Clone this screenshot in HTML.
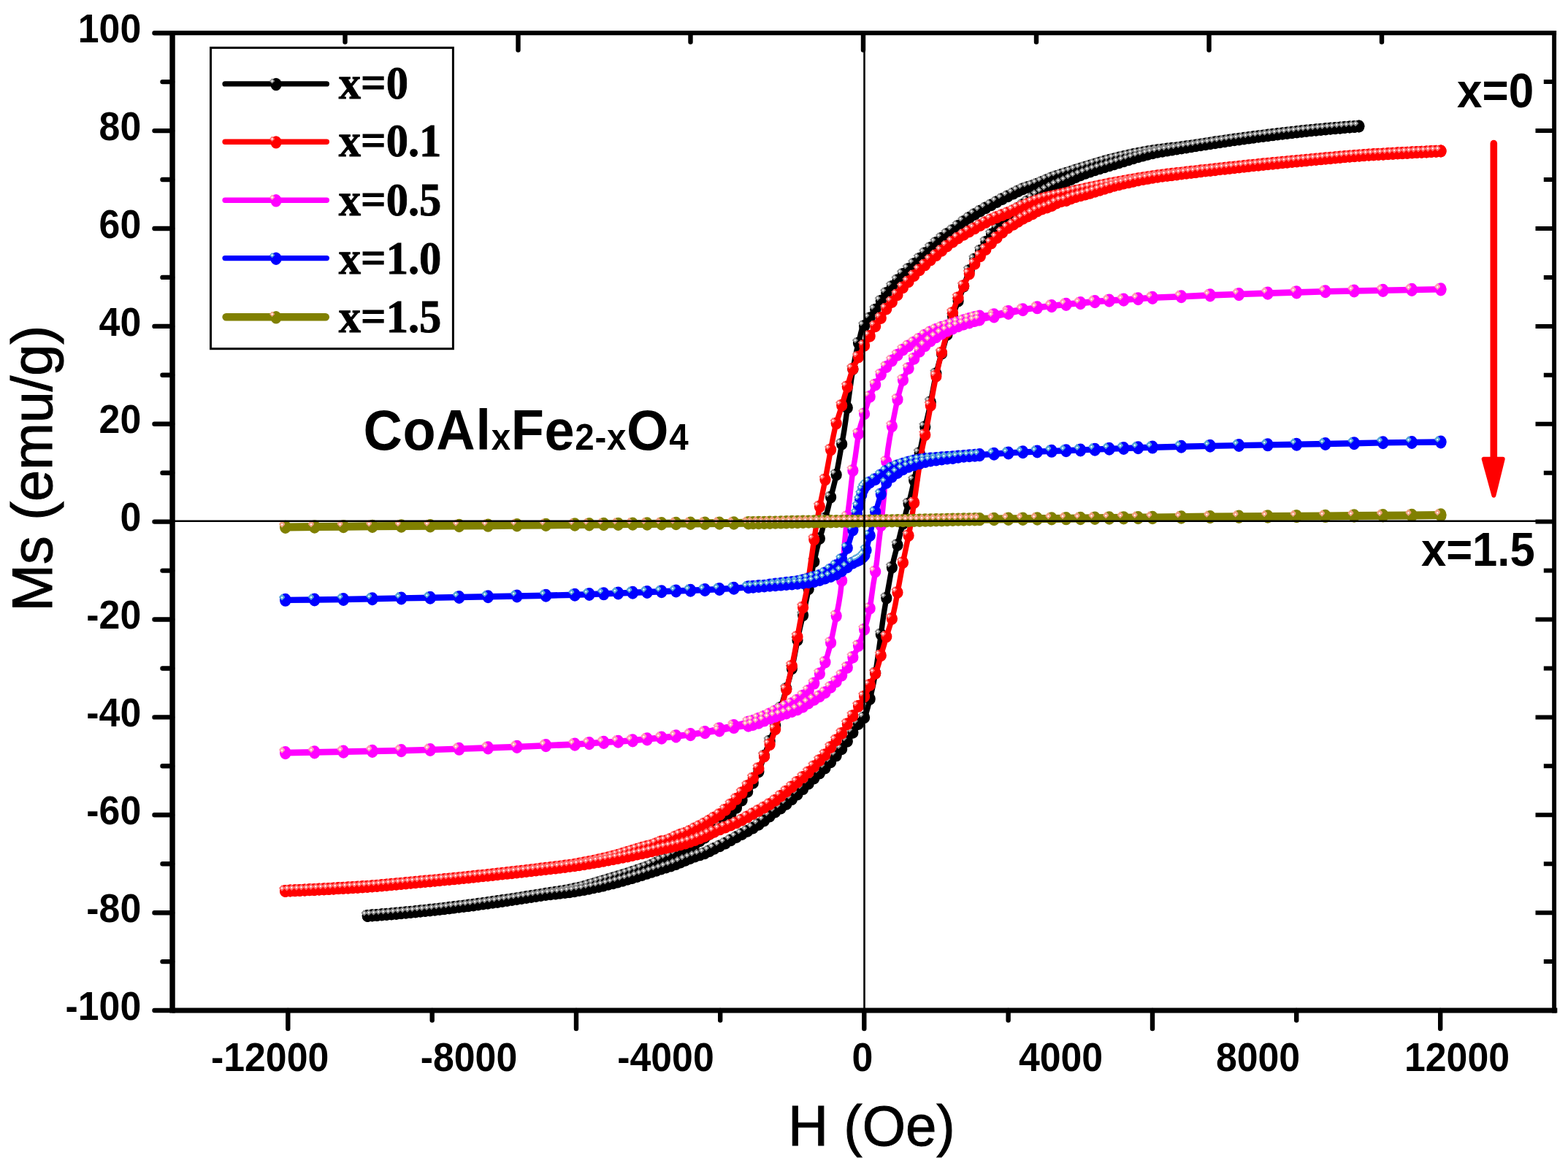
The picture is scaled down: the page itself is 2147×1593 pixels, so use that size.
<!DOCTYPE html>
<html lang="en"><head><meta charset="utf-8"><title>Hysteresis loops of CoAlxFe2-xO4</title>
<style>html,body{margin:0;padding:0;background:#fff}svg{display:block}.ab{font-family:"Liberation Sans",sans-serif;font-weight:700;fill:#000}.ar{font-family:"Liberation Sans",sans-serif;font-weight:400;fill:#000}.tb{font-family:"Liberation Serif",serif;font-weight:700;fill:#000}</style></head><body>
<svg width="2147" height="1593" viewBox="0 0 2147 1593" role="img" aria-label="Hysteresis loops (Ms versus H) of CoAlxFe2-xO4 for x = 0, 0.1, 0.5, 1.0 and 1.5">
<rect width="2147" height="1593" fill="#fff"/>
<g fill="none" stroke="#000" stroke-linecap="round" stroke-linejoin="round">
<path stroke-width="7.4" d="M503.3 1254.4 505.8 1254.2 508.3 1254 510.8 1253.8 513.3 1253.6 515.8 1253.4 518.3 1253.2 520.8 1253 523.3 1252.8 525.8 1252.6 528.3 1252.4 530.8 1252.1 533.3 1251.9 535.8 1251.7 538.3 1251.5 540.8 1251.2 543.3 1251 545.8 1250.8 548.3 1250.6 550.8 1250.3 553.3 1250.1 555.8 1249.8 558.3 1249.6 560.8 1249.3 563.3 1249.1 565.8 1248.9 568.3 1248.6 570.8 1248.3 573.3 1248.1 575.8 1247.8 578.3 1247.6 580.8 1247.3 583.3 1247 585.8 1246.7 588.3 1246.5 590.8 1246.2 593.3 1245.9 595.8 1245.6 598.3 1245.3 600.8 1245 603.3 1244.8 605.8 1244.5 608.3 1244.2 610.8 1243.9 613.3 1243.6 615.8 1243.3 618.3 1243 620.8 1242.7 623.3 1242.4 625.8 1242 628.3 1241.7 630.8 1241.4 633.3 1241.1 635.8 1240.8 638.3 1240.5 640.8 1240.1 643.3 1239.8 645.8 1239.5 648.3 1239.2 650.8 1238.8 653.3 1238.5 655.8 1238.2 658.3 1237.8 660.8 1237.5 663.3 1237.1 665.8 1236.8 668.3 1236.4 670.8 1236.1 673.3 1235.7 675.8 1235.4 678.3 1235 680.8 1234.7 683.3 1234.3 685.8 1234 688.3 1233.6 690.8 1233.2 693.3 1232.8 695.8 1232.5 698.3 1232.1 700.8 1231.7 703.3 1231.3 705.8 1231 708.3 1230.6 710.8 1230.2 713.3 1229.8 715.8 1229.4 718.3 1229 720.8 1228.6 723.3 1228.2 725.8 1227.8 728.3 1227.4 730.8 1227 733.3 1226.6 735.8 1226.2 738.3 1225.8 740.8 1225.4 743.3 1225 745.8 1224.6 748.3 1224.2 750.8 1223.8 753.3 1223.4 755.8 1223 758.3 1222.6 760.8 1222.2 763.3 1221.9 765.8 1221.5 768.3 1221.1 770.8 1220.7 773.3 1220.2 775.8 1219.8 778.3 1219.3 780.8 1218.9 783.3 1218.4 785.8 1217.9 788.3 1217.3 790.8 1216.8 793.3 1216.1 795.8 1215.5 798.3 1214.9 800.8 1214.2 803.3 1213.5 805.8 1212.8 808.3 1212.1 810.8 1211.3 813.3 1210.6 815.8 1209.8 818.3 1209.1 820.8 1208.3 823.3 1207.6 825.8 1206.8 828.3 1206 830.8 1205.3 833.3 1204.6 835.8 1203.8 838.3 1203.1 840.8 1202.3 843.3 1201.6 845.8 1200.8 848.3 1200.1 850.8 1199.3 853.3 1198.6 855.8 1197.8 858.3 1197 860.8 1196.2 863.3 1195.4 865.8 1194.6 868.3 1193.8 870.8 1193 873.3 1192.1 875.8 1191.3 878.3 1190.4 880.8 1189.5 883.3 1188.6 885.8 1187.6 888.3 1186.6 890.8 1185.6 893.3 1184.5 895.8 1183.5 898.3 1182.4 900.8 1181.2 903.3 1180.1 905.8 1179 908.3 1177.9 910.8 1176.9 913.3 1175.9 915.8 1174.9 918.3 1173.8 920.8 1172.6 923.3 1171.5 925.8 1170.2 928.3 1168.9 930.8 1167.6 933.3 1166.3 935.8 1165 938.3 1163.6 940.8 1162.2 943.3 1160.8 945.8 1159.4 948.3 1158 950.8 1156.5 953.3 1155 955.8 1153.4 958.3 1151.8 960.8 1150.1 963.3 1148.4 965.8 1146.6 968.3 1144.8 970.8 1142.9 973.3 1141 975.8 1139 978.3 1137 980.8 1134.9 983.3 1132.7 985.8 1130.5 988.3 1128.2 990.8 1125.8 993.3 1123.3 995.8 1120.7 998.3 1118 1000.8 1115.2 1003.3 1112.4 1005.8 1109.5 1008.3 1106.5 1010.8 1103.5 1013.3 1100.1 1015.8 1096.4 1018.3 1092.3 1020.8 1088.4 1023.3 1084.7 1025.8 1081 1028.3 1077.1 1030.8 1073.1 1033.3 1068.8 1035.8 1064.1 1038.3 1058.4 1040.8 1051.7 1043.3 1044.6 1045.8 1037.2 1048.3 1030.1 1050.8 1023.4 1053.3 1016.9 1055.8 1010.4 1058.3 1003.7 1060.8 996.5 1063.3 988.9 1065.8 980.8 1068.3 972.4 1070.8 963.8 1073.3 955.2 1075.8 946.6 1078.3 938.4 1080.8 929.8 1083.3 920.4 1085.8 909.1 1088.3 896.3 1090.8 883 1093.3 870.1 1095.8 858.5 1098.3 848 1100.8 837.5 1103.3 826 1105.8 813.8 1108.3 801.1 1110.8 788.4 1113.3 776.1 1115.8 764.6 1118.3 753.3 1120.8 743 1123.3 734.6 1125.8 726.5 1128.3 715.9 1130.8 707.4 1133.3 698.3 1135.8 688 1138.3 678 1140.8 668.7 1143.3 658.7 1145.8 646.7 1148.3 633.1 1150.8 618.9 1153.3 605 1155.8 590.3 1158.3 573.4 1160.8 554.8 1163.3 536.8 1165.8 519.1 1168.3 503.2 1170.8 490.2 1173.3 478.9 1175.8 468.8 1178.3 457.8 1180.8 448.2 1183.3 446.3 1185.8 444.8 1188.3 440.7 1190.8 436.4 1193.3 432.6 1195.8 428.8 1198.3 424.8 1200.8 420.9 1203.3 416.9 1205.8 413 1208.3 409 1210.8 405.4 1213.3 402.2 1215.8 399.1 1218.3 396.1 1220.8 393.2 1223.3 390.3 1225.8 387.4 1228.3 384.4 1230.8 381.6 1233.3 378.8 1235.8 376.2 1238.3 373.7 1240.8 371.4 1243.3 369.2 1245.8 366.9 1248.3 364.6 1250.8 362.3 1253.3 359.9 1255.8 357.5 1258.3 355 1260.8 352.6 1263.3 350.2 1265.8 347.7 1268.3 345.3 1270.8 342.9 1273.3 340.5 1275.8 338.2 1278.3 335.8 1280.8 333.6 1283.3 331.3 1285.8 329.2 1288.3 327.1 1290.8 325.1 1293.3 323.1 1295.8 321.3 1298.3 319.6 1300.8 317.9 1303.3 316.2 1305.8 314.5 1308.3 312.5 1310.8 310.5 1313.3 308.5 1315.8 306.5 1318.3 304.5 1320.8 302.7 1323.3 300.9 1325.8 299.2 1328.3 297.6 1330.8 295.9 1333.3 294.4 1335.8 292.9 1338.3 291.4 1340.8 290 1343.3 288.6 1345.8 287.2 1348.3 285.8 1350.8 284.4 1353.3 283 1355.8 281.7 1358.3 280.3 1360.8 278.9 1363.3 277.5 1365.8 276.1 1368.3 274.8 1370.8 273.4 1373.3 272.1 1375.8 270.8 1378.3 269.6 1380.8 268.4 1383.3 267.2 1385.8 266 1388.3 264.8 1390.8 263.5 1393.3 262.3 1395.8 261 1398.3 259.9 1400.8 258.8 1403.3 257.9 1405.8 257.1 1408.3 256.3 1410.8 255.5 1413.3 254.7 1415.8 253.8 1418.3 252.8 1420.8 251.9 1423.3 250.9 1425.8 249.8 1428.3 248.8 1430.8 247.8 1433.3 246.7 1435.8 245.6 1438.3 244.6 1440.8 243.6 1443.3 242.7 1445.8 241.8 1448.3 241 1450.8 240.2 1453.3 239.3 1455.8 238.6 1458.3 237.8 1460.8 237 1463.3 236.2 1465.8 235.4 1468.3 234.7 1470.8 233.9 1473.3 233.1 1475.8 232.3 1478.3 231.5 1480.8 230.7 1483.3 229.9 1485.8 229.2 1488.3 228.4 1490.8 227.6 1493.3 226.8 1495.8 226.1 1498.3 225.3 1500.8 224.6 1503.3 223.8 1505.8 223.1 1508.3 222.4 1510.8 221.7 1513.3 221 1515.8 220.3 1518.3 219.6 1520.8 218.9 1523.3 218.3 1525.8 217.6 1528.3 217 1530.8 216.4 1533.3 215.8 1535.8 215.2 1538.3 214.6 1540.8 214.1 1543.3 213.5 1545.8 213 1548.3 212.4 1550.8 211.9 1553.3 211.4 1555.8 210.8 1558.3 210.3 1560.8 209.9 1563.3 209.4 1565.8 208.9 1568.3 208.4 1570.8 208 1573.3 207.6 1575.8 207.2 1578.3 206.8 1580.8 206.4 1583.3 206 1585.8 205.7 1588.3 205.3 1590.8 205 1593.3 204.7 1595.8 204.4 1598.3 204.1 1600.8 203.8 1603.3 203.5 1605.8 203.2 1608.3 203 1610.8 202.7 1613.3 202.4 1615.8 202 1618.3 201.7 1620.8 201.4 1623.3 201 1625.8 200.7 1628.3 200.3 1630.8 200 1633.3 199.6 1635.8 199.2 1638.3 198.8 1640.8 198.5 1643.3 198.1 1645.8 197.7 1648.3 197.3 1650.8 196.9 1653.3 196.5 1655.8 196.1 1658.3 195.7 1660.8 195.3 1663.3 195 1665.8 194.6 1668.3 194.2 1670.8 193.8 1673.3 193.5 1675.8 193.1 1678.3 192.7 1680.8 192.4 1683.3 192 1685.8 191.7 1688.3 191.3 1690.8 191 1693.3 190.6 1695.8 190.3 1698.3 190 1700.8 189.6 1703.3 189.3 1705.8 189 1708.3 188.6 1710.8 188.3 1713.3 188 1715.8 187.6 1718.3 187.3 1720.8 187 1723.3 186.7 1725.8 186.3 1728.3 186 1730.8 185.7 1733.3 185.4 1735.8 185.1 1738.3 184.8 1740.8 184.5 1743.3 184.2 1745.8 183.9 1748.3 183.6 1750.8 183.3 1753.3 183 1755.8 182.7 1758.3 182.4 1760.8 182.1 1763.3 181.9 1765.8 181.6 1768.3 181.3 1770.8 181 1773.3 180.7 1775.8 180.5 1778.3 180.2 1780.8 179.9 1783.3 179.7 1785.8 179.4 1788.3 179.1 1790.8 178.9 1793.3 178.6 1795.8 178.4 1798.3 178.2 1800.8 177.9 1803.3 177.7 1805.8 177.5 1808.3 177.2 1810.8 177 1813.3 176.8 1815.8 176.6 1818.3 176.3 1820.8 176.1 1823.3 175.9 1825.8 175.7 1828.3 175.5 1830.8 175.3 1833.3 175.1 1835.8 174.9 1838.3 174.7 1840.8 174.5 1843.3 174.3 1845.8 174.1 1848.3 173.9 1850.8 173.7 1853.3 173.5 1855.8 173.3 1858.3 173.2 1860.8 173"/>
<path stroke-width="7.4" d="M503.3 1254.4 505.8 1254.2 508.3 1254.1 510.8 1253.9 513.3 1253.7 515.8 1253.5 518.3 1253.3 520.8 1253.1 523.3 1252.9 525.8 1252.7 528.3 1252.5 530.8 1252.3 533.3 1252.1 535.8 1251.9 538.3 1251.7 540.8 1251.5 543.3 1251.3 545.8 1251.1 548.3 1250.9 550.8 1250.6 553.3 1250.4 555.8 1250.2 558.3 1250 560.8 1249.7 563.3 1249.5 565.8 1249.3 568.3 1249 570.8 1248.8 573.3 1248.5 575.8 1248.3 578.3 1248 580.8 1247.8 583.3 1247.5 585.8 1247.2 588.3 1247 590.8 1246.7 593.3 1246.4 595.8 1246.1 598.3 1245.9 600.8 1245.6 603.3 1245.3 605.8 1245 608.3 1244.7 610.8 1244.4 613.3 1244.1 615.8 1243.8 618.3 1243.5 620.8 1243.2 623.3 1243 625.8 1242.7 628.3 1242.3 630.8 1242 633.3 1241.7 635.8 1241.4 638.3 1241.1 640.8 1240.8 643.3 1240.5 645.8 1240.2 648.3 1239.8 650.8 1239.5 653.3 1239.2 655.8 1238.9 658.3 1238.5 660.8 1238.2 663.3 1237.9 665.8 1237.5 668.3 1237.2 670.8 1236.8 673.3 1236.5 675.8 1236.1 678.3 1235.8 680.8 1235.5 683.3 1235.1 685.8 1234.8 688.3 1234.4 690.8 1234 693.3 1233.7 695.8 1233.3 698.3 1232.9 700.8 1232.5 703.3 1232.2 705.8 1231.8 708.3 1231.4 710.8 1231 713.3 1230.6 715.8 1230.2 718.3 1229.8 720.8 1229.5 723.3 1229.1 725.8 1228.7 728.3 1228.3 730.8 1227.9 733.3 1227.6 735.8 1227.2 738.3 1226.8 740.8 1226.5 743.3 1226.1 745.8 1225.8 748.3 1225.5 750.8 1225.2 753.3 1224.9 755.8 1224.6 758.3 1224.3 760.8 1224 763.3 1223.7 765.8 1223.4 768.3 1223.1 770.8 1222.8 773.3 1222.5 775.8 1222.2 778.3 1221.9 780.8 1221.5 783.3 1221.2 785.8 1220.8 788.3 1220.4 790.8 1220 793.3 1219.6 795.8 1219.1 798.3 1218.7 800.8 1218.2 803.3 1217.8 805.8 1217.3 808.3 1216.8 810.8 1216.3 813.3 1215.8 815.8 1215.2 818.3 1214.7 820.8 1214.1 823.3 1213.6 825.8 1213 828.3 1212.5 830.8 1211.9 833.3 1211.3 835.8 1210.7 838.3 1210.1 840.8 1209.4 843.3 1208.8 845.8 1208.1 848.3 1207.5 850.8 1206.8 853.3 1206.1 855.8 1205.4 858.3 1204.7 860.8 1203.9 863.3 1203.2 865.8 1202.5 868.3 1201.7 870.8 1201 873.3 1200.2 875.8 1199.4 878.3 1198.7 880.8 1197.9 883.3 1197.1 885.8 1196.3 888.3 1195.6 890.8 1194.8 893.3 1194 895.8 1193.2 898.3 1192.4 900.8 1191.6 903.3 1190.9 905.8 1190.1 908.3 1189.3 910.8 1188.5 913.3 1187.7 915.8 1186.9 918.3 1186.1 920.8 1185.3 923.3 1184.4 925.8 1183.4 928.3 1182.4 930.8 1181.4 933.3 1180.3 935.8 1179.2 938.3 1178.2 940.8 1177.2 943.3 1176.2 945.8 1175.2 948.3 1174.2 950.8 1173.3 953.3 1172.4 955.8 1171.6 958.3 1170.9 960.8 1170.1 963.3 1169.2 965.8 1168.3 968.3 1167.2 970.8 1166 973.3 1164.8 975.8 1163.5 978.3 1162.2 980.8 1161 983.3 1159.9 985.8 1158.7 988.3 1157.5 990.8 1156.2 993.3 1155 995.8 1153.6 998.3 1152.3 1000.8 1150.9 1003.3 1149.5 1005.8 1148.1 1008.3 1146.8 1010.8 1145.4 1013.3 1144 1015.8 1142.7 1018.3 1141.3 1020.8 1139.9 1023.3 1138.5 1025.8 1137.1 1028.3 1135.7 1030.8 1134.2 1033.3 1132.7 1035.8 1131.1 1038.3 1129.5 1040.8 1127.8 1043.3 1126.1 1045.8 1124.3 1048.3 1122.5 1050.8 1120.5 1053.3 1118.5 1055.8 1116.5 1058.3 1114.5 1060.8 1112.6 1063.3 1110.9 1065.8 1109.2 1068.3 1107.5 1070.8 1105.8 1073.3 1104 1075.8 1102.1 1078.3 1100 1080.8 1097.9 1083.3 1095.8 1085.8 1093.5 1088.3 1091.3 1090.8 1089 1093.3 1086.6 1095.8 1084.2 1098.3 1081.8 1100.8 1079.4 1103.3 1077 1105.8 1074.6 1108.3 1072.1 1110.8 1069.7 1113.3 1067.3 1115.8 1064.9 1118.3 1062.6 1120.8 1060.3 1123.3 1058.1 1125.8 1055.9 1128.3 1053.6 1130.8 1051.1 1133.3 1048.4 1135.8 1045.7 1138.3 1042.8 1140.8 1039.9 1143.3 1037 1145.8 1034.1 1148.3 1031.2 1150.8 1028.2 1153.3 1025.1 1155.8 1021.9 1158.3 1018.3 1160.8 1014.4 1163.3 1010.4 1165.8 1006.5 1168.3 1002.5 1170.8 998.6 1173.3 994.6 1175.8 991.1 1178.3 988.5 1180.8 986.2 1183.3 983.1 1185.8 977.6 1188.3 968.7 1190.8 958.7 1193.3 948.5 1195.8 937.2 1198.3 924.2 1200.8 908.2 1203.3 890.4 1205.8 872.4 1208.3 853.6 1210.8 836.8 1213.3 822.1 1215.8 808 1218.3 793.8 1220.8 780.2 1223.3 768.2 1225.8 758.3 1228.3 748.9 1230.8 738.8 1233.3 728.6 1235.8 719.5 1238.3 710.8 1240.8 700.3 1243.3 692.3 1245.8 683.7 1248.3 673.2 1250.8 661.9 1253.3 650.2 1255.8 637.9 1258.3 625.1 1260.8 612.4 1263.3 600.1 1265.8 588.8 1268.3 578.3 1270.8 567.7 1273.3 555.9 1275.8 542.8 1278.3 529.4 1280.8 516.7 1283.3 505.7 1285.8 496.4 1288.3 487.9 1290.8 479.6 1293.3 471 1295.8 462.3 1298.3 453.7 1300.8 445.3 1303.3 437.2 1305.8 429.6 1308.3 422.6 1310.8 415.8 1313.3 409.3 1315.8 402.8 1318.3 396 1320.8 388.8 1323.3 381.4 1325.8 374.3 1328.3 367.8 1330.8 362.3 1333.3 357.6 1335.8 353.4 1338.3 349.4 1340.8 345.5 1343.3 341.9 1345.8 338.1 1348.3 334.1 1350.8 330.1 1353.3 326.5 1355.8 323.2 1358.3 320.1 1360.8 317.2 1363.3 314.3 1365.8 311.5 1368.3 308.7 1370.8 306 1373.3 303.4 1375.8 300.9 1378.3 298.5 1380.8 296.3 1383.3 294 1385.8 291.9 1388.3 289.8 1390.8 287.8 1393.3 285.8 1395.8 283.9 1398.3 282.1 1400.8 280.2 1403.3 278.5 1405.8 276.8 1408.3 275.1 1410.8 273.5 1413.3 271.9 1415.8 270.4 1418.3 268.9 1420.8 267.5 1423.3 266.1 1425.8 264.7 1428.3 263.3 1430.8 262 1433.3 260.6 1435.8 259.3 1438.3 258 1440.8 256.7 1443.3 255.5 1445.8 254.3 1448.3 253.2 1450.8 252.1 1453.3 251.1 1455.8 250.1 1458.3 249 1460.8 247.9 1463.3 246.8 1465.8 245.7 1468.3 244.6 1470.8 243.5 1473.3 242.4 1475.8 241.3 1478.3 240.3 1480.8 239.4 1483.3 238.4 1485.8 237.5 1488.3 236.6 1490.8 235.8 1493.3 234.9 1495.8 234 1498.3 233.2 1500.8 232.4 1503.3 231.6 1505.8 230.8 1508.3 230 1510.8 229.2 1513.3 228.5 1515.8 227.7 1518.3 226.9 1520.8 226.2 1523.3 225.4 1525.8 224.7 1528.3 223.9 1530.8 223.2 1533.3 222.5 1535.8 221.7 1538.3 221 1540.8 220.2 1543.3 219.4 1545.8 218.7 1548.3 217.9 1550.8 217.2 1553.3 216.4 1555.8 215.7 1558.3 214.9 1560.8 214.2 1563.3 213.5 1565.8 212.8 1568.3 212.2 1570.8 211.5 1573.3 210.9 1575.8 210.3 1578.3 209.8 1580.8 209.2 1583.3 208.7 1585.8 208.2 1588.3 207.8 1590.8 207.3 1593.3 206.9 1595.8 206.5 1598.3 206.1 1600.8 205.7 1603.3 205.3 1605.8 204.9 1608.3 204.5 1610.8 204.1 1613.3 203.8 1615.8 203.4 1618.3 203 1620.8 202.6 1623.3 202.2 1625.8 201.8 1628.3 201.3 1630.8 200.9 1633.3 200.5 1635.8 200.1 1638.3 199.7 1640.8 199.3 1643.3 198.9 1645.8 198.5 1648.3 198.1 1650.8 197.7 1653.3 197.3 1655.8 197 1658.3 196.6 1660.8 196.2 1663.3 195.8 1665.8 195.4 1668.3 195 1670.8 194.7 1673.3 194.3 1675.8 193.9 1678.3 193.5 1680.8 193.2 1683.3 192.8 1685.8 192.5 1688.3 192.1 1690.8 191.7 1693.3 191.4 1695.8 191 1698.3 190.7 1700.8 190.3 1703.3 190 1705.8 189.7 1708.3 189.3 1710.8 189 1713.3 188.6 1715.8 188.3 1718.3 188 1720.8 187.6 1723.3 187.3 1725.8 187 1728.3 186.7 1730.8 186.3 1733.3 186 1735.8 185.7 1738.3 185.4 1740.8 185.1 1743.3 184.8 1745.8 184.5 1748.3 184.2 1750.8 183.9 1753.3 183.6 1755.8 183.3 1758.3 183 1760.8 182.7 1763.3 182.4 1765.8 182.1 1768.3 181.8 1770.8 181.5 1773.3 181.2 1775.8 181 1778.3 180.7 1780.8 180.4 1783.3 180.1 1785.8 179.9 1788.3 179.6 1790.8 179.3 1793.3 179.1 1795.8 178.8 1798.3 178.6 1800.8 178.3 1803.3 178.1 1805.8 177.8 1808.3 177.6 1810.8 177.3 1813.3 177.1 1815.8 176.9 1818.3 176.6 1820.8 176.4 1823.3 176.2 1825.8 175.9 1828.3 175.7 1830.8 175.5 1833.3 175.3 1835.8 175 1838.3 174.8 1840.8 174.6 1843.3 174.4 1845.8 174.2 1848.3 174 1850.8 173.8 1853.3 173.6 1855.8 173.4 1858.3 173.2 1860.8 173"/>
<g transform="scale(1 1.11842)">
<path stroke-width="15.2" d="M503.3 1121.6h0M509.6 1121.1h0M516.2 1120.7h0M522.8 1120.2h0M529.4 1119.7h0M536 1119.2h0M542.6 1118.6h0M549.2 1118.1h0M555.8 1117.5h0M562.4 1116.9h0M569 1116.3h0M575.6 1115.7h0M582.2 1115.1h0M588.8 1114.4h0M595.4 1113.8h0M602 1113.1h0M608.6 1112.4h0M615.2 1111.7h0M621.8 1111h0M628.4 1110.3h0M635 1109.5h0M641.6 1108.8h0M648.2 1108h0M654.8 1107.2h0M661.4 1106.4h0M668 1105.6h0M674.6 1104.7h0M681.2 1103.9h0M687.8 1103h0M694.4 1102.2h0M701 1101.3h0M707.6 1100.4h0M714.2 1099.5h0M720.8 1098.5h0M727.4 1097.6h0M734 1096.6h0M740.6 1095.7h0M747.2 1094.7h0M753.8 1093.8h0M760.4 1092.9h0M767 1092h0M773.6 1091h0M780.2 1089.9h0M786.8 1088.7h0M793.4 1087.4h0M800 1085.8h0M806.6 1084.2h0M813.2 1082.5h0M819.8 1080.7h0M826.4 1078.9h0M833 1077.1h0M839.6 1075.4h0M846.2 1073.6h0M852.8 1071.8h0M859.4 1070h0M866 1068.1h0M872.6 1066.1h0M879.2 1064.1h0M885.8 1061.9h0M892.4 1059.5h0M899 1056.9h0M905.6 1054.3h0M912.2 1051.8h0M918.8 1049.3h0M925.4 1046.5h0M932 1043.5h0M938.6 1040.3h0M945.2 1037h0M951.8 1033.5h0M958.4 1029.8h0M965 1025.7h0M971.6 1021.4h0M978.2 1016.7h0M985.8 1010.9h0M993.4 1004.3h0M1000.9 997h0M1008.5 989.2h0M1016.1 979.9h0M1023.7 969.4h0M1031.3 958.8h0M1038.9 945h0M1046.5 925.7h0M1054.1 907.5h0M1061.7 888.8h0M1069.3 866.6h0M1076.8 843.4h0M1084.4 818.7h0M1092 783.9h0M1099.6 753.4h0M1107.2 721.4h0M1114.8 687.9h0M1122.4 659.4h0M1130 634.9h0M1137.6 608.9h0M1145.2 581.3h0M1152.7 543.8h0M1160.3 499.3h0M1167.9 452h0M1175.5 420.3h0M1183.6 399.2h0M1191.2 389.7h0M1198.7 379.3h0M1206.3 368.6h0M1213.8 359h0M1221.4 351h0M1229 343.1h0M1236.5 335.7h0M1244.1 329.5h0M1251.7 323.2h0M1259.2 316.7h0M1266.8 310.1h0M1274.3 303.6h0M1281.9 297.4h0M1289.5 291.6h0M1297 286.6h0M1304.6 282h0M1312.1 276.7h0M1319.7 271.4h0M1327.3 266.7h0M1334.8 262.4h0M1342.4 258.5h0M1349.9 254.7h0M1357.5 251h0M1365.1 247.3h0M1372.6 243.6h0M1380.2 240.3h0M1387.8 237h0M1394.3 234h0M1400.9 231.4h0M1407.5 229.4h0M1414.1 227.5h0M1420.6 225.3h0M1427.2 222.9h0M1433.8 220.4h0M1440.4 218h0M1446.9 215.9h0M1453.5 214h0M1460.1 212.1h0M1466.7 210.3h0M1473.2 208.4h0M1479.8 206.6h0M1486.4 204.7h0M1493 202.9h0M1499.5 201.2h0M1506.1 199.4h0M1512.7 197.7h0M1519.3 196.1h0M1525.8 194.6h0M1532.4 193.1h0M1539 191.8h0M1545.6 190.5h0M1552.1 189.2h0M1558.7 188h0M1565.3 186.9h0M1571.9 185.8h0M1578.4 184.9h0M1585 184h0M1591.6 183.2h0M1598.2 182.5h0M1604.7 181.8h0M1611.3 181.2h0M1617.9 180.4h0M1624.5 179.6h0M1631 178.8h0M1637.6 177.9h0M1644.2 177h0M1650.8 176.1h0M1657.3 175.2h0M1663.9 174.2h0M1670.5 173.4h0M1677.1 172.5h0M1683.6 171.7h0M1690.2 170.8h0M1696.8 170h0M1703.4 169.2h0M1709.9 168.5h0M1716.5 167.7h0M1723.1 166.9h0M1729.7 166.2h0M1736.2 165.5h0M1742.8 164.8h0M1749.4 164.1h0M1756 163.4h0M1762.5 162.7h0M1769.1 162h0M1775.7 161.4h0M1782.3 160.7h0M1788.8 160.1h0M1795.4 159.5h0M1802 159h0M1808.6 158.4h0M1815.1 157.9h0M1821.7 157.4h0M1828.3 156.9h0M1834.9 156.4h0M1841.4 155.9h0M1848 155.5h0M1854.6 155.1h0M1860.8 154.7h0"/>
<path stroke-width="15.2" d="M503.3 1121.6h0M509.6 1121.2h0M516.2 1120.8h0M522.8 1120.3h0M529.4 1119.8h0M536 1119.4h0M542.6 1118.9h0M549.2 1118.3h0M555.8 1117.8h0M562.4 1117.3h0M569 1116.7h0M575.6 1116.1h0M582.2 1115.5h0M588.8 1114.9h0M595.4 1114.2h0M602 1113.6h0M608.6 1112.9h0M615.2 1112.2h0M621.8 1111.5h0M628.4 1110.8h0M635 1110.1h0M641.6 1109.3h0M648.2 1108.6h0M654.8 1107.8h0M661.4 1107h0M668 1106.2h0M674.6 1105.4h0M681.2 1104.6h0M687.8 1103.8h0M694.4 1102.9h0M701 1102h0M707.6 1101.1h0M714.2 1100.2h0M720.8 1099.3h0M727.4 1098.4h0M734 1097.5h0M740.6 1096.6h0M747.2 1095.8h0M753.8 1095.1h0M760.4 1094.4h0M767 1093.7h0M773.6 1093h0M780.2 1092.3h0M786.8 1091.4h0M793.4 1090.4h0M800 1089.4h0M806.6 1088.3h0M813.2 1087.1h0M819.8 1085.8h0M826.4 1084.5h0M833 1083.1h0M839.6 1081.7h0M846.2 1080.1h0M852.8 1078.5h0M859.4 1076.8h0M866 1075.1h0M872.6 1073.3h0M879.2 1071.5h0M885.8 1069.7h0M892.4 1067.8h0M899 1066h0M905.6 1064.1h0M912.2 1062.3h0M918.8 1060.4h0M925.4 1058.3h0M932 1055.9h0M938.6 1053.4h0M945.2 1051h0M951.8 1048.8h0M958.4 1046.9h0M965 1044.9h0M971.6 1042.2h0M978.2 1039.2h0M985.8 1036h0M993.4 1032.7h0M1000.9 1029h0M1008.5 1025.2h0M1016.1 1021.5h0M1023.7 1017.8h0M1031.3 1013.9h0M1038.9 1009.6h0M1046.5 1004.9h0M1054.1 999.6h0M1061.7 994.3h0M1069.3 989.7h0M1076.8 984.6h0M1084.4 978.9h0M1092 972.7h0M1099.6 966.2h0M1107.2 959.6h0M1114.8 953.1h0M1122.4 946.8h0M1130 940.6h0M1137.6 933.2h0M1145.2 925.3h0M1152.7 917.2h0M1160.3 907.7h0M1167.9 897h0M1175.5 886.5h0M1183.6 878.6h0M1191.2 856h0M1198.7 824.3h0M1206.3 776.9h0M1213.8 732.4h0M1221.4 694.9h0M1229 667.4h0M1236.5 641.4h0M1244.1 616.9h0M1251.7 588.4h0M1259.2 554.9h0M1266.8 522.8h0M1274.3 492.4h0M1281.9 457.6h0M1289.5 432.9h0M1297 409.7h0M1304.6 387.5h0M1312.1 368.7h0M1319.7 350.6h0M1327.3 331.2h0M1334.8 317.5h0M1342.4 306.9h0M1349.9 296.4h0M1357.5 287.1h0M1365.1 279.2h0M1372.6 271.9h0M1380.2 265.4h0M1387.8 259.6h0M1394.3 254.9h0M1400.9 250.5h0M1407.5 246.5h0M1414.1 242.7h0M1420.6 239.3h0M1427.2 236h0M1433.8 232.8h0M1440.4 229.7h0M1446.9 226.9h0M1453.5 224.5h0M1460.1 222h0M1466.7 219.4h0M1473.2 216.8h0M1479.8 214.4h0M1486.4 212.2h0M1493 210.1h0M1499.5 208.2h0M1506.1 206.3h0M1512.7 204.5h0M1519.3 202.7h0M1525.8 200.9h0M1532.4 199.2h0M1539 197.4h0M1545.6 195.6h0M1552.1 193.8h0M1558.7 192.1h0M1565.3 190.4h0M1571.9 188.9h0M1578.4 187.5h0M1585 186.3h0M1591.6 185.3h0M1598.2 184.3h0M1604.7 183.4h0M1611.3 182.5h0M1617.9 181.5h0M1624.5 180.6h0M1631 179.6h0M1637.6 178.7h0M1644.2 177.7h0M1650.8 176.8h0M1657.3 175.9h0M1663.9 175h0M1670.5 174.1h0M1677.1 173.2h0M1683.6 172.4h0M1690.2 171.5h0M1696.8 170.7h0M1703.4 169.9h0M1709.9 169.1h0M1716.5 168.3h0M1723.1 167.5h0M1729.7 166.8h0M1736.2 166h0M1742.8 165.3h0M1749.4 164.6h0M1756 163.9h0M1762.5 163.2h0M1769.1 162.5h0M1775.7 161.8h0M1782.3 161.2h0M1788.8 160.5h0M1795.4 159.9h0M1802 159.3h0M1808.6 158.8h0M1815.1 158.2h0M1821.7 157.6h0M1828.3 157.1h0M1834.9 156.6h0M1841.4 156.1h0M1848 155.6h0M1854.6 155.1h0M1860.8 154.7h0"/>
</g>
<path stroke="#8c8c8c" stroke-linecap="square" stroke-width="5.7" d="M498.6 1250.4l.01 .01M504.9 1249.9l.01 .01M511.5 1249.4l.01 .01M518.1 1248.8l.01 .01M524.7 1248.3l.01 .01M531.3 1247.7l.01 .01M537.9 1247.1l.01 .01M544.5 1246.5l.01 .01M551.1 1245.8l.01 .01M557.7 1245.2l.01 .01M564.3 1244.5l.01 .01M570.9 1243.9l.01 .01M577.5 1243.1l.01 .01M584.1 1242.4l.01 .01M590.7 1241.7l.01 .01M597.3 1240.9l.01 .01M603.9 1240.1l.01 .01M610.5 1239.3l.01 .01M617.1 1238.5l.01 .01M623.7 1237.7l.01 .01M630.3 1236.9l.01 .01M636.9 1236.1l.01 .01M643.5 1235.2l.01 .01M650.1 1234.3l.01 .01M656.7 1233.4l.01 .01M663.3 1232.5l.01 .01M669.9 1231.6l.01 .01M676.5 1230.6l.01 .01M683.1 1229.7l.01 .01M689.7 1228.7l.01 .01M696.3 1227.7l.01 .01M702.9 1226.7l.01 .01M709.5 1225.6l.01 .01M716.1 1224.6l.01 .01M722.7 1223.5l.01 .01M729.3 1222.5l.01 .01M735.9 1221.4l.01 .01M742.5 1220.4l.01 .01M749.1 1219.3l.01 .01M755.7 1218.3l.01 .01M762.3 1217.3l.01 .01M768.9 1216.2l.01 .01M775.5 1215l.01 .01M782.1 1213.7l.01 .01M788.7 1212.1l.01 .01M795.3 1210.4l.01 .01M801.9 1208.6l.01 .01M808.5 1206.6l.01 .01M815.1 1204.6l.01 .01M821.7 1202.6l.01 .01M828.3 1200.7l.01 .01M834.9 1198.7l.01 .01M841.5 1196.7l.01 .01M848.1 1194.7l.01 .01M854.7 1192.7l.01 .01M861.3 1190.6l.01 .01M867.9 1188.4l.01 .01M874.5 1186.1l.01 .01M881.1 1183.7l.01 .01M887.7 1181l.01 .01M894.3 1178.1l.01 .01M900.9 1175.1l.01 .01M907.5 1172.3l.01 .01M914.1 1169.6l.01 .01M920.7 1166.4l.01 .01M927.3 1163l.01 .01M933.9 1159.5l.01 .01M940.5 1155.8l.01 .01M947.1 1151.9l.01 .01M953.7 1147.8l.01 .01M960.3 1143.2l.01 .01M966.9 1138.3l.01 .01M973.5 1133.1l.01 .01M981.1 1126.6l.01 .01M988.7 1119.3l.01 .01M996.2 1111.1l.01 .01M1003.8 1102.3l.01 .01M1011.4 1091.9l.01 .01M1019 1080.2l.01 .01M1026.6 1068.3l.01 .01M1034.2 1052.9l.01 .01M1041.8 1031.3l.01 .01M1049.4 1011l.01 .01M1057 990l.01 .01M1064.6 965.2l.01 .01M1072.1 939.3l.01 .01M1079.7 911.7l.01 .01M1087.3 872.7l.01 .01M1094.9 838.7l.01 .01M1102.5 802.8l.01 .01M1110.1 765.3l.01 .01M1117.7 733.5l.01 .01M1125.3 706.1l.01 .01M1132.9 677l.01 .01M1140.5 646.2l.01 .01M1148 604.2l.01 .01M1155.6 554.5l.01 .01M1163.2 501.5l.01 .01M1170.8 466l.01 .01M1178.9 442.5l.01 .01M1186.5 431.9l.01 .01M1194 420.2l.01 .01M1201.6 408.2l.01 .01M1209.1 397.5l.01 .01M1216.7 388.5l.01 .01M1224.3 379.7l.01 .01M1231.8 371.5l.01 .01M1239.4 364.5l.01 .01M1247 357.5l.01 .01M1254.5 350.2l.01 .01M1262.1 342.8l.01 .01M1269.6 335.6l.01 .01M1277.2 328.6l.01 .01M1284.8 322.2l.01 .01M1292.3 316.5l.01 .01M1299.9 311.4l.01 .01M1307.4 305.5l.01 .01M1315 299.5l.01 .01M1322.6 294.3l.01 .01M1330.1 289.5l.01 .01M1337.7 285.1l.01 .01M1345.2 280.9l.01 .01M1352.8 276.7l.01 .01M1360.4 272.6l.01 .01M1367.9 268.4l.01 .01M1375.5 264.7l.01 .01M1383.1 261.1l.01 .01M1389.6 257.8l.01 .01M1396.2 254.8l.01 .01M1402.8 252.5l.01 .01M1409.4 250.4l.01 .01M1415.9 247.9l.01 .01M1422.5 245.3l.01 .01M1429.1 242.5l.01 .01M1435.7 239.8l.01 .01M1442.2 237.4l.01 .01M1448.8 235.3l.01 .01M1455.4 233.2l.01 .01M1462 231.2l.01 .01M1468.5 229.1l.01 .01M1475.1 227l.01 .01M1481.7 225l.01 .01M1488.3 223l.01 .01M1494.8 221l.01 .01M1501.4 219l.01 .01M1508 217.2l.01 .01M1514.6 215.4l.01 .01M1521.1 213.6l.01 .01M1527.7 212l.01 .01M1534.3 210.5l.01 .01M1540.9 209l.01 .01M1547.4 207.6l.01 .01M1554 206.3l.01 .01M1560.6 205l.01 .01M1567.2 203.8l.01 .01M1573.7 202.7l.01 .01M1580.3 201.8l.01 .01M1586.9 200.9l.01 .01M1593.5 200.1l.01 .01M1600 199.4l.01 .01M1606.6 198.6l.01 .01M1613.2 197.8l.01 .01M1619.8 196.9l.01 .01M1626.3 195.9l.01 .01M1632.9 195l.01 .01M1639.5 193.9l.01 .01M1646.1 192.9l.01 .01M1652.6 191.9l.01 .01M1659.2 190.9l.01 .01M1665.8 189.9l.01 .01M1672.4 188.9l.01 .01M1678.9 188l.01 .01M1685.5 187.1l.01 .01M1692.1 186.2l.01 .01M1698.7 185.3l.01 .01M1705.2 184.4l.01 .01M1711.8 183.5l.01 .01M1718.4 182.7l.01 .01M1725 181.9l.01 .01M1731.5 181.1l.01 .01M1738.1 180.3l.01 .01M1744.7 179.5l.01 .01M1751.3 178.7l.01 .01M1757.8 178l.01 .01M1764.4 177.2l.01 .01M1771 176.5l.01 .01M1777.6 175.8l.01 .01M1784.1 175.1l.01 .01M1790.7 174.4l.01 .01M1797.3 173.8l.01 .01M1803.9 173.2l.01 .01M1810.4 172.6l.01 .01M1817 172l.01 .01M1823.6 171.5l.01 .01M1830.2 170.9l.01 .01M1836.7 170.4l.01 .01M1843.3 169.9l.01 .01M1849.9 169.4l.01 .01M1856.1 169l.01 .01"/>
<path stroke="#fff" stroke-linecap="square" stroke-width="2.1" d="M498.6 1250.4l.01 .01M504.9 1249.9l.01 .01M511.5 1249.4l.01 .01M518.1 1248.8l.01 .01M524.7 1248.3l.01 .01M531.3 1247.7l.01 .01M537.9 1247.1l.01 .01M544.5 1246.5l.01 .01M551.1 1245.8l.01 .01M557.7 1245.2l.01 .01M564.3 1244.5l.01 .01M570.9 1243.9l.01 .01M577.5 1243.1l.01 .01M584.1 1242.4l.01 .01M590.7 1241.7l.01 .01M597.3 1240.9l.01 .01M603.9 1240.1l.01 .01M610.5 1239.3l.01 .01M617.1 1238.5l.01 .01M623.7 1237.7l.01 .01M630.3 1236.9l.01 .01M636.9 1236.1l.01 .01M643.5 1235.2l.01 .01M650.1 1234.3l.01 .01M656.7 1233.4l.01 .01M663.3 1232.5l.01 .01M669.9 1231.6l.01 .01M676.5 1230.6l.01 .01M683.1 1229.7l.01 .01M689.7 1228.7l.01 .01M696.3 1227.7l.01 .01M702.9 1226.7l.01 .01M709.5 1225.6l.01 .01M716.1 1224.6l.01 .01M722.7 1223.5l.01 .01M729.3 1222.5l.01 .01M735.9 1221.4l.01 .01M742.5 1220.4l.01 .01M749.1 1219.3l.01 .01M755.7 1218.3l.01 .01M762.3 1217.3l.01 .01M768.9 1216.2l.01 .01M775.5 1215l.01 .01M782.1 1213.7l.01 .01M788.7 1212.1l.01 .01M795.3 1210.4l.01 .01M801.9 1208.6l.01 .01M808.5 1206.6l.01 .01M815.1 1204.6l.01 .01M821.7 1202.6l.01 .01M828.3 1200.7l.01 .01M834.9 1198.7l.01 .01M841.5 1196.7l.01 .01M848.1 1194.7l.01 .01M854.7 1192.7l.01 .01M861.3 1190.6l.01 .01M867.9 1188.4l.01 .01M874.5 1186.1l.01 .01M881.1 1183.7l.01 .01M887.7 1181l.01 .01M894.3 1178.1l.01 .01M900.9 1175.1l.01 .01M907.5 1172.3l.01 .01M914.1 1169.6l.01 .01M920.7 1166.4l.01 .01M927.3 1163l.01 .01M933.9 1159.5l.01 .01M940.5 1155.8l.01 .01M947.1 1151.9l.01 .01M953.7 1147.8l.01 .01M960.3 1143.2l.01 .01M966.9 1138.3l.01 .01M973.5 1133.1l.01 .01M981.1 1126.6l.01 .01M988.7 1119.3l.01 .01M996.2 1111.1l.01 .01M1003.8 1102.3l.01 .01M1011.4 1091.9l.01 .01M1019 1080.2l.01 .01M1026.6 1068.3l.01 .01M1034.2 1052.9l.01 .01M1041.8 1031.3l.01 .01M1049.4 1011l.01 .01M1057 990l.01 .01M1064.6 965.2l.01 .01M1072.1 939.3l.01 .01M1079.7 911.7l.01 .01M1087.3 872.7l.01 .01M1094.9 838.7l.01 .01M1102.5 802.8l.01 .01M1110.1 765.3l.01 .01M1117.7 733.5l.01 .01M1125.3 706.1l.01 .01M1132.9 677l.01 .01M1140.5 646.2l.01 .01M1148 604.2l.01 .01M1155.6 554.5l.01 .01M1163.2 501.5l.01 .01M1170.8 466l.01 .01M1178.9 442.5l.01 .01M1186.5 431.9l.01 .01M1194 420.2l.01 .01M1201.6 408.2l.01 .01M1209.1 397.5l.01 .01M1216.7 388.5l.01 .01M1224.3 379.7l.01 .01M1231.8 371.5l.01 .01M1239.4 364.5l.01 .01M1247 357.5l.01 .01M1254.5 350.2l.01 .01M1262.1 342.8l.01 .01M1269.6 335.6l.01 .01M1277.2 328.6l.01 .01M1284.8 322.2l.01 .01M1292.3 316.5l.01 .01M1299.9 311.4l.01 .01M1307.4 305.5l.01 .01M1315 299.5l.01 .01M1322.6 294.3l.01 .01M1330.1 289.5l.01 .01M1337.7 285.1l.01 .01M1345.2 280.9l.01 .01M1352.8 276.7l.01 .01M1360.4 272.6l.01 .01M1367.9 268.4l.01 .01M1375.5 264.7l.01 .01M1383.1 261.1l.01 .01M1389.6 257.8l.01 .01M1396.2 254.8l.01 .01M1402.8 252.5l.01 .01M1409.4 250.4l.01 .01M1415.9 247.9l.01 .01M1422.5 245.3l.01 .01M1429.1 242.5l.01 .01M1435.7 239.8l.01 .01M1442.2 237.4l.01 .01M1448.8 235.3l.01 .01M1455.4 233.2l.01 .01M1462 231.2l.01 .01M1468.5 229.1l.01 .01M1475.1 227l.01 .01M1481.7 225l.01 .01M1488.3 223l.01 .01M1494.8 221l.01 .01M1501.4 219l.01 .01M1508 217.2l.01 .01M1514.6 215.4l.01 .01M1521.1 213.6l.01 .01M1527.7 212l.01 .01M1534.3 210.5l.01 .01M1540.9 209l.01 .01M1547.4 207.6l.01 .01M1554 206.3l.01 .01M1560.6 205l.01 .01M1567.2 203.8l.01 .01M1573.7 202.7l.01 .01M1580.3 201.8l.01 .01M1586.9 200.9l.01 .01M1593.5 200.1l.01 .01M1600 199.4l.01 .01M1606.6 198.6l.01 .01M1613.2 197.8l.01 .01M1619.8 196.9l.01 .01M1626.3 195.9l.01 .01M1632.9 195l.01 .01M1639.5 193.9l.01 .01M1646.1 192.9l.01 .01M1652.6 191.9l.01 .01M1659.2 190.9l.01 .01M1665.8 189.9l.01 .01M1672.4 188.9l.01 .01M1678.9 188l.01 .01M1685.5 187.1l.01 .01M1692.1 186.2l.01 .01M1698.7 185.3l.01 .01M1705.2 184.4l.01 .01M1711.8 183.5l.01 .01M1718.4 182.7l.01 .01M1725 181.9l.01 .01M1731.5 181.1l.01 .01M1738.1 180.3l.01 .01M1744.7 179.5l.01 .01M1751.3 178.7l.01 .01M1757.8 178l.01 .01M1764.4 177.2l.01 .01M1771 176.5l.01 .01M1777.6 175.8l.01 .01M1784.1 175.1l.01 .01M1790.7 174.4l.01 .01M1797.3 173.8l.01 .01M1803.9 173.2l.01 .01M1810.4 172.6l.01 .01M1817 172l.01 .01M1823.6 171.5l.01 .01M1830.2 170.9l.01 .01M1836.7 170.4l.01 .01M1843.3 169.9l.01 .01M1849.9 169.4l.01 .01M1856.1 169l.01 .01"/>
<path stroke="#8c8c8c" stroke-linecap="square" stroke-width="5.7" d="M498.6 1250.4l.01 .01M504.9 1250l.01 .01M511.5 1249.5l.01 .01M518.1 1249l.01 .01M524.7 1248.5l.01 .01M531.3 1247.9l.01 .01M537.9 1247.4l.01 .01M544.5 1246.8l.01 .01M551.1 1246.2l.01 .01M557.7 1245.6l.01 .01M564.3 1245l.01 .01M570.9 1244.3l.01 .01M577.5 1243.6l.01 .01M584.1 1242.9l.01 .01M590.7 1242.2l.01 .01M597.3 1241.4l.01 .01M603.9 1240.7l.01 .01M610.5 1239.9l.01 .01M617.1 1239.1l.01 .01M623.7 1238.3l.01 .01M630.3 1237.5l.01 .01M636.9 1236.7l.01 .01M643.5 1235.9l.01 .01M650.1 1235l.01 .01M656.7 1234.1l.01 .01M663.3 1233.2l.01 .01M669.9 1232.3l.01 .01M676.5 1231.4l.01 .01M683.1 1230.5l.01 .01M689.7 1229.5l.01 .01M696.3 1228.5l.01 .01M702.9 1227.5l.01 .01M709.5 1226.5l.01 .01M716.1 1225.5l.01 .01M722.7 1224.4l.01 .01M729.3 1223.5l.01 .01M735.9 1222.5l.01 .01M742.5 1221.6l.01 .01M749.1 1220.8l.01 .01M755.7 1220l.01 .01M762.3 1219.3l.01 .01M768.9 1218.5l.01 .01M775.5 1217.6l.01 .01M782.1 1216.7l.01 .01M788.7 1215.6l.01 .01M795.3 1214.4l.01 .01M801.9 1213.1l.01 .01M808.5 1211.8l.01 .01M815.1 1210.4l.01 .01M821.7 1208.9l.01 .01M828.3 1207.4l.01 .01M834.9 1205.8l.01 .01M841.5 1204l.01 .01M848.1 1202.2l.01 .01M854.7 1200.4l.01 .01M861.3 1198.4l.01 .01M867.9 1196.4l.01 .01M874.5 1194.4l.01 .01M881.1 1192.4l.01 .01M887.7 1190.3l.01 .01M894.3 1188.2l.01 .01M900.9 1186.2l.01 .01M907.5 1184.1l.01 .01M914.1 1182l.01 .01M920.7 1179.6l.01 .01M927.3 1176.9l.01 .01M933.9 1174.1l.01 .01M940.5 1171.5l.01 .01M947.1 1169l.01 .01M953.7 1166.9l.01 .01M960.3 1164.6l.01 .01M966.9 1161.6l.01 .01M973.5 1158.3l.01 .01M981.1 1154.7l.01 .01M988.7 1151l.01 .01M996.2 1146.8l.01 .01M1003.8 1142.7l.01 .01M1011.4 1138.5l.01 .01M1019 1134.3l.01 .01M1026.6 1129.9l.01 .01M1034.2 1125.1l.01 .01M1041.8 1119.9l.01 .01M1049.4 1113.9l.01 .01M1057 1108l.01 .01M1064.6 1102.9l.01 .01M1072.1 1097.2l.01 .01M1079.7 1090.8l.01 .01M1087.3 1083.8l.01 .01M1094.9 1076.6l.01 .01M1102.5 1069.2l.01 .01M1110.1 1061.9l.01 .01M1117.7 1054.9l.01 .01M1125.3 1047.9l.01 .01M1132.9 1039.7l.01 .01M1140.5 1030.9l.01 .01M1148 1021.9l.01 .01M1155.6 1011.2l.01 .01M1163.2 999.2l.01 .01M1170.8 987.5l.01 .01M1178.9 978.7l.01 .01M1186.5 953.4l.01 .01M1194 917.9l.01 .01M1201.6 864.9l.01 .01M1209.1 815.2l.01 .01M1216.7 773.2l.01 .01M1224.3 742.4l.01 .01M1231.8 713.3l.01 .01M1239.4 685.9l.01 .01M1247 654.1l.01 .01M1254.5 616.6l.01 .01M1262.1 580.7l.01 .01M1269.6 546.7l.01 .01M1277.2 507.7l.01 .01M1284.8 480.1l.01 .01M1292.3 454.2l.01 .01M1299.9 429.4l.01 .01M1307.4 408.4l.01 .01M1315 388.1l.01 .01M1322.6 366.5l.01 .01M1330.1 351.1l.01 .01M1337.7 339.2l.01 .01M1345.2 327.5l.01 .01M1352.8 317.1l.01 .01M1360.4 308.3l.01 .01M1367.9 300.1l.01 .01M1375.5 292.8l.01 .01M1383.1 286.3l.01 .01M1389.6 281.1l.01 .01M1396.2 276.2l.01 .01M1402.8 271.6l.01 .01M1409.4 267.5l.01 .01M1415.9 263.6l.01 .01M1422.5 259.9l.01 .01M1429.1 256.4l.01 .01M1435.7 253l.01 .01M1442.2 249.8l.01 .01M1448.8 247.1l.01 .01M1455.4 244.3l.01 .01M1462 241.3l.01 .01M1468.5 238.4l.01 .01M1475.1 235.7l.01 .01M1481.7 233.3l.01 .01M1488.3 231l.01 .01M1494.8 228.8l.01 .01M1501.4 226.7l.01 .01M1508 224.7l.01 .01M1514.6 222.7l.01 .01M1521.1 220.7l.01 .01M1527.7 218.7l.01 .01M1534.3 216.8l.01 .01M1540.9 214.8l.01 .01M1547.4 212.8l.01 .01M1554 210.8l.01 .01M1560.6 209l.01 .01M1567.2 207.3l.01 .01M1573.7 205.7l.01 .01M1580.3 204.4l.01 .01M1586.9 203.2l.01 .01M1593.5 202.1l.01 .01M1600 201.1l.01 .01M1606.6 200.1l.01 .01M1613.2 199l.01 .01M1619.8 198l.01 .01M1626.3 196.9l.01 .01M1632.9 195.9l.01 .01M1639.5 194.8l.01 .01M1646.1 193.8l.01 .01M1652.6 192.7l.01 .01M1659.2 191.7l.01 .01M1665.8 190.7l.01 .01M1672.4 189.7l.01 .01M1678.9 188.8l.01 .01M1685.5 187.8l.01 .01M1692.1 186.9l.01 .01M1698.7 186l.01 .01M1705.2 185.1l.01 .01M1711.8 184.2l.01 .01M1718.4 183.3l.01 .01M1725 182.5l.01 .01M1731.5 181.7l.01 .01M1738.1 180.9l.01 .01M1744.7 180.1l.01 .01M1751.3 179.3l.01 .01M1757.8 178.5l.01 .01M1764.4 177.7l.01 .01M1771 177l.01 .01M1777.6 176.3l.01 .01M1784.1 175.5l.01 .01M1790.7 174.9l.01 .01M1797.3 174.2l.01 .01M1803.9 173.6l.01 .01M1810.4 172.9l.01 .01M1817 172.3l.01 .01M1823.6 171.7l.01 .01M1830.2 171.1l.01 .01M1836.7 170.6l.01 .01M1843.3 170l.01 .01M1849.9 169.5l.01 .01M1856.1 169l.01 .01"/>
<path stroke="#fff" stroke-linecap="square" stroke-width="2.1" d="M498.6 1250.4l.01 .01M504.9 1250l.01 .01M511.5 1249.5l.01 .01M518.1 1249l.01 .01M524.7 1248.5l.01 .01M531.3 1247.9l.01 .01M537.9 1247.4l.01 .01M544.5 1246.8l.01 .01M551.1 1246.2l.01 .01M557.7 1245.6l.01 .01M564.3 1245l.01 .01M570.9 1244.3l.01 .01M577.5 1243.6l.01 .01M584.1 1242.9l.01 .01M590.7 1242.2l.01 .01M597.3 1241.4l.01 .01M603.9 1240.7l.01 .01M610.5 1239.9l.01 .01M617.1 1239.1l.01 .01M623.7 1238.3l.01 .01M630.3 1237.5l.01 .01M636.9 1236.7l.01 .01M643.5 1235.9l.01 .01M650.1 1235l.01 .01M656.7 1234.1l.01 .01M663.3 1233.2l.01 .01M669.9 1232.3l.01 .01M676.5 1231.4l.01 .01M683.1 1230.5l.01 .01M689.7 1229.5l.01 .01M696.3 1228.5l.01 .01M702.9 1227.5l.01 .01M709.5 1226.5l.01 .01M716.1 1225.5l.01 .01M722.7 1224.4l.01 .01M729.3 1223.5l.01 .01M735.9 1222.5l.01 .01M742.5 1221.6l.01 .01M749.1 1220.8l.01 .01M755.7 1220l.01 .01M762.3 1219.3l.01 .01M768.9 1218.5l.01 .01M775.5 1217.6l.01 .01M782.1 1216.7l.01 .01M788.7 1215.6l.01 .01M795.3 1214.4l.01 .01M801.9 1213.1l.01 .01M808.5 1211.8l.01 .01M815.1 1210.4l.01 .01M821.7 1208.9l.01 .01M828.3 1207.4l.01 .01M834.9 1205.8l.01 .01M841.5 1204l.01 .01M848.1 1202.2l.01 .01M854.7 1200.4l.01 .01M861.3 1198.4l.01 .01M867.9 1196.4l.01 .01M874.5 1194.4l.01 .01M881.1 1192.4l.01 .01M887.7 1190.3l.01 .01M894.3 1188.2l.01 .01M900.9 1186.2l.01 .01M907.5 1184.1l.01 .01M914.1 1182l.01 .01M920.7 1179.6l.01 .01M927.3 1176.9l.01 .01M933.9 1174.1l.01 .01M940.5 1171.5l.01 .01M947.1 1169l.01 .01M953.7 1166.9l.01 .01M960.3 1164.6l.01 .01M966.9 1161.6l.01 .01M973.5 1158.3l.01 .01M981.1 1154.7l.01 .01M988.7 1151l.01 .01M996.2 1146.8l.01 .01M1003.8 1142.7l.01 .01M1011.4 1138.5l.01 .01M1019 1134.3l.01 .01M1026.6 1129.9l.01 .01M1034.2 1125.1l.01 .01M1041.8 1119.9l.01 .01M1049.4 1113.9l.01 .01M1057 1108l.01 .01M1064.6 1102.9l.01 .01M1072.1 1097.2l.01 .01M1079.7 1090.8l.01 .01M1087.3 1083.8l.01 .01M1094.9 1076.6l.01 .01M1102.5 1069.2l.01 .01M1110.1 1061.9l.01 .01M1117.7 1054.9l.01 .01M1125.3 1047.9l.01 .01M1132.9 1039.7l.01 .01M1140.5 1030.9l.01 .01M1148 1021.9l.01 .01M1155.6 1011.2l.01 .01M1163.2 999.2l.01 .01M1170.8 987.5l.01 .01M1178.9 978.7l.01 .01M1186.5 953.4l.01 .01M1194 917.9l.01 .01M1201.6 864.9l.01 .01M1209.1 815.2l.01 .01M1216.7 773.2l.01 .01M1224.3 742.4l.01 .01M1231.8 713.3l.01 .01M1239.4 685.9l.01 .01M1247 654.1l.01 .01M1254.5 616.6l.01 .01M1262.1 580.7l.01 .01M1269.6 546.7l.01 .01M1277.2 507.7l.01 .01M1284.8 480.1l.01 .01M1292.3 454.2l.01 .01M1299.9 429.4l.01 .01M1307.4 408.4l.01 .01M1315 388.1l.01 .01M1322.6 366.5l.01 .01M1330.1 351.1l.01 .01M1337.7 339.2l.01 .01M1345.2 327.5l.01 .01M1352.8 317.1l.01 .01M1360.4 308.3l.01 .01M1367.9 300.1l.01 .01M1375.5 292.8l.01 .01M1383.1 286.3l.01 .01M1389.6 281.1l.01 .01M1396.2 276.2l.01 .01M1402.8 271.6l.01 .01M1409.4 267.5l.01 .01M1415.9 263.6l.01 .01M1422.5 259.9l.01 .01M1429.1 256.4l.01 .01M1435.7 253l.01 .01M1442.2 249.8l.01 .01M1448.8 247.1l.01 .01M1455.4 244.3l.01 .01M1462 241.3l.01 .01M1468.5 238.4l.01 .01M1475.1 235.7l.01 .01M1481.7 233.3l.01 .01M1488.3 231l.01 .01M1494.8 228.8l.01 .01M1501.4 226.7l.01 .01M1508 224.7l.01 .01M1514.6 222.7l.01 .01M1521.1 220.7l.01 .01M1527.7 218.7l.01 .01M1534.3 216.8l.01 .01M1540.9 214.8l.01 .01M1547.4 212.8l.01 .01M1554 210.8l.01 .01M1560.6 209l.01 .01M1567.2 207.3l.01 .01M1573.7 205.7l.01 .01M1580.3 204.4l.01 .01M1586.9 203.2l.01 .01M1593.5 202.1l.01 .01M1600 201.1l.01 .01M1606.6 200.1l.01 .01M1613.2 199l.01 .01M1619.8 198l.01 .01M1626.3 196.9l.01 .01M1632.9 195.9l.01 .01M1639.5 194.8l.01 .01M1646.1 193.8l.01 .01M1652.6 192.7l.01 .01M1659.2 191.7l.01 .01M1665.8 190.7l.01 .01M1672.4 189.7l.01 .01M1678.9 188.8l.01 .01M1685.5 187.8l.01 .01M1692.1 186.9l.01 .01M1698.7 186l.01 .01M1705.2 185.1l.01 .01M1711.8 184.2l.01 .01M1718.4 183.3l.01 .01M1725 182.5l.01 .01M1731.5 181.7l.01 .01M1738.1 180.9l.01 .01M1744.7 180.1l.01 .01M1751.3 179.3l.01 .01M1757.8 178.5l.01 .01M1764.4 177.7l.01 .01M1771 177l.01 .01M1777.6 176.3l.01 .01M1784.1 175.5l.01 .01M1790.7 174.9l.01 .01M1797.3 174.2l.01 .01M1803.9 173.6l.01 .01M1810.4 172.9l.01 .01M1817 172.3l.01 .01M1823.6 171.7l.01 .01M1830.2 171.1l.01 .01M1836.7 170.6l.01 .01M1843.3 170l.01 .01M1849.9 169.5l.01 .01M1856.1 169l.01 .01"/>
</g>
<g fill="none" stroke="#f00" stroke-linecap="round" stroke-linejoin="round">
<path stroke-width="7.4" d="M390.7 1220.4 393.2 1220.3 395.7 1220.2 398.2 1220 400.7 1219.9 403.2 1219.8 405.7 1219.7 408.2 1219.6 410.7 1219.4 413.2 1219.3 415.7 1219.2 418.2 1219.1 420.7 1218.9 423.2 1218.8 425.7 1218.7 428.2 1218.5 430.7 1218.4 433.2 1218.3 435.7 1218.1 438.2 1218 440.7 1217.9 443.2 1217.7 445.7 1217.6 448.2 1217.5 450.7 1217.3 453.2 1217.2 455.7 1217.1 458.2 1216.9 460.7 1216.8 463.2 1216.6 465.7 1216.5 468.2 1216.4 470.7 1216.2 473.2 1216.1 475.7 1215.9 478.2 1215.8 480.7 1215.6 483.2 1215.5 485.7 1215.3 488.2 1215.2 490.7 1215 493.2 1214.8 495.7 1214.7 498.2 1214.5 500.7 1214.3 503.2 1214.2 505.7 1214 508.2 1213.8 510.7 1213.6 513.2 1213.4 515.7 1213.2 518.2 1213 520.7 1212.8 523.2 1212.6 525.7 1212.3 528.2 1212.1 530.7 1211.9 533.2 1211.7 535.7 1211.4 538.2 1211.2 540.7 1210.9 543.2 1210.7 545.7 1210.5 548.2 1210.2 550.7 1210 553.2 1209.7 555.7 1209.5 558.2 1209.3 560.7 1209 563.2 1208.8 565.7 1208.6 568.2 1208.3 570.7 1208.1 573.2 1207.9 575.7 1207.7 578.2 1207.4 580.7 1207.2 583.2 1207 585.7 1206.7 588.2 1206.5 590.7 1206.3 593.2 1206 595.7 1205.8 598.2 1205.6 600.7 1205.3 603.2 1205.1 605.7 1204.8 608.2 1204.6 610.7 1204.4 613.2 1204.1 615.7 1203.9 618.2 1203.6 620.7 1203.4 623.2 1203.1 625.7 1202.9 628.2 1202.6 630.7 1202.4 633.2 1202.1 635.7 1201.9 638.2 1201.6 640.7 1201.4 643.2 1201.1 645.7 1200.8 648.2 1200.6 650.7 1200.3 653.2 1200 655.7 1199.8 658.2 1199.5 660.7 1199.2 663.2 1199 665.7 1198.7 668.2 1198.4 670.7 1198.2 673.2 1197.9 675.7 1197.6 678.2 1197.3 680.7 1197.1 683.2 1196.8 685.7 1196.5 688.2 1196.2 690.7 1195.9 693.2 1195.7 695.7 1195.4 698.2 1195.1 700.7 1194.8 703.2 1194.5 705.7 1194.3 708.2 1194 710.7 1193.7 713.2 1193.4 715.7 1193.1 718.2 1192.8 720.7 1192.5 723.2 1192.2 725.7 1191.9 728.2 1191.6 730.7 1191.3 733.2 1191 735.7 1190.7 738.2 1190.4 740.7 1190.1 743.2 1189.8 745.7 1189.5 748.2 1189.2 750.7 1188.9 753.2 1188.6 755.7 1188.3 758.2 1188 760.7 1187.7 763.2 1187.4 765.7 1187.1 768.2 1186.8 770.7 1186.5 773.2 1186.1 775.7 1185.8 778.2 1185.4 780.7 1185.1 783.2 1184.7 785.7 1184.3 788.2 1183.9 790.7 1183.5 793.2 1183.1 795.7 1182.6 798.2 1182.2 800.7 1181.7 803.2 1181.2 805.7 1180.8 808.2 1180.3 810.7 1179.7 813.2 1179.2 815.7 1178.7 818.2 1178.1 820.7 1177.6 823.2 1177 825.7 1176.5 828.2 1175.9 830.7 1175.3 833.2 1174.7 835.7 1174.1 838.2 1173.4 840.7 1172.8 843.2 1172.1 845.7 1171.3 848.2 1170.6 850.7 1169.9 853.2 1169.1 855.7 1168.3 858.2 1167.6 860.7 1166.8 863.2 1166 865.7 1165.3 868.2 1164.5 870.7 1163.7 873.2 1163 875.7 1162.3 878.2 1161.6 880.7 1160.9 883.2 1160.2 885.7 1159.6 888.2 1159 890.7 1158.3 893.2 1157.6 895.7 1156.9 898.2 1156 900.7 1154.7 903.2 1153.6 905.7 1152.8 908.2 1152.4 910.7 1152 913.2 1151.5 915.7 1150.7 918.2 1149.6 920.7 1148.4 923.2 1147.1 925.7 1145.8 928.2 1144.6 930.7 1143.7 933.2 1143 935.7 1142.3 938.2 1141.4 940.7 1140.4 943.2 1139.3 945.7 1138.1 948.2 1136.7 950.7 1135.3 953.2 1134 955.7 1132.8 958.2 1131.6 960.7 1130.3 963.2 1129 965.7 1127.7 968.2 1126.2 970.7 1124.7 973.2 1123.1 975.7 1121.5 978.2 1120 980.7 1118.6 983.2 1117.1 985.7 1115.4 988.2 1113.5 990.7 1111.4 993.2 1109.2 995.7 1107 998.2 1104.6 1000.7 1102.2 1003.2 1099.8 1005.7 1097.3 1008.2 1094.8 1010.7 1092.1 1013.2 1089.3 1015.7 1086.4 1018.2 1083.4 1020.7 1080.4 1023.2 1077.3 1025.7 1074 1028.2 1070.6 1030.7 1067 1033.2 1063.1 1035.7 1058.6 1038.2 1053.8 1040.7 1048.7 1043.2 1043.3 1045.7 1037.7 1048.2 1032.1 1050.7 1026.8 1053.2 1021.6 1055.7 1015.9 1058.2 1009.3 1060.7 1001.9 1063.2 993.8 1065.7 985.4 1068.2 976.5 1070.7 967.2 1073.2 957.9 1075.7 948.7 1078.2 939.2 1080.7 929 1083.2 918 1085.7 906.2 1088.2 893.8 1090.7 879.9 1093.2 865.2 1095.7 851.3 1098.2 838.7 1100.7 826.7 1103.2 815.3 1105.7 802.8 1108.2 784.8 1110.7 767 1113.2 749.6 1115.7 733 1118.2 717.1 1120.7 702.4 1123.2 689.9 1125.7 678.1 1128.2 666.1 1130.7 653.1 1133.2 639.5 1135.7 625.9 1138.2 612.5 1140.7 598.9 1143.2 587.2 1145.7 578 1148.2 569.9 1150.7 562.1 1153.2 553.8 1155.7 545.4 1158.2 537 1160.7 528.3 1163.2 519.3 1165.7 511 1168.2 504.5 1170.7 498.9 1173.2 493.8 1175.7 488.7 1178.2 483.6 1180.7 478.8 1183.2 474.1 1185.7 469.6 1188.2 465.3 1190.7 461 1193.2 456.6 1195.7 452.1 1198.2 447.7 1200.7 443.7 1203.2 440 1205.7 436.4 1208.2 432.6 1210.7 428.3 1213.2 424 1215.7 420.3 1218.2 417.2 1220.7 414.3 1223.2 411.4 1225.7 408.1 1228.2 404.9 1230.7 401.6 1233.2 398.2 1235.7 394.8 1238.2 391.7 1240.7 389.1 1243.2 386.7 1245.7 384.3 1248.2 381.7 1250.7 378.7 1253.2 375.7 1255.7 373.1 1258.2 370.6 1260.7 368.3 1263.2 366.1 1265.7 363.8 1268.2 361.5 1270.7 359.3 1273.2 357.1 1275.7 355 1278.2 352.8 1280.7 350.7 1283.2 348.6 1285.7 346.5 1288.2 344.4 1290.7 342.3 1293.2 340.3 1295.7 338.2 1298.2 336.2 1300.7 334.2 1303.2 332.3 1305.7 330.4 1308.2 328.6 1310.7 326.9 1313.2 325.3 1315.7 323.8 1318.2 322.3 1320.7 320.8 1323.2 319.4 1325.7 318 1328.2 316.6 1330.7 315.2 1333.2 313.8 1335.7 312.4 1338.2 311 1340.7 309.5 1343.2 308.1 1345.7 306.7 1348.2 305.4 1350.7 304 1353.2 302.7 1355.7 301.5 1358.2 300.3 1360.7 299.2 1363.2 298.1 1365.7 297.1 1368.2 296.2 1370.7 295.2 1373.2 294.3 1375.7 293.3 1378.2 292.3 1380.7 291.3 1383.2 290.3 1385.7 289.2 1388.2 288 1390.7 286.9 1393.2 285.7 1395.7 284.5 1398.2 283.4 1400.7 282.3 1403.2 281.2 1405.7 280.2 1408.2 279.2 1410.7 278.2 1413.2 277.3 1415.7 276.4 1418.2 275.5 1420.7 274.6 1423.2 273.8 1425.7 273 1428.2 272.3 1430.7 271.6 1433.2 270.9 1435.7 270.3 1438.2 269.7 1440.7 269.1 1443.2 268.5 1445.7 268 1448.2 267.4 1450.7 266.9 1453.2 266.3 1455.7 265.8 1458.2 265.2 1460.7 264.6 1463.2 264 1465.7 263.4 1468.2 262.8 1470.7 262.2 1473.2 261.6 1475.7 261 1478.2 260.5 1480.7 259.9 1483.2 259.4 1485.7 258.8 1488.2 258.3 1490.7 257.8 1493.2 257.2 1495.7 256.7 1498.2 256.2 1500.7 255.7 1503.2 255.1 1505.7 254.6 1508.2 254.1 1510.7 253.6 1513.2 253.1 1515.7 252.6 1518.2 252.1 1520.7 251.6 1523.2 251.2 1525.7 250.7 1528.2 250.2 1530.7 249.7 1533.2 249.3 1535.7 248.8 1538.2 248.4 1540.7 247.9 1543.2 247.5 1545.7 247 1548.2 246.6 1550.7 246.2 1553.2 245.7 1555.7 245.3 1558.2 244.9 1560.7 244.5 1563.2 244.1 1565.7 243.7 1568.2 243.3 1570.7 242.9 1573.2 242.5 1575.7 242.1 1578.2 241.8 1580.7 241.4 1583.2 241.1 1585.7 240.7 1588.2 240.4 1590.7 240.1 1593.2 239.8 1595.7 239.4 1598.2 239.1 1600.7 238.8 1603.2 238.5 1605.7 238.3 1608.2 238 1610.7 237.7 1613.2 237.4 1615.7 237.1 1618.2 236.8 1620.7 236.5 1623.2 236.2 1625.7 235.9 1628.2 235.7 1630.7 235.4 1633.2 235.1 1635.7 234.8 1638.2 234.5 1640.7 234.3 1643.2 234 1645.7 233.7 1648.2 233.4 1650.7 233.2 1653.2 232.9 1655.7 232.6 1658.2 232.3 1660.7 232.1 1663.2 231.8 1665.7 231.5 1668.2 231.3 1670.7 231 1673.2 230.7 1675.7 230.5 1678.2 230.2 1680.7 229.9 1683.2 229.7 1685.7 229.4 1688.2 229.1 1690.7 228.9 1693.2 228.6 1695.7 228.3 1698.2 228.1 1700.7 227.8 1703.2 227.5 1705.7 227.3 1708.2 227 1710.7 226.8 1713.2 226.5 1715.7 226.2 1718.2 226 1720.7 225.7 1723.2 225.5 1725.7 225.2 1728.2 225 1730.7 224.7 1733.2 224.5 1735.7 224.2 1738.2 224 1740.7 223.7 1743.2 223.5 1745.7 223.3 1748.2 223 1750.7 222.8 1753.2 222.5 1755.7 222.3 1758.2 222.1 1760.7 221.8 1763.2 221.6 1765.7 221.4 1768.2 221.2 1770.7 220.9 1773.2 220.7 1775.7 220.5 1778.2 220.3 1780.7 220 1783.2 219.8 1785.7 219.6 1788.2 219.4 1790.7 219.1 1793.2 218.9 1795.7 218.7 1798.2 218.5 1800.7 218.2 1803.2 218 1805.7 217.8 1808.2 217.5 1810.7 217.3 1813.2 217.1 1815.7 216.8 1818.2 216.6 1820.7 216.4 1823.2 216.1 1825.7 215.9 1828.2 215.7 1830.7 215.4 1833.2 215.2 1835.7 215 1838.2 214.8 1840.7 214.5 1843.2 214.3 1845.7 214.1 1848.2 213.9 1850.7 213.7 1853.2 213.5 1855.7 213.3 1858.2 213.1 1860.7 213 1863.2 212.8 1865.7 212.6 1868.2 212.4 1870.7 212.3 1873.2 212.1 1875.7 212 1878.2 211.8 1880.7 211.7 1883.2 211.5 1885.7 211.4 1888.2 211.2 1890.7 211.1 1893.2 210.9 1895.7 210.8 1898.2 210.7 1900.7 210.5 1903.2 210.4 1905.7 210.3 1908.2 210.1 1910.7 210 1913.2 209.9 1915.7 209.7 1918.2 209.6 1920.7 209.5 1923.2 209.3 1925.7 209.2 1928.2 209.1 1930.7 209 1933.2 208.8 1935.7 208.7 1938.2 208.6 1940.7 208.5 1943.2 208.3 1945.7 208.2 1948.2 208.1 1950.7 208 1953.2 207.9 1955.7 207.8 1958.2 207.6 1960.7 207.5 1963.2 207.4 1965.7 207.3 1968.2 207.2 1970.7 207.1 1973 207"/>
<path stroke-width="7.4" d="M390.7 1220.4 393.2 1220.3 395.7 1220.2 398.2 1220.1 400.7 1220 403.2 1219.9 405.7 1219.8 408.2 1219.6 410.7 1219.5 413.2 1219.4 415.7 1219.3 418.2 1219.2 420.7 1219.1 423.2 1218.9 425.7 1218.8 428.2 1218.7 430.7 1218.6 433.2 1218.4 435.7 1218.3 438.2 1218.2 440.7 1218.1 443.2 1217.9 445.7 1217.8 448.2 1217.7 450.7 1217.5 453.2 1217.4 455.7 1217.3 458.2 1217.2 460.7 1217 463.2 1216.9 465.7 1216.7 468.2 1216.6 470.7 1216.5 473.2 1216.3 475.7 1216.2 478.2 1216 480.7 1215.9 483.2 1215.8 485.7 1215.6 488.2 1215.4 490.7 1215.3 493.2 1215.1 495.7 1215 498.2 1214.8 500.7 1214.6 503.2 1214.5 505.7 1214.3 508.2 1214.1 510.7 1213.9 513.2 1213.7 515.7 1213.5 518.2 1213.3 520.7 1213.1 523.2 1212.9 525.7 1212.7 528.2 1212.4 530.7 1212.2 533.2 1212 535.7 1211.8 538.2 1211.5 540.7 1211.3 543.2 1211.1 545.7 1210.8 548.2 1210.6 550.7 1210.4 553.2 1210.1 555.7 1209.9 558.2 1209.7 560.7 1209.4 563.2 1209.2 565.7 1209 568.2 1208.8 570.7 1208.5 573.2 1208.3 575.7 1208.1 578.2 1207.9 580.7 1207.6 583.2 1207.4 585.7 1207.2 588.2 1207 590.7 1206.7 593.2 1206.5 595.7 1206.3 598.2 1206.1 600.7 1205.8 603.2 1205.6 605.7 1205.4 608.2 1205.1 610.7 1204.9 613.2 1204.7 615.7 1204.4 618.2 1204.2 620.7 1204 623.2 1203.7 625.7 1203.5 628.2 1203.2 630.7 1203 633.2 1202.8 635.7 1202.5 638.2 1202.3 640.7 1202 643.2 1201.8 645.7 1201.5 648.2 1201.2 650.7 1201 653.2 1200.7 655.7 1200.5 658.2 1200.2 660.7 1199.9 663.2 1199.7 665.7 1199.4 668.2 1199.2 670.7 1198.9 673.2 1198.6 675.7 1198.4 678.2 1198.1 680.7 1197.8 683.2 1197.6 685.7 1197.3 688.2 1197 690.7 1196.8 693.2 1196.5 695.7 1196.2 698.2 1196 700.7 1195.7 703.2 1195.4 705.7 1195.2 708.2 1194.9 710.7 1194.6 713.2 1194.4 715.7 1194.1 718.2 1193.8 720.7 1193.5 723.2 1193.3 725.7 1193 728.2 1192.7 730.7 1192.4 733.2 1192.2 735.7 1191.9 738.2 1191.6 740.7 1191.3 743.2 1191 745.7 1190.7 748.2 1190.4 750.7 1190.1 753.2 1189.9 755.7 1189.6 758.2 1189.3 760.7 1189 763.2 1188.7 765.7 1188.4 768.2 1188.1 770.7 1187.8 773.2 1187.5 775.7 1187.2 778.2 1186.8 780.7 1186.5 783.2 1186.2 785.7 1185.8 788.2 1185.5 790.7 1185.1 793.2 1184.7 795.7 1184.4 798.2 1184 800.7 1183.6 803.2 1183.2 805.7 1182.8 808.2 1182.3 810.7 1181.9 813.2 1181.5 815.7 1181.1 818.2 1180.6 820.7 1180.2 823.2 1179.7 825.7 1179.3 828.2 1178.8 830.7 1178.4 833.2 1177.9 835.7 1177.5 838.2 1177 840.7 1176.5 843.2 1176.1 845.7 1175.6 848.2 1175.1 850.7 1174.6 853.2 1174.1 855.7 1173.6 858.2 1173.1 860.7 1172.6 863.2 1172.1 865.7 1171.6 868.2 1171 870.7 1170.5 873.2 1170 875.7 1169.5 878.2 1168.9 880.7 1168.4 883.2 1167.8 885.7 1167.3 888.2 1166.7 890.7 1166.2 893.2 1165.6 895.7 1165 898.2 1164.4 900.7 1163.8 903.2 1163.2 905.7 1162.6 908.2 1162 910.7 1161.5 913.2 1160.9 915.7 1160.4 918.2 1159.8 920.7 1159.3 923.2 1158.7 925.7 1158.2 928.2 1157.6 930.7 1157 933.2 1156.3 935.7 1155.7 938.2 1154.9 940.7 1154.2 943.2 1153.4 945.7 1152.6 948.2 1151.7 950.7 1150.8 953.2 1149.9 955.7 1149 958.2 1148 960.7 1147 963.2 1146 965.7 1144.9 968.2 1143.8 970.7 1142.6 973.2 1141.5 975.7 1140.3 978.2 1139.2 980.7 1138 983.2 1136.9 985.7 1135.9 988.2 1134.9 990.7 1133.9 993.2 1133 995.7 1132 998.2 1131.1 1000.7 1130.1 1003.2 1129.1 1005.7 1128.1 1008.2 1126.9 1010.7 1125.7 1013.2 1124.5 1015.7 1123.2 1018.2 1121.9 1020.7 1120.5 1023.2 1119.1 1025.7 1117.7 1028.2 1116.3 1030.7 1114.9 1033.2 1113.5 1035.7 1112.1 1038.2 1110.7 1040.7 1109.3 1043.2 1107.9 1045.7 1106.5 1048.2 1105 1050.7 1103.5 1053.2 1102 1055.7 1100.3 1058.2 1098.7 1060.7 1096.9 1063.2 1095 1065.7 1093.1 1068.2 1091.1 1070.7 1089.1 1073.2 1087 1075.7 1085 1078.2 1082.9 1080.7 1080.8 1083.2 1078.8 1085.7 1076.7 1088.2 1074.5 1090.7 1072.4 1093.2 1070.2 1095.7 1068 1098.2 1065.8 1100.7 1063.6 1103.2 1061.3 1105.7 1059.1 1108.2 1056.8 1110.7 1054.4 1113.2 1051.7 1115.7 1048.7 1118.2 1045.8 1120.7 1043.1 1123.2 1040.8 1125.7 1038.4 1128.2 1035.8 1130.7 1032.7 1133.2 1029.3 1135.7 1026 1138.2 1022.7 1140.7 1019.4 1143.2 1016.2 1145.7 1013.3 1148.2 1010.4 1150.7 1007.3 1153.2 1003.7 1155.7 999.5 1158.2 995.2 1160.7 991.3 1163.2 987.7 1165.7 984.1 1168.2 980.1 1170.7 975.7 1173.2 971.2 1175.7 966.9 1178.2 962.9 1180.7 959 1183.2 954.8 1185.7 950 1188.2 944.8 1190.7 939.4 1193.2 934.1 1195.7 928.9 1198.2 923.5 1200.7 917.1 1203.2 908.9 1205.7 899.8 1208.2 891.1 1210.7 882.6 1213.2 874.3 1215.7 865.9 1218.2 858 1220.7 850 1223.2 840.8 1225.7 829.3 1228.2 815.6 1230.7 802.1 1233.2 788.5 1235.7 774.9 1238.2 761.8 1240.7 749.7 1243.2 737.9 1245.7 725.3 1248.2 710.6 1250.7 694.7 1253.2 678 1255.7 660.5 1258.2 642.7 1260.7 624.7 1263.2 612 1265.7 600.7 1268.2 588.6 1270.7 575.9 1273.2 561.9 1275.7 547.2 1278.2 533.3 1280.7 520.8 1283.2 509.1 1285.7 498 1288.2 487.8 1290.7 478.4 1293.2 469.1 1295.7 459.7 1298.2 450.4 1300.7 441.5 1303.2 433.1 1305.7 425 1308.2 417.6 1310.7 411.1 1313.2 405.4 1315.7 400.1 1318.2 394.8 1320.7 389.2 1323.2 383.6 1325.7 378.2 1328.2 373.1 1330.7 368.3 1333.2 363.9 1335.7 360 1338.2 356.4 1340.7 353 1343.2 349.7 1345.7 346.6 1348.2 343.6 1350.7 340.6 1353.2 337.7 1355.7 334.9 1358.2 332.2 1360.7 329.7 1363.2 327.2 1365.7 324.8 1368.2 322.4 1370.7 320 1373.2 317.8 1375.7 315.6 1378.2 313.6 1380.7 311.7 1383.2 310 1385.7 308.6 1388.2 307.1 1390.7 305.6 1393.2 303.9 1395.7 302.4 1398.2 300.9 1400.7 299.5 1403.2 298.1 1405.7 296.8 1408.2 295.6 1410.7 294.4 1413.2 293.1 1415.7 291.7 1418.2 290.3 1420.7 289 1423.2 287.9 1425.7 286.7 1428.2 285.7 1430.7 284.9 1433.2 284.2 1435.7 283.5 1438.2 282.5 1440.7 281.3 1443.2 279.9 1445.7 278.7 1448.2 277.5 1450.7 276.4 1453.2 275.7 1455.7 275.3 1458.2 274.9 1460.7 274.4 1463.2 273.5 1465.7 272.3 1468.2 271.1 1470.7 270.3 1473.2 269.6 1475.7 268.9 1478.2 268.2 1480.7 267.6 1483.2 267 1485.7 266.3 1488.2 265.6 1490.7 264.9 1493.2 264.1 1495.7 263.4 1498.2 262.6 1500.7 261.9 1503.2 261.1 1505.7 260.3 1508.2 259.5 1510.7 258.8 1513.2 258 1515.7 257.3 1518.2 256.5 1520.7 255.8 1523.2 255.1 1525.7 254.4 1528.2 253.7 1530.7 253.1 1533.2 252.4 1535.7 251.8 1538.2 251.3 1540.7 250.7 1543.2 250.1 1545.7 249.6 1548.2 249 1550.7 248.5 1553.2 248 1555.7 247.4 1558.2 246.9 1560.7 246.4 1563.2 245.9 1565.7 245.5 1568.2 245 1570.7 244.6 1573.2 244.1 1575.7 243.7 1578.2 243.3 1580.7 242.9 1583.2 242.5 1585.7 242.1 1588.2 241.8 1590.7 241.4 1593.2 241.1 1595.7 240.8 1598.2 240.5 1600.7 240.1 1603.2 239.8 1605.7 239.5 1608.2 239.2 1610.7 238.9 1613.2 238.6 1615.7 238.3 1618.2 238 1620.7 237.7 1623.2 237.4 1625.7 237.1 1628.2 236.8 1630.7 236.5 1633.2 236.2 1635.7 235.9 1638.2 235.6 1640.7 235.3 1643.2 235 1645.7 234.7 1648.2 234.4 1650.7 234.1 1653.2 233.8 1655.7 233.6 1658.2 233.3 1660.7 233 1663.2 232.7 1665.7 232.4 1668.2 232.1 1670.7 231.8 1673.2 231.6 1675.7 231.3 1678.2 231 1680.7 230.7 1683.2 230.4 1685.7 230.2 1688.2 229.9 1690.7 229.6 1693.2 229.3 1695.7 229.1 1698.2 228.8 1700.7 228.5 1703.2 228.2 1705.7 228 1708.2 227.7 1710.7 227.4 1713.2 227.2 1715.7 226.9 1718.2 226.6 1720.7 226.4 1723.2 226.1 1725.7 225.9 1728.2 225.6 1730.7 225.3 1733.2 225.1 1735.7 224.8 1738.2 224.6 1740.7 224.3 1743.2 224.1 1745.7 223.8 1748.2 223.6 1750.7 223.3 1753.2 223.1 1755.7 222.9 1758.2 222.6 1760.7 222.4 1763.2 222.1 1765.7 221.9 1768.2 221.7 1770.7 221.4 1773.2 221.2 1775.7 221 1778.2 220.7 1780.7 220.5 1783.2 220.3 1785.7 220 1788.2 219.8 1790.7 219.6 1793.2 219.3 1795.7 219.1 1798.2 218.9 1800.7 218.6 1803.2 218.4 1805.7 218.2 1808.2 217.9 1810.7 217.7 1813.2 217.5 1815.7 217.2 1818.2 217 1820.7 216.7 1823.2 216.5 1825.7 216.3 1828.2 216 1830.7 215.8 1833.2 215.5 1835.7 215.3 1838.2 215.1 1840.7 214.9 1843.2 214.6 1845.7 214.4 1848.2 214.2 1850.7 214 1853.2 213.8 1855.7 213.6 1858.2 213.4 1860.7 213.2 1863.2 213.1 1865.7 212.9 1868.2 212.7 1870.7 212.6 1873.2 212.4 1875.7 212.2 1878.2 212.1 1880.7 211.9 1883.2 211.8 1885.7 211.6 1888.2 211.5 1890.7 211.3 1893.2 211.2 1895.7 211 1898.2 210.9 1900.7 210.8 1903.2 210.6 1905.7 210.5 1908.2 210.3 1910.7 210.2 1913.2 210.1 1915.7 209.9 1918.2 209.8 1920.7 209.7 1923.2 209.5 1925.7 209.4 1928.2 209.3 1930.7 209.1 1933.2 209 1935.7 208.9 1938.2 208.7 1940.7 208.6 1943.2 208.5 1945.7 208.3 1948.2 208.2 1950.7 208.1 1953.2 208 1955.7 207.8 1958.2 207.7 1960.7 207.6 1963.2 207.5 1965.7 207.3 1968.2 207.2 1970.7 207.1 1973 207"/>
<g transform="scale(1 1.11842)">
<path stroke-width="15.2" d="M390.7 1091.2h0M390.8 1091.2h0M397.4 1090.9h0M404 1090.6h0M410.6 1090.3h0M417.2 1090h0M423.8 1089.7h0M430.4 1089.4h0M437 1089.1h0M443.6 1088.8h0M450.2 1088.5h0M456.8 1088.1h0M463.4 1087.8h0M470 1087.5h0M476.6 1087.1h0M483.2 1086.8h0M489.8 1086.4h0M496.4 1086h0M503 1085.6h0M509.6 1085.2h0M516.2 1084.7h0M522.8 1084.2h0M529.4 1083.7h0M536 1083.1h0M542.6 1082.6h0M549.2 1082h0M555.8 1081.4h0M562.4 1080.9h0M569 1080.3h0M575.6 1079.8h0M582.2 1079.3h0M588.8 1078.7h0M595.4 1078.2h0M602 1077.6h0M608.6 1077h0M615.2 1076.5h0M621.8 1075.9h0M628.4 1075.3h0M635 1074.7h0M641.6 1074.1h0M648.2 1073.5h0M654.8 1072.8h0M661.4 1072.2h0M668 1071.6h0M674.6 1070.9h0M681.2 1070.3h0M687.8 1069.6h0M694.4 1068.9h0M701 1068.3h0M707.6 1067.6h0M714.2 1066.9h0M720.8 1066.2h0M727.4 1065.5h0M734 1064.8h0M740.6 1064.1h0M747.2 1063.4h0M753.8 1062.7h0M760.4 1062h0M767 1061.3h0M773.6 1060.5h0M780.2 1059.7h0M786.8 1058.8h0M793.4 1057.8h0M800 1056.7h0M806.6 1055.6h0M813.2 1054.4h0M819.8 1053.1h0M826.4 1051.8h0M833 1050.4h0M839.6 1048.9h0M846.2 1047.2h0M852.8 1045.4h0M859.4 1043.6h0M866 1041.8h0M872.6 1040h0M879.2 1038.3h0M885.8 1036.8h0M892.4 1035.3h0M899 1033.2h0M905.6 1030.8h0M912.2 1029.8h0M918.8 1027.6h0M925.4 1024.6h0M932 1022.3h0M938.6 1020.4h0M945.2 1017.8h0M951.8 1014.6h0M958.4 1011.7h0M965 1008.6h0M971.6 1005.1h0M978.2 1001.4h0M985.8 997.3h0M993.4 991.7h0M1000.9 985.3h0M1008.5 978.5h0M1016.1 970.9h0M1023.7 962.6h0M1031.3 953.2h0M1038.9 941h0M1046.5 926.2h0M1054.1 911.7h0M1061.7 893.1h0M1069.3 869.6h0M1076.8 844.4h0M1084.4 815.7h0M1092 779.8h0M1099.6 743.8h0M1107.2 708.5h0M1114.8 660.7h0M1122.4 620.4h0M1130 587.4h0M1137.6 550.8h0M1145.2 518.5h0M1152.7 496.5h0M1160.3 473.6h0M1167.9 451.7h0M1175.5 437.3h0M1183.6 423.2h0M1191.2 411.5h0M1198.7 399.5h0M1206.3 389.4h0M1213.8 378.2h0M1221.4 369.7h0M1229 361.1h0M1236.5 352.1h0M1244.1 345h0M1251.7 337.6h0M1259.2 330.6h0M1266.8 324.4h0M1274.3 318.4h0M1281.9 312.6h0M1289.5 307h0M1297 301.4h0M1304.6 296.2h0M1312.1 291.5h0M1319.7 287.3h0M1327.3 283.5h0M1334.8 279.7h0M1342.4 275.9h0M1349.9 272.2h0M1357.5 268.8h0M1365.1 265.9h0M1372.6 263.3h0M1380.2 260.7h0M1387.8 257.7h0M1394.3 255h0M1400.9 252.3h0M1407.5 249.9h0M1414.1 247.6h0M1420.6 245.6h0M1427.2 243.7h0M1433.8 242.1h0M1440.4 240.7h0M1446.9 239.3h0M1453.5 238.1h0M1460.1 236.7h0M1466.7 235.3h0M1473.2 233.9h0M1479.8 232.6h0M1486.4 231.3h0M1493 230h0M1499.5 228.8h0M1506.1 227.6h0M1512.7 226.4h0M1519.3 225.2h0M1525.8 224.1h0M1532.4 223h0M1539 221.9h0M1545.6 220.9h0M1552.1 219.9h0M1558.7 218.9h0M1565.3 217.9h0M1571.9 217h0M1578.4 216.1h0M1585 215.3h0M1591.6 214.6h0M1598.2 213.8h0M1604.7 213.1h0M1611.3 212.4h0M1617.9 211.8h0M1624.5 211.1h0M1631 210.4h0M1637.6 209.8h0M1644.2 209.1h0M1650.8 208.5h0M1657.3 207.8h0M1663.9 207.2h0M1670.5 206.6h0M1677.1 205.9h0M1683.6 205.3h0M1690.2 204.7h0M1696.8 204.1h0M1703.4 203.4h0M1709.9 202.8h0M1716.5 202.2h0M1723.1 201.6h0M1729.7 201h0M1736.2 200.4h0M1742.8 199.9h0M1749.4 199.3h0M1756 198.7h0M1762.5 198.2h0M1769.1 197.7h0M1775.7 197.1h0M1782.3 196.6h0M1788.8 196.1h0M1795.4 195.6h0M1802 195h0M1808.6 194.5h0M1815.1 193.9h0M1821.7 193.4h0M1828.3 192.8h0M1834.9 192.3h0M1841.4 191.8h0M1848 191.3h0M1854.6 190.8h0M1861.2 190.4h0M1867.7 190h0M1874.3 189.6h0M1880.9 189.2h0M1887.5 188.9h0M1894 188.6h0M1900.6 188.2h0M1907.2 187.9h0M1913.8 187.6h0M1920.3 187.3h0M1926.9 187h0M1933.5 186.7h0M1940.1 186.4h0M1946.6 186.1h0M1953.2 185.9h0M1959.8 185.6h0M1966.4 185.3h0M1972.9 185.1h0M1973 185.1h0"/>
<path stroke-width="15.2" d="M390.7 1091.2h0M390.8 1091.2h0M397.4 1090.9h0M404 1090.7h0M410.6 1090.4h0M417.2 1090.1h0M423.8 1089.8h0M430.4 1089.6h0M437 1089.3h0M443.6 1089h0M450.2 1088.7h0M456.8 1088.3h0M463.4 1088h0M470 1087.7h0M476.6 1087.4h0M483.2 1087h0M489.8 1086.7h0M496.4 1086.3h0M503 1085.9h0M509.6 1085.5h0M516.2 1085h0M522.8 1084.5h0M529.4 1084h0M536 1083.4h0M542.6 1082.9h0M549.2 1082.3h0M555.8 1081.8h0M562.4 1081.2h0M569 1080.7h0M575.6 1080.2h0M582.2 1079.7h0M588.8 1079.1h0M595.4 1078.6h0M602 1078.1h0M608.6 1077.5h0M615.2 1077h0M621.8 1076.4h0M628.4 1075.8h0M635 1075.2h0M641.6 1074.7h0M648.2 1074.1h0M654.8 1073.4h0M661.4 1072.8h0M668 1072.2h0M674.6 1071.6h0M681.2 1071h0M687.8 1070.3h0M694.4 1069.7h0M701 1069.1h0M707.6 1068.4h0M714.2 1067.8h0M720.8 1067.2h0M727.4 1066.5h0M734 1065.8h0M740.6 1065.2h0M747.2 1064.5h0M753.8 1063.8h0M760.4 1063.1h0M767 1062.4h0M773.6 1061.7h0M780.2 1060.9h0M786.8 1060.1h0M793.4 1059.3h0M800 1058.4h0M806.6 1057.4h0M813.2 1056.4h0M819.8 1055.4h0M826.4 1054.3h0M833 1053.2h0M839.6 1052.1h0M846.2 1051h0M852.8 1049.9h0M859.4 1048.7h0M866 1047.5h0M872.6 1046.2h0M879.2 1045h0M885.8 1043.7h0M892.4 1042.3h0M899 1040.9h0M905.6 1039.5h0M912.2 1038.2h0M918.8 1036.9h0M925.4 1035.6h0M932 1034.2h0M938.6 1032.6h0M945.2 1030.7h0M951.8 1028.6h0M958.4 1026.4h0M965 1024h0M971.6 1021.3h0M978.2 1018.6h0M985.8 1015.6h0M993.4 1013h0M1000.9 1010.4h0M1008.5 1007.5h0M1016.1 1004.1h0M1023.7 1000.4h0M1031.3 996.5h0M1038.9 992.8h0M1046.5 988.9h0M1054.1 984.8h0M1061.7 980.1h0M1069.3 974.8h0M1076.8 969.2h0M1084.4 963.6h0M1092 957.8h0M1099.6 951.9h0M1107.2 945.7h0M1114.8 938.7h0M1122.4 931.2h0M1130 924.2h0M1137.6 915.2h0M1145.2 906.5h0M1152.7 898.1h0M1160.3 886.8h0M1167.9 876.7h0M1175.5 864.8h0M1183.6 853h0M1191.2 839h0M1198.7 824.6h0M1206.3 802.7h0M1213.8 779.7h0M1221.4 757.8h0M1229 725.5h0M1236.5 688.9h0M1244.1 655.9h0M1251.7 615.6h0M1259.2 567.8h0M1266.8 532.4h0M1274.3 496.5h0M1281.9 460.6h0M1289.5 431.9h0M1297 406.6h0M1304.6 383.2h0M1312.1 364.6h0M1319.7 350h0M1327.3 335.3h0M1334.8 323.1h0M1342.4 313.7h0M1349.9 305.3h0M1357.5 297.7h0M1365.1 291h0M1372.6 284.6h0M1380.2 279h0M1387.8 274.8h0M1394.3 271.1h0M1400.9 267.6h0M1407.5 264.6h0M1414.1 261.7h0M1420.6 258.5h0M1427.2 255.8h0M1433.8 254h0M1440.4 251.6h0M1446.9 248.6h0M1453.5 246.4h0M1460.1 245.5h0M1466.7 243h0M1473.2 241h0M1479.8 239.4h0M1486.4 237.9h0M1493 236.2h0M1499.5 234.5h0M1506.1 232.6h0M1512.7 230.8h0M1519.3 229.1h0M1525.8 227.4h0M1532.4 225.9h0M1539 224.5h0M1545.6 223.2h0M1552.1 221.9h0M1558.7 220.7h0M1565.3 219.5h0M1571.9 218.5h0M1578.4 217.5h0M1585 216.6h0M1591.6 215.8h0M1598.2 215h0M1604.7 214.3h0M1611.3 213.6h0M1617.9 212.9h0M1624.5 212.1h0M1631 211.4h0M1637.6 210.7h0M1644.2 210h0M1650.8 209.3h0M1657.3 208.7h0M1663.9 208h0M1670.5 207.3h0M1677.1 206.7h0M1683.6 206h0M1690.2 205.4h0M1696.8 204.7h0M1703.4 204.1h0M1709.9 203.4h0M1716.5 202.8h0M1723.1 202.2h0M1729.7 201.6h0M1736.2 201h0M1742.8 200.4h0M1749.4 199.8h0M1756 199.2h0M1762.5 198.7h0M1769.1 198.1h0M1775.7 197.6h0M1782.3 197h0M1788.8 196.5h0M1795.4 195.9h0M1802 195.4h0M1808.6 194.8h0M1815.1 194.3h0M1821.7 193.7h0M1828.3 193.1h0M1834.9 192.6h0M1841.4 192.1h0M1848 191.6h0M1854.6 191.1h0M1861.2 190.6h0M1867.7 190.2h0M1874.3 189.8h0M1880.9 189.5h0M1887.5 189.1h0M1894 188.8h0M1900.6 188.5h0M1907.2 188.1h0M1913.8 187.8h0M1920.3 187.5h0M1926.9 187.2h0M1933.5 186.8h0M1940.1 186.5h0M1946.6 186.2h0M1953.2 185.9h0M1959.8 185.6h0M1966.4 185.4h0M1972.9 185.1h0M1973 185.1h0"/>
</g>
<path stroke="#ff7070" stroke-linecap="square" stroke-width="5.7" d="M386 1216.4l.01 .01M386.1 1216.4l.01 .01M392.7 1216.1l.01 .01M399.3 1215.8l.01 .01M405.9 1215.4l.01 .01M412.5 1215.1l.01 .01M419.1 1214.8l.01 .01M425.7 1214.4l.01 .01M432.3 1214.1l.01 .01M438.9 1213.7l.01 .01M445.5 1213.4l.01 .01M452.1 1213l.01 .01M458.7 1212.6l.01 .01M465.3 1212.3l.01 .01M471.9 1211.9l.01 .01M478.5 1211.5l.01 .01M485.1 1211.1l.01 .01M491.7 1210.6l.01 .01M498.3 1210.2l.01 .01M504.9 1209.7l.01 .01M511.5 1209.2l.01 .01M518.1 1208.6l.01 .01M524.7 1208l.01 .01M531.3 1207.4l.01 .01M537.9 1206.8l.01 .01M544.5 1206.1l.01 .01M551.1 1205.5l.01 .01M557.7 1204.9l.01 .01M564.3 1204.3l.01 .01M570.9 1203.7l.01 .01M577.5 1203.1l.01 .01M584.1 1202.4l.01 .01M590.7 1201.8l.01 .01M597.3 1201.2l.01 .01M603.9 1200.6l.01 .01M610.5 1199.9l.01 .01M617.1 1199.3l.01 .01M623.7 1198.6l.01 .01M630.3 1197.9l.01 .01M636.9 1197.3l.01 .01M643.5 1196.6l.01 .01M650.1 1195.9l.01 .01M656.7 1195.2l.01 .01M663.3 1194.5l.01 .01M669.9 1193.7l.01 .01M676.5 1193l.01 .01M683.1 1192.3l.01 .01M689.7 1191.5l.01 .01M696.3 1190.8l.01 .01M702.9 1190l.01 .01M709.5 1189.3l.01 .01M716.1 1188.5l.01 .01M722.7 1187.7l.01 .01M729.3 1186.9l.01 .01M735.9 1186.1l.01 .01M742.5 1185.3l.01 .01M749.1 1184.5l.01 .01M755.7 1183.8l.01 .01M762.3 1182.9l.01 .01M768.9 1182.1l.01 .01M775.5 1181.2l.01 .01M782.1 1180.2l.01 .01M788.7 1179l.01 .01M795.3 1177.9l.01 .01M801.9 1176.6l.01 .01M808.5 1175.2l.01 .01M815.1 1173.8l.01 .01M821.7 1172.3l.01 .01M828.3 1170.8l.01 .01M834.9 1169.1l.01 .01M841.5 1167.2l.01 .01M848.1 1165.2l.01 .01M854.7 1163.2l.01 .01M861.3 1161.2l.01 .01M867.9 1159.2l.01 .01M874.5 1157.3l.01 .01M881.1 1155.6l.01 .01M887.7 1153.9l.01 .01M894.3 1151.6l.01 .01M900.9 1148.8l.01 .01M907.5 1147.8l.01 .01M914.1 1145.3l.01 .01M920.7 1142l.01 .01M927.3 1139.4l.01 .01M933.9 1137.3l.01 .01M940.5 1134.3l.01 .01M947.1 1130.8l.01 .01M953.7 1127.5l.01 .01M960.3 1124.1l.01 .01M966.9 1120.2l.01 .01M973.5 1116l.01 .01M981.1 1111.4l.01 .01M988.7 1105.1l.01 .01M996.2 1098l.01 .01M1003.8 1090.4l.01 .01M1011.4 1081.9l.01 .01M1019 1072.6l.01 .01M1026.6 1062.1l.01 .01M1034.2 1048.4l.01 .01M1041.8 1031.9l.01 .01M1049.4 1015.7l.01 .01M1057 994.8l.01 .01M1064.6 968.6l.01 .01M1072.1 940.4l.01 .01M1079.7 908.3l.01 .01M1087.3 868.2l.01 .01M1094.9 827.9l.01 .01M1102.5 788.4l.01 .01M1110.1 734.9l.01 .01M1117.7 689.9l.01 .01M1125.3 652.9l.01 .01M1132.9 612l.01 .01M1140.5 575.9l.01 .01M1148 551.3l.01 .01M1155.6 525.7l.01 .01M1163.2 501.2l.01 .01M1170.8 485.1l.01 .01M1178.9 469.3l.01 .01M1186.5 456.2l.01 .01M1194 442.8l.01 .01M1201.6 431.6l.01 .01M1209.1 419l.01 .01M1216.7 409.5l.01 .01M1224.3 399.8l.01 .01M1231.8 389.8l.01 .01M1239.4 381.9l.01 .01M1247 373.6l.01 .01M1254.5 365.7l.01 .01M1262.1 358.8l.01 .01M1269.6 352.1l.01 .01M1277.2 345.7l.01 .01M1284.8 339.4l.01 .01M1292.3 333.1l.01 .01M1299.9 327.2l.01 .01M1307.4 322l.01 .01M1315 317.4l.01 .01M1322.6 313.1l.01 .01M1330.1 308.9l.01 .01M1337.7 304.6l.01 .01M1345.2 300.4l.01 .01M1352.8 296.6l.01 .01M1360.4 293.4l.01 .01M1367.9 290.5l.01 .01M1375.5 287.5l.01 .01M1383.1 284.2l.01 .01M1389.6 281.2l.01 .01M1396.2 278.2l.01 .01M1402.8 275.5l.01 .01M1409.4 273l.01 .01M1415.9 270.6l.01 .01M1422.5 268.6l.01 .01M1429.1 266.8l.01 .01M1435.7 265.2l.01 .01M1442.2 263.7l.01 .01M1448.8 262.3l.01 .01M1455.4 260.8l.01 .01M1462 259.2l.01 .01M1468.5 257.6l.01 .01M1475.1 256.1l.01 .01M1481.7 254.7l.01 .01M1488.3 253.3l.01 .01M1494.8 251.9l.01 .01M1501.4 250.5l.01 .01M1508 249.2l.01 .01M1514.6 247.9l.01 .01M1521.1 246.7l.01 .01M1527.7 245.4l.01 .01M1534.3 244.2l.01 .01M1540.9 243.1l.01 .01M1547.4 241.9l.01 .01M1554 240.8l.01 .01M1560.6 239.7l.01 .01M1567.2 238.7l.01 .01M1573.7 237.7l.01 .01M1580.3 236.8l.01 .01M1586.9 236l.01 .01M1593.5 235.2l.01 .01M1600 234.4l.01 .01M1606.6 233.6l.01 .01M1613.2 232.8l.01 .01M1619.8 232.1l.01 .01M1626.3 231.3l.01 .01M1632.9 230.6l.01 .01M1639.5 229.9l.01 .01M1646.1 229.1l.01 .01M1652.6 228.4l.01 .01M1659.2 227.7l.01 .01M1665.8 227l.01 .01M1672.4 226.3l.01 .01M1678.9 225.6l.01 .01M1685.5 224.9l.01 .01M1692.1 224.2l.01 .01M1698.7 223.5l.01 .01M1705.2 222.8l.01 .01M1711.8 222.2l.01 .01M1718.4 221.5l.01 .01M1725 220.8l.01 .01M1731.5 220.2l.01 .01M1738.1 219.5l.01 .01M1744.7 218.9l.01 .01M1751.3 218.3l.01 .01M1757.8 217.7l.01 .01M1764.4 217.1l.01 .01M1771 216.5l.01 .01M1777.6 215.9l.01 .01M1784.1 215.3l.01 .01M1790.7 214.7l.01 .01M1797.3 214.1l.01 .01M1803.9 213.5l.01 .01M1810.4 212.9l.01 .01M1817 212.3l.01 .01M1823.6 211.7l.01 .01M1830.2 211.1l.01 .01M1836.7 210.5l.01 .01M1843.3 209.9l.01 .01M1849.9 209.4l.01 .01M1856.5 208.9l.01 .01M1863 208.5l.01 .01M1869.6 208.1l.01 .01M1876.2 207.6l.01 .01M1882.8 207.3l.01 .01M1889.3 206.9l.01 .01M1895.9 206.5l.01 .01M1902.5 206.2l.01 .01M1909.1 205.8l.01 .01M1915.6 205.5l.01 .01M1922.2 205.1l.01 .01M1928.8 204.8l.01 .01M1935.4 204.5l.01 .01M1941.9 204.2l.01 .01M1948.5 203.9l.01 .01M1955.1 203.6l.01 .01M1961.7 203.3l.01 .01M1968.2 203l.01 .01M1968.3 203l.01 .01"/>
<path stroke="#fff" stroke-linecap="square" stroke-width="2.1" d="M386 1216.4l.01 .01M386.1 1216.4l.01 .01M392.7 1216.1l.01 .01M399.3 1215.8l.01 .01M405.9 1215.4l.01 .01M412.5 1215.1l.01 .01M419.1 1214.8l.01 .01M425.7 1214.4l.01 .01M432.3 1214.1l.01 .01M438.9 1213.7l.01 .01M445.5 1213.4l.01 .01M452.1 1213l.01 .01M458.7 1212.6l.01 .01M465.3 1212.3l.01 .01M471.9 1211.9l.01 .01M478.5 1211.5l.01 .01M485.1 1211.1l.01 .01M491.7 1210.6l.01 .01M498.3 1210.2l.01 .01M504.9 1209.7l.01 .01M511.5 1209.2l.01 .01M518.1 1208.6l.01 .01M524.7 1208l.01 .01M531.3 1207.4l.01 .01M537.9 1206.8l.01 .01M544.5 1206.1l.01 .01M551.1 1205.5l.01 .01M557.7 1204.9l.01 .01M564.3 1204.3l.01 .01M570.9 1203.7l.01 .01M577.5 1203.1l.01 .01M584.1 1202.4l.01 .01M590.7 1201.8l.01 .01M597.3 1201.2l.01 .01M603.9 1200.6l.01 .01M610.5 1199.9l.01 .01M617.1 1199.3l.01 .01M623.7 1198.6l.01 .01M630.3 1197.9l.01 .01M636.9 1197.3l.01 .01M643.5 1196.6l.01 .01M650.1 1195.9l.01 .01M656.7 1195.2l.01 .01M663.3 1194.5l.01 .01M669.9 1193.7l.01 .01M676.5 1193l.01 .01M683.1 1192.3l.01 .01M689.7 1191.5l.01 .01M696.3 1190.8l.01 .01M702.9 1190l.01 .01M709.5 1189.3l.01 .01M716.1 1188.5l.01 .01M722.7 1187.7l.01 .01M729.3 1186.9l.01 .01M735.9 1186.1l.01 .01M742.5 1185.3l.01 .01M749.1 1184.5l.01 .01M755.7 1183.8l.01 .01M762.3 1182.9l.01 .01M768.9 1182.1l.01 .01M775.5 1181.2l.01 .01M782.1 1180.2l.01 .01M788.7 1179l.01 .01M795.3 1177.9l.01 .01M801.9 1176.6l.01 .01M808.5 1175.2l.01 .01M815.1 1173.8l.01 .01M821.7 1172.3l.01 .01M828.3 1170.8l.01 .01M834.9 1169.1l.01 .01M841.5 1167.2l.01 .01M848.1 1165.2l.01 .01M854.7 1163.2l.01 .01M861.3 1161.2l.01 .01M867.9 1159.2l.01 .01M874.5 1157.3l.01 .01M881.1 1155.6l.01 .01M887.7 1153.9l.01 .01M894.3 1151.6l.01 .01M900.9 1148.8l.01 .01M907.5 1147.8l.01 .01M914.1 1145.3l.01 .01M920.7 1142l.01 .01M927.3 1139.4l.01 .01M933.9 1137.3l.01 .01M940.5 1134.3l.01 .01M947.1 1130.8l.01 .01M953.7 1127.5l.01 .01M960.3 1124.1l.01 .01M966.9 1120.2l.01 .01M973.5 1116l.01 .01M981.1 1111.4l.01 .01M988.7 1105.1l.01 .01M996.2 1098l.01 .01M1003.8 1090.4l.01 .01M1011.4 1081.9l.01 .01M1019 1072.6l.01 .01M1026.6 1062.1l.01 .01M1034.2 1048.4l.01 .01M1041.8 1031.9l.01 .01M1049.4 1015.7l.01 .01M1057 994.8l.01 .01M1064.6 968.6l.01 .01M1072.1 940.4l.01 .01M1079.7 908.3l.01 .01M1087.3 868.2l.01 .01M1094.9 827.9l.01 .01M1102.5 788.4l.01 .01M1110.1 734.9l.01 .01M1117.7 689.9l.01 .01M1125.3 652.9l.01 .01M1132.9 612l.01 .01M1140.5 575.9l.01 .01M1148 551.3l.01 .01M1155.6 525.7l.01 .01M1163.2 501.2l.01 .01M1170.8 485.1l.01 .01M1178.9 469.3l.01 .01M1186.5 456.2l.01 .01M1194 442.8l.01 .01M1201.6 431.6l.01 .01M1209.1 419l.01 .01M1216.7 409.5l.01 .01M1224.3 399.8l.01 .01M1231.8 389.8l.01 .01M1239.4 381.9l.01 .01M1247 373.6l.01 .01M1254.5 365.7l.01 .01M1262.1 358.8l.01 .01M1269.6 352.1l.01 .01M1277.2 345.7l.01 .01M1284.8 339.4l.01 .01M1292.3 333.1l.01 .01M1299.9 327.2l.01 .01M1307.4 322l.01 .01M1315 317.4l.01 .01M1322.6 313.1l.01 .01M1330.1 308.9l.01 .01M1337.7 304.6l.01 .01M1345.2 300.4l.01 .01M1352.8 296.6l.01 .01M1360.4 293.4l.01 .01M1367.9 290.5l.01 .01M1375.5 287.5l.01 .01M1383.1 284.2l.01 .01M1389.6 281.2l.01 .01M1396.2 278.2l.01 .01M1402.8 275.5l.01 .01M1409.4 273l.01 .01M1415.9 270.6l.01 .01M1422.5 268.6l.01 .01M1429.1 266.8l.01 .01M1435.7 265.2l.01 .01M1442.2 263.7l.01 .01M1448.8 262.3l.01 .01M1455.4 260.8l.01 .01M1462 259.2l.01 .01M1468.5 257.6l.01 .01M1475.1 256.1l.01 .01M1481.7 254.7l.01 .01M1488.3 253.3l.01 .01M1494.8 251.9l.01 .01M1501.4 250.5l.01 .01M1508 249.2l.01 .01M1514.6 247.9l.01 .01M1521.1 246.7l.01 .01M1527.7 245.4l.01 .01M1534.3 244.2l.01 .01M1540.9 243.1l.01 .01M1547.4 241.9l.01 .01M1554 240.8l.01 .01M1560.6 239.7l.01 .01M1567.2 238.7l.01 .01M1573.7 237.7l.01 .01M1580.3 236.8l.01 .01M1586.9 236l.01 .01M1593.5 235.2l.01 .01M1600 234.4l.01 .01M1606.6 233.6l.01 .01M1613.2 232.8l.01 .01M1619.8 232.1l.01 .01M1626.3 231.3l.01 .01M1632.9 230.6l.01 .01M1639.5 229.9l.01 .01M1646.1 229.1l.01 .01M1652.6 228.4l.01 .01M1659.2 227.7l.01 .01M1665.8 227l.01 .01M1672.4 226.3l.01 .01M1678.9 225.6l.01 .01M1685.5 224.9l.01 .01M1692.1 224.2l.01 .01M1698.7 223.5l.01 .01M1705.2 222.8l.01 .01M1711.8 222.2l.01 .01M1718.4 221.5l.01 .01M1725 220.8l.01 .01M1731.5 220.2l.01 .01M1738.1 219.5l.01 .01M1744.7 218.9l.01 .01M1751.3 218.3l.01 .01M1757.8 217.7l.01 .01M1764.4 217.1l.01 .01M1771 216.5l.01 .01M1777.6 215.9l.01 .01M1784.1 215.3l.01 .01M1790.7 214.7l.01 .01M1797.3 214.1l.01 .01M1803.9 213.5l.01 .01M1810.4 212.9l.01 .01M1817 212.3l.01 .01M1823.6 211.7l.01 .01M1830.2 211.1l.01 .01M1836.7 210.5l.01 .01M1843.3 209.9l.01 .01M1849.9 209.4l.01 .01M1856.5 208.9l.01 .01M1863 208.5l.01 .01M1869.6 208.1l.01 .01M1876.2 207.6l.01 .01M1882.8 207.3l.01 .01M1889.3 206.9l.01 .01M1895.9 206.5l.01 .01M1902.5 206.2l.01 .01M1909.1 205.8l.01 .01M1915.6 205.5l.01 .01M1922.2 205.1l.01 .01M1928.8 204.8l.01 .01M1935.4 204.5l.01 .01M1941.9 204.2l.01 .01M1948.5 203.9l.01 .01M1955.1 203.6l.01 .01M1961.7 203.3l.01 .01M1968.2 203l.01 .01M1968.3 203l.01 .01"/>
<path stroke="#ff7070" stroke-linecap="square" stroke-width="5.7" d="M386 1216.4l.01 .01M386.1 1216.4l.01 .01M392.7 1216.1l.01 .01M399.3 1215.8l.01 .01M405.9 1215.5l.01 .01M412.5 1215.2l.01 .01M419.1 1214.9l.01 .01M425.7 1214.6l.01 .01M432.3 1214.3l.01 .01M438.9 1213.9l.01 .01M445.5 1213.6l.01 .01M452.1 1213.2l.01 .01M458.7 1212.9l.01 .01M465.3 1212.5l.01 .01M471.9 1212.1l.01 .01M478.5 1211.8l.01 .01M485.1 1211.3l.01 .01M491.7 1210.9l.01 .01M498.3 1210.5l.01 .01M504.9 1210l.01 .01M511.5 1209.5l.01 .01M518.1 1208.9l.01 .01M524.7 1208.3l.01 .01M531.3 1207.7l.01 .01M537.9 1207.1l.01 .01M544.5 1206.5l.01 .01M551.1 1205.9l.01 .01M557.7 1205.3l.01 .01M564.3 1204.7l.01 .01M570.9 1204.1l.01 .01M577.5 1203.5l.01 .01M584.1 1202.9l.01 .01M590.7 1202.3l.01 .01M597.3 1201.7l.01 .01M603.9 1201.1l.01 .01M610.5 1200.5l.01 .01M617.1 1199.9l.01 .01M623.7 1199.2l.01 .01M630.3 1198.6l.01 .01M636.9 1197.9l.01 .01M643.5 1197.2l.01 .01M650.1 1196.6l.01 .01M656.7 1195.9l.01 .01M663.3 1195.2l.01 .01M669.9 1194.5l.01 .01M676.5 1193.8l.01 .01M683.1 1193.1l.01 .01M689.7 1192.4l.01 .01M696.3 1191.7l.01 .01M702.9 1191l.01 .01M709.5 1190.3l.01 .01M716.1 1189.5l.01 .01M722.7 1188.8l.01 .01M729.3 1188.1l.01 .01M735.9 1187.3l.01 .01M742.5 1186.6l.01 .01M749.1 1185.8l.01 .01M755.7 1185l.01 .01M762.3 1184.2l.01 .01M768.9 1183.4l.01 .01M775.5 1182.6l.01 .01M782.1 1181.7l.01 .01M788.7 1180.7l.01 .01M795.3 1179.7l.01 .01M801.9 1178.6l.01 .01M808.5 1177.5l.01 .01M815.1 1176.3l.01 .01M821.7 1175.2l.01 .01M828.3 1174l.01 .01M834.9 1172.7l.01 .01M841.5 1171.5l.01 .01M848.1 1170.2l.01 .01M854.7 1168.9l.01 .01M861.3 1167.5l.01 .01M867.9 1166.1l.01 .01M874.5 1164.7l.01 .01M881.1 1163.3l.01 .01M887.7 1161.8l.01 .01M894.3 1160.2l.01 .01M900.9 1158.6l.01 .01M907.5 1157.1l.01 .01M914.1 1155.7l.01 .01M920.7 1154.2l.01 .01M927.3 1152.6l.01 .01M933.9 1150.8l.01 .01M940.5 1148.8l.01 .01M947.1 1146.4l.01 .01M953.7 1143.9l.01 .01M960.3 1141.2l.01 .01M966.9 1138.2l.01 .01M973.5 1135.2l.01 .01M981.1 1131.9l.01 .01M988.7 1128.9l.01 .01M996.2 1126l.01 .01M1003.8 1122.8l.01 .01M1011.4 1119l.01 .01M1019 1114.8l.01 .01M1026.6 1110.5l.01 .01M1034.2 1106.3l.01 .01M1041.8 1102l.01 .01M1049.4 1097.4l.01 .01M1057 1092.2l.01 .01M1064.6 1086.3l.01 .01M1072.1 1080l.01 .01M1079.7 1073.7l.01 .01M1087.3 1067.3l.01 .01M1094.9 1060.6l.01 .01M1102.5 1053.7l.01 .01M1110.1 1045.8l.01 .01M1117.7 1037.5l.01 .01M1125.3 1029.6l.01 .01M1132.9 1019.6l.01 .01M1140.5 1009.9l.01 .01M1148 1000.4l.01 .01M1155.6 987.8l.01 .01M1163.2 976.6l.01 .01M1170.8 963.2l.01 .01M1178.9 950l.01 .01M1186.5 934.4l.01 .01M1194 918.2l.01 .01M1201.6 893.7l.01 .01M1209.1 868.1l.01 .01M1216.7 843.5l.01 .01M1224.3 807.4l.01 .01M1231.8 766.5l.01 .01M1239.4 729.5l.01 .01M1247 684.5l.01 .01M1254.5 631l.01 .01M1262.1 591.5l.01 .01M1269.6 551.2l.01 .01M1277.2 511.1l.01 .01M1284.8 479l.01 .01M1292.3 450.8l.01 .01M1299.9 424.6l.01 .01M1307.4 403.7l.01 .01M1315 387.5l.01 .01M1322.6 371l.01 .01M1330.1 357.3l.01 .01M1337.7 346.8l.01 .01M1345.2 337.5l.01 .01M1352.8 329l.01 .01M1360.4 321.4l.01 .01M1367.9 314.3l.01 .01M1375.5 308l.01 .01M1383.1 303.4l.01 .01M1389.6 299.2l.01 .01M1396.2 295.3l.01 .01M1402.8 291.9l.01 .01M1409.4 288.6l.01 .01M1415.9 285.1l.01 .01M1422.5 282.1l.01 .01M1429.1 280l.01 .01M1435.7 277.4l.01 .01M1442.2 274.1l.01 .01M1448.8 271.6l.01 .01M1455.4 270.6l.01 .01M1462 267.8l.01 .01M1468.5 265.5l.01 .01M1475.1 263.8l.01 .01M1481.7 262.1l.01 .01M1488.3 260.2l.01 .01M1494.8 258.2l.01 .01M1501.4 256.2l.01 .01M1508 254.2l.01 .01M1514.6 252.2l.01 .01M1521.1 250.3l.01 .01M1527.7 248.6l.01 .01M1534.3 247.1l.01 .01M1540.9 245.6l.01 .01M1547.4 244.2l.01 .01M1554 242.8l.01 .01M1560.6 241.5l.01 .01M1567.2 240.4l.01 .01M1573.7 239.2l.01 .01M1580.3 238.2l.01 .01M1586.9 237.3l.01 .01M1593.5 236.5l.01 .01M1600 235.6l.01 .01M1606.6 234.9l.01 .01M1613.2 234.1l.01 .01M1619.8 233.3l.01 .01M1626.3 232.5l.01 .01M1632.9 231.7l.01 .01M1639.5 230.9l.01 .01M1646.1 230.1l.01 .01M1652.6 229.4l.01 .01M1659.2 228.6l.01 .01M1665.8 227.9l.01 .01M1672.4 227.1l.01 .01M1678.9 226.4l.01 .01M1685.5 225.7l.01 .01M1692.1 224.9l.01 .01M1698.7 224.2l.01 .01M1705.2 223.5l.01 .01M1711.8 222.8l.01 .01M1718.4 222.1l.01 .01M1725 221.5l.01 .01M1731.5 220.8l.01 .01M1738.1 220.1l.01 .01M1744.7 219.5l.01 .01M1751.3 218.8l.01 .01M1757.8 218.2l.01 .01M1764.4 217.6l.01 .01M1771 217l.01 .01M1777.6 216.3l.01 .01M1784.1 215.7l.01 .01M1790.7 215.1l.01 .01M1797.3 214.5l.01 .01M1803.9 213.9l.01 .01M1810.4 213.3l.01 .01M1817 212.6l.01 .01M1823.6 212l.01 .01M1830.2 211.4l.01 .01M1836.7 210.8l.01 .01M1843.3 210.2l.01 .01M1849.9 209.7l.01 .01M1856.5 209.2l.01 .01M1863 208.8l.01 .01M1869.6 208.3l.01 .01M1876.2 207.9l.01 .01M1882.8 207.5l.01 .01M1889.3 207.1l.01 .01M1895.9 206.8l.01 .01M1902.5 206.4l.01 .01M1909.1 206l.01 .01M1915.6 205.7l.01 .01M1922.2 205.3l.01 .01M1928.8 205l.01 .01M1935.4 204.6l.01 .01M1941.9 204.3l.01 .01M1948.5 204l.01 .01M1955.1 203.6l.01 .01M1961.7 203.3l.01 .01M1968.2 203l.01 .01M1968.3 203l.01 .01"/>
<path stroke="#fff" stroke-linecap="square" stroke-width="2.1" d="M386 1216.4l.01 .01M386.1 1216.4l.01 .01M392.7 1216.1l.01 .01M399.3 1215.8l.01 .01M405.9 1215.5l.01 .01M412.5 1215.2l.01 .01M419.1 1214.9l.01 .01M425.7 1214.6l.01 .01M432.3 1214.3l.01 .01M438.9 1213.9l.01 .01M445.5 1213.6l.01 .01M452.1 1213.2l.01 .01M458.7 1212.9l.01 .01M465.3 1212.5l.01 .01M471.9 1212.1l.01 .01M478.5 1211.8l.01 .01M485.1 1211.3l.01 .01M491.7 1210.9l.01 .01M498.3 1210.5l.01 .01M504.9 1210l.01 .01M511.5 1209.5l.01 .01M518.1 1208.9l.01 .01M524.7 1208.3l.01 .01M531.3 1207.7l.01 .01M537.9 1207.1l.01 .01M544.5 1206.5l.01 .01M551.1 1205.9l.01 .01M557.7 1205.3l.01 .01M564.3 1204.7l.01 .01M570.9 1204.1l.01 .01M577.5 1203.5l.01 .01M584.1 1202.9l.01 .01M590.7 1202.3l.01 .01M597.3 1201.7l.01 .01M603.9 1201.1l.01 .01M610.5 1200.5l.01 .01M617.1 1199.9l.01 .01M623.7 1199.2l.01 .01M630.3 1198.6l.01 .01M636.9 1197.9l.01 .01M643.5 1197.2l.01 .01M650.1 1196.6l.01 .01M656.7 1195.9l.01 .01M663.3 1195.2l.01 .01M669.9 1194.5l.01 .01M676.5 1193.8l.01 .01M683.1 1193.1l.01 .01M689.7 1192.4l.01 .01M696.3 1191.7l.01 .01M702.9 1191l.01 .01M709.5 1190.3l.01 .01M716.1 1189.5l.01 .01M722.7 1188.8l.01 .01M729.3 1188.1l.01 .01M735.9 1187.3l.01 .01M742.5 1186.6l.01 .01M749.1 1185.8l.01 .01M755.7 1185l.01 .01M762.3 1184.2l.01 .01M768.9 1183.4l.01 .01M775.5 1182.6l.01 .01M782.1 1181.7l.01 .01M788.7 1180.7l.01 .01M795.3 1179.7l.01 .01M801.9 1178.6l.01 .01M808.5 1177.5l.01 .01M815.1 1176.3l.01 .01M821.7 1175.2l.01 .01M828.3 1174l.01 .01M834.9 1172.7l.01 .01M841.5 1171.5l.01 .01M848.1 1170.2l.01 .01M854.7 1168.9l.01 .01M861.3 1167.5l.01 .01M867.9 1166.1l.01 .01M874.5 1164.7l.01 .01M881.1 1163.3l.01 .01M887.7 1161.8l.01 .01M894.3 1160.2l.01 .01M900.9 1158.6l.01 .01M907.5 1157.1l.01 .01M914.1 1155.7l.01 .01M920.7 1154.2l.01 .01M927.3 1152.6l.01 .01M933.9 1150.8l.01 .01M940.5 1148.8l.01 .01M947.1 1146.4l.01 .01M953.7 1143.9l.01 .01M960.3 1141.2l.01 .01M966.9 1138.2l.01 .01M973.5 1135.2l.01 .01M981.1 1131.9l.01 .01M988.7 1128.9l.01 .01M996.2 1126l.01 .01M1003.8 1122.8l.01 .01M1011.4 1119l.01 .01M1019 1114.8l.01 .01M1026.6 1110.5l.01 .01M1034.2 1106.3l.01 .01M1041.8 1102l.01 .01M1049.4 1097.4l.01 .01M1057 1092.2l.01 .01M1064.6 1086.3l.01 .01M1072.1 1080l.01 .01M1079.7 1073.7l.01 .01M1087.3 1067.3l.01 .01M1094.9 1060.6l.01 .01M1102.5 1053.7l.01 .01M1110.1 1045.8l.01 .01M1117.7 1037.5l.01 .01M1125.3 1029.6l.01 .01M1132.9 1019.6l.01 .01M1140.5 1009.9l.01 .01M1148 1000.4l.01 .01M1155.6 987.8l.01 .01M1163.2 976.6l.01 .01M1170.8 963.2l.01 .01M1178.9 950l.01 .01M1186.5 934.4l.01 .01M1194 918.2l.01 .01M1201.6 893.7l.01 .01M1209.1 868.1l.01 .01M1216.7 843.5l.01 .01M1224.3 807.4l.01 .01M1231.8 766.5l.01 .01M1239.4 729.5l.01 .01M1247 684.5l.01 .01M1254.5 631l.01 .01M1262.1 591.5l.01 .01M1269.6 551.2l.01 .01M1277.2 511.1l.01 .01M1284.8 479l.01 .01M1292.3 450.8l.01 .01M1299.9 424.6l.01 .01M1307.4 403.7l.01 .01M1315 387.5l.01 .01M1322.6 371l.01 .01M1330.1 357.3l.01 .01M1337.7 346.8l.01 .01M1345.2 337.5l.01 .01M1352.8 329l.01 .01M1360.4 321.4l.01 .01M1367.9 314.3l.01 .01M1375.5 308l.01 .01M1383.1 303.4l.01 .01M1389.6 299.2l.01 .01M1396.2 295.3l.01 .01M1402.8 291.9l.01 .01M1409.4 288.6l.01 .01M1415.9 285.1l.01 .01M1422.5 282.1l.01 .01M1429.1 280l.01 .01M1435.7 277.4l.01 .01M1442.2 274.1l.01 .01M1448.8 271.6l.01 .01M1455.4 270.6l.01 .01M1462 267.8l.01 .01M1468.5 265.5l.01 .01M1475.1 263.8l.01 .01M1481.7 262.1l.01 .01M1488.3 260.2l.01 .01M1494.8 258.2l.01 .01M1501.4 256.2l.01 .01M1508 254.2l.01 .01M1514.6 252.2l.01 .01M1521.1 250.3l.01 .01M1527.7 248.6l.01 .01M1534.3 247.1l.01 .01M1540.9 245.6l.01 .01M1547.4 244.2l.01 .01M1554 242.8l.01 .01M1560.6 241.5l.01 .01M1567.2 240.4l.01 .01M1573.7 239.2l.01 .01M1580.3 238.2l.01 .01M1586.9 237.3l.01 .01M1593.5 236.5l.01 .01M1600 235.6l.01 .01M1606.6 234.9l.01 .01M1613.2 234.1l.01 .01M1619.8 233.3l.01 .01M1626.3 232.5l.01 .01M1632.9 231.7l.01 .01M1639.5 230.9l.01 .01M1646.1 230.1l.01 .01M1652.6 229.4l.01 .01M1659.2 228.6l.01 .01M1665.8 227.9l.01 .01M1672.4 227.1l.01 .01M1678.9 226.4l.01 .01M1685.5 225.7l.01 .01M1692.1 224.9l.01 .01M1698.7 224.2l.01 .01M1705.2 223.5l.01 .01M1711.8 222.8l.01 .01M1718.4 222.1l.01 .01M1725 221.5l.01 .01M1731.5 220.8l.01 .01M1738.1 220.1l.01 .01M1744.7 219.5l.01 .01M1751.3 218.8l.01 .01M1757.8 218.2l.01 .01M1764.4 217.6l.01 .01M1771 217l.01 .01M1777.6 216.3l.01 .01M1784.1 215.7l.01 .01M1790.7 215.1l.01 .01M1797.3 214.5l.01 .01M1803.9 213.9l.01 .01M1810.4 213.3l.01 .01M1817 212.6l.01 .01M1823.6 212l.01 .01M1830.2 211.4l.01 .01M1836.7 210.8l.01 .01M1843.3 210.2l.01 .01M1849.9 209.7l.01 .01M1856.5 209.2l.01 .01M1863 208.8l.01 .01M1869.6 208.3l.01 .01M1876.2 207.9l.01 .01M1882.8 207.5l.01 .01M1889.3 207.1l.01 .01M1895.9 206.8l.01 .01M1902.5 206.4l.01 .01M1909.1 206l.01 .01M1915.6 205.7l.01 .01M1922.2 205.3l.01 .01M1928.8 205l.01 .01M1935.4 204.6l.01 .01M1941.9 204.3l.01 .01M1948.5 204l.01 .01M1955.1 203.6l.01 .01M1961.7 203.3l.01 .01M1968.2 203l.01 .01M1968.3 203l.01 .01"/>
</g>
<g fill="none" stroke="#f0f" stroke-linecap="round" stroke-linejoin="round">
<path stroke-width="7.4" d="M390.8 1030.5 430.7 1029.8 470.3 1029 509.9 1028.3 549.5 1027.5 589.1 1026.4 628.7 1025.2 668.3 1023.8 707.9 1022.4 747.5 1020.6 787.1 1019 806.9 1017.6 826.7 1016.2 846.5 1015.1 866.3 1013.7 886.1 1011.7 905.9 1010 925.7 1007.8 945.5 1005.5 965.3 1002.6 985.1 997.8 1004.9 993.5 1024.7 989.1 1025.8 988.8 1028.3 988.1 1030.8 987.4 1031.3 987.2 1033.3 986.5 1035.8 985.6 1038.3 984.5 1038.9 984.2 1040.8 983.5 1043.3 982.5 1045.8 981.6 1046.5 981.4 1048.3 980.6 1050.8 979.5 1053.3 978.3 1054.1 977.9 1055.8 977 1058.3 975.7 1060.8 974.4 1061.7 974 1063.3 973.3 1065.8 972.2 1068.3 971.3 1069.3 970.9 1070.8 970.3 1073.3 969.2 1075.8 967.9 1076.8 967.3 1078.3 966.5 1080.8 965.2 1083.3 964 1084.4 963.5 1085.8 962.8 1088.3 961.5 1090.8 959.9 1092 959.1 1093.3 958.1 1095.8 956.2 1098.3 954.2 1099.6 953.1 1100.8 952.1 1103.3 949.8 1105.8 947.4 1107.2 946 1108.3 944.9 1110.8 942 1113.3 938.5 1114.8 936.1 1115.8 934.3 1118.3 929.8 1120.8 925.5 1122.4 922.8 1123.3 921.2 1125.8 916.7 1128.3 911.3 1130 906.9 1130.8 904.5 1133.3 896.5 1135.8 887.4 1137.6 880.3 1138.3 877 1140.8 865.2 1143.3 852.6 1145.2 843.6 1145.8 840.5 1148.3 827.8 1150.8 812.1 1152.7 795.2 1153.3 787.8 1155.8 750.9 1158.3 725.3 1160.3 707.6 1160.8 703.9 1163.3 683.9 1165.8 660.8 1167.9 644.5 1168.3 642.1 1170.8 627.9 1173.3 610.1 1175.5 594.3 1175.8 592.9 1178.3 583 1180.8 575.2 1183.3 567.6 1183.6 566.7 1185.8 559.5 1188.3 551.5 1190.8 544.2 1191.2 543.2 1193.3 538 1195.8 532.7 1198.3 527.9 1198.7 527.1 1200.8 523.1 1203.3 518.3 1205.8 513.9 1206.3 513.1 1208.3 509.9 1210.8 506.3 1213.3 503 1213.8 502.4 1215.8 500 1218.3 497.2 1220.8 494.5 1221.4 493.9 1223.3 491.9 1225.8 489.3 1228.3 486.8 1229 486.2 1230.8 484.4 1233.3 482 1235.8 479.7 1236.5 479 1238.3 477.6 1240.8 475.8 1243.3 474.1 1244.1 473.6 1245.8 472.6 1248.3 471.1 1250.8 469.6 1251.7 469.1 1253.3 468.1 1255.8 466.5 1258.3 464.8 1259.2 464.1 1260.8 463 1263.3 461.3 1265.8 459.6 1266.8 459 1268.3 458 1270.8 456.6 1273.3 455.3 1274.3 454.7 1275.8 454 1278.3 452.8 1280.8 451.7 1281.9 451.2 1283.3 450.6 1285.8 449.6 1288.3 448.7 1289.5 448.3 1290.8 447.9 1293.3 447.1 1295.8 446.3 1297 446 1298.3 445.6 1300.8 444.9 1303.3 444.1 1304.6 443.8 1305.8 443.4 1308.3 442.6 1310.8 441.8 1312.1 441.4 1313.3 441 1315.8 440.1 1318.3 439.2 1319.7 438.7 1320.8 438.4 1323.3 437.5 1325.8 436.8 1327.3 436.4 1328.3 436.1 1330.8 435.4 1333.3 434.7 1334.8 434.4 1335.8 434.1 1338.3 433.6 1340.8 433.1 1341.4 433 1361.1 430.8 1380.8 426.4 1400.6 423.6 1420.3 420.7 1440 418.4 1459.8 416.2 1479.5 414.5 1499.2 412.5 1518.9 411.1 1538.6 410 1558.4 408.6 1578.1 407.2 1617.5 405.6 1657 403.8 1696.4 402.4 1735.9 401 1775.3 399.8 1814.8 398.7 1854.2 397.9 1893.7 397.2 1933.2 396.4 1972.9 395.7"/>
<path stroke-width="7.4" d="M390.8 1031.7 430.7 1031 470.3 1030.2 509.9 1029.5 549.5 1028.7 589.1 1027.6 628.7 1026.4 668.3 1025 707.9 1023.6 747.5 1021.8 787.1 1020.2 806.9 1018.8 826.7 1017.4 846.5 1016.3 866.3 1014.9 886.1 1012.9 905.9 1011.2 925.7 1009 945.5 1006.7 965.3 1003.8 985.1 1001 1004.9 996.6 1024.7 994.2 1025.8 994 1028.3 993.4 1030.8 992.7 1031.3 992.6 1033.3 992 1035.8 991.2 1038.3 990.3 1038.9 990.1 1040.8 989.5 1043.3 988.5 1045.8 987.5 1046.5 987.2 1048.3 986.3 1050.8 985.2 1053.3 984.2 1054.1 983.8 1055.8 983.2 1058.3 982.3 1060.8 981.6 1061.7 981.3 1063.3 980.8 1065.8 980.1 1068.3 979.4 1069.3 979.2 1070.8 978.8 1073.3 978.1 1075.8 977.3 1076.8 977 1078.3 976.6 1080.8 975.8 1083.3 974.9 1084.4 974.5 1085.8 974 1088.3 973.1 1090.8 972.2 1092 971.7 1093.3 971.1 1095.8 970 1098.3 968.7 1099.6 968 1100.8 967.2 1103.3 965.6 1105.8 964 1107.2 963 1108.3 962.3 1110.8 960.7 1113.3 959.1 1114.8 958.3 1115.8 957.7 1118.3 956.2 1120.8 954.7 1122.4 953.8 1123.3 953.2 1125.8 951.5 1128.3 949.7 1130 948.4 1130.8 947.6 1133.3 945.3 1135.8 942.9 1137.6 941.2 1138.3 940.5 1140.8 938 1143.3 935.4 1145.2 933.5 1145.8 932.8 1148.3 930.2 1150.8 927.4 1152.7 925 1153.3 924.4 1155.8 921.1 1158.3 917.5 1160.3 914.3 1160.8 913.6 1163.3 909.1 1165.8 904.4 1167.9 900.3 1168.3 899.6 1170.8 894.7 1173.3 889.4 1175.5 884.4 1175.8 883.7 1178.3 877.5 1180.8 870.8 1183.3 863.3 1183.6 862.3 1185.8 855.3 1188.3 846.3 1190.8 835.1 1191.2 833.3 1193.3 817.8 1195.8 799.8 1198.3 785.5 1198.7 782.9 1200.8 766.9 1203.3 743.7 1205.8 723.7 1206.3 719.8 1208.3 702.1 1210.8 676.4 1213.3 639.4 1213.8 632.2 1215.8 615.1 1218.3 599.4 1220.8 586.7 1221.4 583.8 1223.3 574.5 1225.8 561.9 1228.3 550.1 1229 547.1 1230.8 539.7 1233.3 530.6 1235.8 522.6 1236.5 520.5 1238.3 515.8 1240.8 510.5 1243.3 505.9 1244.1 504.6 1245.8 501.7 1248.3 497.2 1250.8 492.7 1251.7 491.2 1253.3 488.5 1255.8 485 1258.3 482.1 1259.2 481.1 1260.8 479.4 1263.3 476.9 1265.8 474.5 1266.8 473.6 1268.3 472.2 1270.8 470 1273.3 467.9 1274.3 467 1275.8 465.8 1278.3 464 1280.8 462.4 1281.9 461.7 1283.3 460.9 1285.8 459.5 1288.3 457.8 1289.5 457.1 1290.8 456.2 1293.3 454.7 1295.8 453.5 1297 452.9 1298.3 452.4 1300.8 451.5 1303.3 450.4 1304.6 449.9 1305.8 449.4 1308.3 448.3 1310.8 447.2 1312.1 446.7 1313.3 446.2 1315.8 445.2 1318.3 444.4 1319.7 444 1320.8 443.7 1323.3 443.1 1325.8 442.4 1327.3 441.9 1328.3 441.6 1330.8 440.8 1333.3 440 1334.8 439.6 1335.8 439.3 1338.3 438.7 1340.8 438.2 1341.4 438 1361.1 433.9 1380.8 429.6 1400.6 424.8 1420.3 421.9 1440 419.6 1459.8 417.4 1479.5 415.7 1499.2 413.7 1518.9 412.3 1538.6 411.2 1558.4 409.8 1578.1 408.4 1617.5 406.8 1657 405 1696.4 403.6 1735.9 402.2 1775.3 401 1814.8 399.9 1854.2 399.1 1893.7 398.4 1933.2 397.6 1972.9 396.9"/>
<g transform="scale(1 1.11842)">
<path stroke-width="15.2" d="M390.8 921.4h0M430.7 920.7h0M470.3 920.1h0M509.9 919.4h0M549.5 918.7h0M589.1 917.8h0M628.7 916.7h0M668.3 915.4h0M707.9 914.1h0M747.5 912.5h0M787.1 911.1h0M806.9 909.8h0M826.7 908.6h0M846.5 907.7h0M866.3 906.4h0M886.1 904.6h0M905.9 903.1h0M925.7 901.1h0M945.5 899.1h0M965.3 896.4h0M985.1 892.2h0M1004.9 888.3h0M1024.7 884.3h0M1031.3 882.7h0M1038.9 880h0M1046.5 877.4h0M1054.1 874.3h0M1061.7 870.9h0M1069.3 868.1h0M1076.8 864.9h0M1084.4 861.5h0M1092 857.5h0M1099.6 852.2h0M1107.2 845.8h0M1114.8 837h0M1122.4 825.1h0M1130 810.9h0M1137.6 787.1h0M1145.2 754.3h0M1152.7 711h0M1160.3 632.7h0M1167.9 576.3h0M1175.5 531.4h0M1183.6 506.7h0M1191.2 485.7h0M1198.7 471.3h0M1206.3 458.7h0M1213.8 449.2h0M1221.4 441.6h0M1229 434.7h0M1236.5 428.3h0M1244.1 423.5h0M1251.7 419.4h0M1259.2 415h0M1266.8 410.4h0M1274.3 406.6h0M1281.9 403.4h0M1289.5 400.9h0M1297 398.7h0M1304.6 396.8h0M1312.1 394.7h0M1319.7 392.3h0M1327.3 390.2h0M1334.8 388.4h0M1341.4 387.2h0M1361.1 385.2h0M1380.8 381.3h0M1400.6 378.8h0M1420.3 376.1h0M1440 374.1h0M1459.8 372.1h0M1479.5 370.6h0M1499.2 368.8h0M1518.9 367.5h0M1538.6 366.6h0M1558.4 365.4h0M1578.1 364.1h0M1617.5 362.7h0M1657 361.1h0M1696.4 359.8h0M1735.9 358.5h0M1775.3 357.4h0M1814.8 356.5h0M1854.2 355.8h0M1893.7 355.1h0M1933.2 354.4h0M1972.9 353.8h0"/>
<path stroke-width="15.2" d="M390.8 922.5h0M430.7 921.8h0M470.3 921.1h0M509.9 920.5h0M549.5 919.8h0M589.1 918.8h0M628.7 917.7h0M668.3 916.5h0M707.9 915.2h0M747.5 913.6h0M787.1 912.2h0M806.9 910.9h0M826.7 909.7h0M846.5 908.7h0M866.3 907.5h0M886.1 905.7h0M905.9 904.2h0M925.7 902.2h0M945.5 900.1h0M965.3 897.5h0M985.1 895h0M1004.9 891.1h0M1024.7 888.9h0M1031.3 887.5h0M1038.9 885.3h0M1046.5 882.6h0M1054.1 879.7h0M1061.7 877.4h0M1069.3 875.5h0M1076.8 873.6h0M1084.4 871.3h0M1092 868.8h0M1099.6 865.5h0M1107.2 861.1h0M1114.8 856.8h0M1122.4 852.8h0M1130 848h0M1137.6 841.6h0M1145.2 834.7h0M1152.7 827.1h0M1160.3 817.5h0M1167.9 805h0M1175.5 790.8h0M1183.6 771h0M1191.2 745h0M1198.7 700h0M1206.3 643.6h0M1213.8 565.3h0M1221.4 522h0M1229 489.2h0M1236.5 465.4h0M1244.1 451.1h0M1251.7 439.2h0M1259.2 430.2h0M1266.8 423.4h0M1274.3 417.6h0M1281.9 412.9h0M1289.5 408.7h0M1297 405h0M1304.6 402.3h0M1312.1 399.4h0M1319.7 397h0M1327.3 395.2h0M1334.8 393h0M1341.4 391.7h0M1361.1 388h0M1380.8 384.1h0M1400.6 379.8h0M1420.3 377.2h0M1440 375.2h0M1459.8 373.2h0M1479.5 371.7h0M1499.2 369.9h0M1518.9 368.6h0M1538.6 367.7h0M1558.4 366.4h0M1578.1 365.2h0M1617.5 363.7h0M1657 362.1h0M1696.4 360.9h0M1735.9 359.6h0M1775.3 358.5h0M1814.8 357.5h0M1854.2 356.8h0M1893.7 356.2h0M1933.2 355.5h0M1972.9 354.9h0"/>
</g>
<path stroke="#ffa0b8" stroke-linecap="square" stroke-width="5.7" d="M386.1 1026.5l.01 .01M426 1025.8l.01 .01M465.6 1025l.01 .01M505.2 1024.3l.01 .01M544.8 1023.5l.01 .01M584.4 1022.4l.01 .01M624 1021.2l.01 .01M663.6 1019.8l.01 .01M703.2 1018.4l.01 .01M742.8 1016.6l.01 .01M782.4 1015l.01 .01M802.2 1013.6l.01 .01M822 1012.2l.01 .01M841.8 1011.1l.01 .01M861.6 1009.7l.01 .01M881.4 1007.7l.01 .01M901.2 1006l.01 .01M921 1003.8l.01 .01M940.8 1001.5l.01 .01M960.6 998.6l.01 .01M980.4 993.8l.01 .01M1000.2 989.5l.01 .01M1020 985.1l.01 .01M1026.6 983.2l.01 .01M1034.2 980.2l.01 .01M1041.8 977.4l.01 .01M1049.4 973.9l.01 .01M1057 970l.01 .01M1064.6 966.9l.01 .01M1072.1 963.3l.01 .01M1079.7 959.5l.01 .01M1087.3 955.1l.01 .01M1094.9 949.1l.01 .01M1102.5 942l.01 .01M1110.1 932.1l.01 .01M1117.7 918.8l.01 .01M1125.3 902.9l.01 .01M1132.9 876.3l.01 .01M1140.5 839.6l.01 .01M1148 791.2l.01 .01M1155.6 703.6l.01 .01M1163.2 640.5l.01 .01M1170.8 590.3l.01 .01M1178.9 562.7l.01 .01M1186.5 539.2l.01 .01M1194 523.1l.01 .01M1201.6 509.1l.01 .01M1209.1 498.4l.01 .01M1216.7 489.9l.01 .01M1224.3 482.2l.01 .01M1231.8 475l.01 .01M1239.4 469.6l.01 .01M1247 465.1l.01 .01M1254.5 460.1l.01 .01M1262.1 455l.01 .01M1269.6 450.7l.01 .01M1277.2 447.2l.01 .01M1284.8 444.3l.01 .01M1292.3 442l.01 .01M1299.9 439.8l.01 .01M1307.4 437.4l.01 .01M1315 434.7l.01 .01M1322.6 432.4l.01 .01M1330.1 430.4l.01 .01M1336.7 429l.01 .01M1356.4 426.8l.01 .01M1376.1 422.4l.01 .01M1395.9 419.6l.01 .01M1415.6 416.7l.01 .01M1435.3 414.4l.01 .01M1455 412.2l.01 .01M1474.8 410.5l.01 .01M1494.5 408.5l.01 .01M1514.2 407.1l.01 .01M1533.9 406l.01 .01M1553.7 404.6l.01 .01M1573.4 403.2l.01 .01M1612.8 401.6l.01 .01M1652.3 399.8l.01 .01M1691.7 398.4l.01 .01M1731.2 397l.01 .01M1770.6 395.8l.01 .01M1810.1 394.7l.01 .01M1849.5 393.9l.01 .01M1889 393.2l.01 .01M1928.5 392.4l.01 .01M1968.2 391.7l.01 .01"/>
<path stroke="#fff" stroke-linecap="square" stroke-width="2.1" d="M386.1 1026.5l.01 .01M426 1025.8l.01 .01M465.6 1025l.01 .01M505.2 1024.3l.01 .01M544.8 1023.5l.01 .01M584.4 1022.4l.01 .01M624 1021.2l.01 .01M663.6 1019.8l.01 .01M703.2 1018.4l.01 .01M742.8 1016.6l.01 .01M782.4 1015l.01 .01M802.2 1013.6l.01 .01M822 1012.2l.01 .01M841.8 1011.1l.01 .01M861.6 1009.7l.01 .01M881.4 1007.7l.01 .01M901.2 1006l.01 .01M921 1003.8l.01 .01M940.8 1001.5l.01 .01M960.6 998.6l.01 .01M980.4 993.8l.01 .01M1000.2 989.5l.01 .01M1020 985.1l.01 .01M1026.6 983.2l.01 .01M1034.2 980.2l.01 .01M1041.8 977.4l.01 .01M1049.4 973.9l.01 .01M1057 970l.01 .01M1064.6 966.9l.01 .01M1072.1 963.3l.01 .01M1079.7 959.5l.01 .01M1087.3 955.1l.01 .01M1094.9 949.1l.01 .01M1102.5 942l.01 .01M1110.1 932.1l.01 .01M1117.7 918.8l.01 .01M1125.3 902.9l.01 .01M1132.9 876.3l.01 .01M1140.5 839.6l.01 .01M1148 791.2l.01 .01M1155.6 703.6l.01 .01M1163.2 640.5l.01 .01M1170.8 590.3l.01 .01M1178.9 562.7l.01 .01M1186.5 539.2l.01 .01M1194 523.1l.01 .01M1201.6 509.1l.01 .01M1209.1 498.4l.01 .01M1216.7 489.9l.01 .01M1224.3 482.2l.01 .01M1231.8 475l.01 .01M1239.4 469.6l.01 .01M1247 465.1l.01 .01M1254.5 460.1l.01 .01M1262.1 455l.01 .01M1269.6 450.7l.01 .01M1277.2 447.2l.01 .01M1284.8 444.3l.01 .01M1292.3 442l.01 .01M1299.9 439.8l.01 .01M1307.4 437.4l.01 .01M1315 434.7l.01 .01M1322.6 432.4l.01 .01M1330.1 430.4l.01 .01M1336.7 429l.01 .01M1356.4 426.8l.01 .01M1376.1 422.4l.01 .01M1395.9 419.6l.01 .01M1415.6 416.7l.01 .01M1435.3 414.4l.01 .01M1455 412.2l.01 .01M1474.8 410.5l.01 .01M1494.5 408.5l.01 .01M1514.2 407.1l.01 .01M1533.9 406l.01 .01M1553.7 404.6l.01 .01M1573.4 403.2l.01 .01M1612.8 401.6l.01 .01M1652.3 399.8l.01 .01M1691.7 398.4l.01 .01M1731.2 397l.01 .01M1770.6 395.8l.01 .01M1810.1 394.7l.01 .01M1849.5 393.9l.01 .01M1889 393.2l.01 .01M1928.5 392.4l.01 .01M1968.2 391.7l.01 .01"/>
<path stroke="#ffa0b8" stroke-linecap="square" stroke-width="5.7" d="M386.1 1027.7l.01 .01M426 1027l.01 .01M465.6 1026.2l.01 .01M505.2 1025.5l.01 .01M544.8 1024.7l.01 .01M584.4 1023.6l.01 .01M624 1022.4l.01 .01M663.6 1021l.01 .01M703.2 1019.6l.01 .01M742.8 1017.8l.01 .01M782.4 1016.2l.01 .01M802.2 1014.8l.01 .01M822 1013.4l.01 .01M841.8 1012.3l.01 .01M861.6 1010.9l.01 .01M881.4 1008.9l.01 .01M901.2 1007.2l.01 .01M921 1005l.01 .01M940.8 1002.7l.01 .01M960.6 999.8l.01 .01M980.4 997l.01 .01M1000.2 992.6l.01 .01M1020 990.2l.01 .01M1026.6 988.6l.01 .01M1034.2 986.1l.01 .01M1041.8 983.2l.01 .01M1049.4 979.8l.01 .01M1057 977.3l.01 .01M1064.6 975.2l.01 .01M1072.1 973l.01 .01M1079.7 970.5l.01 .01M1087.3 967.7l.01 .01M1094.9 964l.01 .01M1102.5 959l.01 .01M1110.1 954.3l.01 .01M1117.7 949.8l.01 .01M1125.3 944.4l.01 .01M1132.9 937.2l.01 .01M1140.5 929.5l.01 .01M1148 921l.01 .01M1155.6 910.3l.01 .01M1163.2 896.3l.01 .01M1170.8 880.4l.01 .01M1178.9 858.3l.01 .01M1186.5 829.3l.01 .01M1194 778.9l.01 .01M1201.6 715.8l.01 .01M1209.1 628.2l.01 .01M1216.7 579.8l.01 .01M1224.3 543.1l.01 .01M1231.8 516.5l.01 .01M1239.4 500.6l.01 .01M1247 487.2l.01 .01M1254.5 477.1l.01 .01M1262.1 469.6l.01 .01M1269.6 463l.01 .01M1277.2 457.7l.01 .01M1284.8 453.1l.01 .01M1292.3 448.9l.01 .01M1299.9 445.9l.01 .01M1307.4 442.7l.01 .01M1315 440l.01 .01M1322.6 437.9l.01 .01M1330.1 435.6l.01 .01M1336.7 434l.01 .01M1356.4 429.9l.01 .01M1376.1 425.6l.01 .01M1395.9 420.8l.01 .01M1415.6 417.9l.01 .01M1435.3 415.6l.01 .01M1455 413.4l.01 .01M1474.8 411.7l.01 .01M1494.5 409.7l.01 .01M1514.2 408.3l.01 .01M1533.9 407.2l.01 .01M1553.7 405.8l.01 .01M1573.4 404.4l.01 .01M1612.8 402.8l.01 .01M1652.3 401l.01 .01M1691.7 399.6l.01 .01M1731.2 398.2l.01 .01M1770.6 397l.01 .01M1810.1 395.9l.01 .01M1849.5 395.1l.01 .01M1889 394.4l.01 .01M1928.5 393.6l.01 .01M1968.2 392.9l.01 .01"/>
<path stroke="#fff" stroke-linecap="square" stroke-width="2.1" d="M386.1 1027.7l.01 .01M426 1027l.01 .01M465.6 1026.2l.01 .01M505.2 1025.5l.01 .01M544.8 1024.7l.01 .01M584.4 1023.6l.01 .01M624 1022.4l.01 .01M663.6 1021l.01 .01M703.2 1019.6l.01 .01M742.8 1017.8l.01 .01M782.4 1016.2l.01 .01M802.2 1014.8l.01 .01M822 1013.4l.01 .01M841.8 1012.3l.01 .01M861.6 1010.9l.01 .01M881.4 1008.9l.01 .01M901.2 1007.2l.01 .01M921 1005l.01 .01M940.8 1002.7l.01 .01M960.6 999.8l.01 .01M980.4 997l.01 .01M1000.2 992.6l.01 .01M1020 990.2l.01 .01M1026.6 988.6l.01 .01M1034.2 986.1l.01 .01M1041.8 983.2l.01 .01M1049.4 979.8l.01 .01M1057 977.3l.01 .01M1064.6 975.2l.01 .01M1072.1 973l.01 .01M1079.7 970.5l.01 .01M1087.3 967.7l.01 .01M1094.9 964l.01 .01M1102.5 959l.01 .01M1110.1 954.3l.01 .01M1117.7 949.8l.01 .01M1125.3 944.4l.01 .01M1132.9 937.2l.01 .01M1140.5 929.5l.01 .01M1148 921l.01 .01M1155.6 910.3l.01 .01M1163.2 896.3l.01 .01M1170.8 880.4l.01 .01M1178.9 858.3l.01 .01M1186.5 829.3l.01 .01M1194 778.9l.01 .01M1201.6 715.8l.01 .01M1209.1 628.2l.01 .01M1216.7 579.8l.01 .01M1224.3 543.1l.01 .01M1231.8 516.5l.01 .01M1239.4 500.6l.01 .01M1247 487.2l.01 .01M1254.5 477.1l.01 .01M1262.1 469.6l.01 .01M1269.6 463l.01 .01M1277.2 457.7l.01 .01M1284.8 453.1l.01 .01M1292.3 448.9l.01 .01M1299.9 445.9l.01 .01M1307.4 442.7l.01 .01M1315 440l.01 .01M1322.6 437.9l.01 .01M1330.1 435.6l.01 .01M1336.7 434l.01 .01M1356.4 429.9l.01 .01M1376.1 425.6l.01 .01M1395.9 420.8l.01 .01M1415.6 417.9l.01 .01M1435.3 415.6l.01 .01M1455 413.4l.01 .01M1474.8 411.7l.01 .01M1494.5 409.7l.01 .01M1514.2 408.3l.01 .01M1533.9 407.2l.01 .01M1553.7 405.8l.01 .01M1573.4 404.4l.01 .01M1612.8 402.8l.01 .01M1652.3 401l.01 .01M1691.7 399.6l.01 .01M1731.2 398.2l.01 .01M1770.6 397l.01 .01M1810.1 395.9l.01 .01M1849.5 395.1l.01 .01M1889 394.4l.01 .01M1928.5 393.6l.01 .01M1968.2 392.9l.01 .01"/>
</g>
<g fill="none" stroke="#00f" stroke-linecap="round" stroke-linejoin="round">
<path stroke-width="7.4" d="M390.8 821.4 430.7 821 470.3 820.5 509.9 819.7 549.5 818.9 589.1 818.2 628.7 817.5 668.3 816.8 707.9 816 747.5 815.2 787.1 814.2 806.9 813.6 826.7 812.8 846.5 812.1 866.3 811.3 886.1 810.5 905.9 809.7 925.7 809 945.5 808.3 965.3 807.5 985.1 806.5 1004.9 805.2 1024.7 803.8 1025.8 803.7 1028.3 803.5 1030.8 803.3 1031.3 803.2 1033.3 803.1 1035.8 802.9 1038.3 802.7 1038.9 802.6 1040.8 802.5 1043.3 802.3 1045.8 802.2 1046.5 802.1 1048.3 802 1050.8 801.7 1053.3 801.3 1054.1 801.2 1055.8 800.9 1058.3 800.5 1060.8 800.1 1061.7 800 1063.3 799.8 1065.8 799.5 1068.3 799.3 1069.3 799.2 1070.8 799.1 1073.3 798.8 1075.8 798.5 1076.8 798.3 1078.3 798.1 1080.8 797.8 1083.3 797.6 1084.4 797.5 1085.8 797.3 1088.3 797.1 1090.8 796.7 1092 796.4 1093.3 796.1 1095.8 795.6 1098.3 795.1 1099.6 794.8 1100.8 794.5 1103.3 793.9 1105.8 793.2 1107.2 792.7 1108.3 792.3 1110.8 791.5 1113.3 790.8 1114.8 790.4 1115.8 790.2 1118.3 789.6 1120.8 788.8 1122.4 788.2 1123.3 787.9 1125.8 786.8 1128.3 785.6 1130 784.7 1130.8 784.2 1133.3 782.7 1135.8 781.1 1137.6 780 1138.3 779.5 1140.8 777.9 1143.3 776 1145.2 774.5 1145.8 774 1148.3 771.6 1150.8 768.8 1152.7 766.2 1153.3 765.3 1155.8 760.9 1158.3 755.5 1160.3 750.5 1160.8 749.2 1163.3 741.2 1165.8 732.7 1167.9 726 1168.3 724.9 1170.8 717 1173.3 704.6 1173.5 703.5 1175.5 693.9 1175.6 693.5 1175.8 692.6 1177.7 685 1178.3 682.8 1179.8 677.6 1180.8 674.3 1181.9 671 1183.3 667.9 1183.6 667.5 1184 667 1185.8 665 1186.1 664.6 1188.3 662.7 1190.8 661 1191.2 660.7 1193.3 659.5 1195.8 658.1 1198.3 656.6 1198.7 656.4 1200.8 654.9 1203.3 653 1205.8 651.1 1206.3 650.7 1208.3 649.2 1210.8 647.4 1213.3 645.6 1213.8 645.3 1215.8 644.1 1218.3 642.6 1220.8 641.2 1221.4 640.9 1223.3 640.1 1225.8 639 1228.3 638.1 1229 637.8 1230.8 637.2 1233.3 636.3 1235.8 635.5 1236.5 635.3 1238.3 634.8 1240.8 634 1243.3 633.2 1244.1 633 1245.8 632.5 1248.3 631.7 1250.8 631.1 1251.7 630.9 1253.3 630.6 1255.8 630.1 1258.3 629.8 1259.2 629.7 1260.8 629.5 1263.3 629.2 1265.8 628.9 1266.8 628.8 1268.3 628.7 1270.8 628.4 1273.3 628.2 1274.3 628.1 1275.8 628 1278.3 627.7 1280.8 627.5 1281.9 627.5 1283.3 627.3 1285.8 627.1 1288.3 626.9 1289.5 626.8 1290.8 626.7 1293.3 626.5 1295.8 626.3 1297 626.2 1298.3 626.1 1300.8 625.9 1303.3 625.7 1304.6 625.7 1305.8 625.6 1308.3 625.4 1310.8 625.2 1312.1 625.1 1313.3 625 1315.8 624.8 1318.3 624.6 1319.7 624.5 1320.8 624.4 1323.3 624.2 1325.8 624 1327.3 623.9 1328.3 623.8 1330.8 623.5 1333.3 623.3 1334.8 623.2 1335.8 623.1 1338.3 622.9 1340.8 622.7 1341.4 622.6 1361.1 621.2 1380.8 619.9 1400.6 618.9 1420.3 618.1 1440 617.4 1459.8 616.7 1479.5 615.9 1499.2 615.1 1518.9 614.3 1538.6 613.6 1558.4 612.8 1578.1 612.2 1617.5 611.2 1657 610.4 1696.4 609.6 1735.9 608.9 1775.3 608.2 1814.8 607.5 1854.2 606.7 1893.7 605.9 1933.2 605.4 1972.9 605"/>
<path stroke-width="7.4" d="M390.8 822.4 430.7 822 470.3 821.5 509.9 820.7 549.5 819.9 589.1 819.2 628.7 818.5 668.3 817.8 707.9 817 747.5 816.2 787.1 815.2 806.9 814.6 826.7 813.8 846.5 813.1 866.3 812.3 886.1 811.5 905.9 810.7 925.7 810 945.5 809.3 965.3 808.5 985.1 807.5 1004.9 806.2 1024.7 804.8 1025.8 804.7 1028.3 804.5 1030.8 804.3 1031.3 804.2 1033.3 804 1035.8 803.8 1038.3 803.6 1038.9 803.5 1040.8 803.4 1043.3 803.2 1045.8 803 1046.5 802.9 1048.3 802.8 1050.8 802.6 1053.3 802.4 1054.1 802.3 1055.8 802.2 1058.3 802 1060.8 801.8 1061.7 801.7 1063.3 801.6 1065.8 801.4 1068.3 801.2 1069.3 801.2 1070.8 801 1073.3 800.8 1075.8 800.6 1076.8 800.6 1078.3 800.4 1080.8 800.2 1083.3 800 1084.4 799.9 1085.8 799.8 1088.3 799.6 1090.8 799.4 1092 799.3 1093.3 799.2 1095.8 799 1098.3 798.7 1099.6 798.6 1100.8 798.5 1103.3 798.2 1105.8 797.9 1107.2 797.7 1108.3 797.6 1110.8 797.2 1113.3 796.8 1114.8 796.5 1115.8 796.3 1118.3 795.6 1120.8 794.9 1122.4 794.4 1123.3 794.1 1125.8 793.4 1128.3 792.6 1130 792.1 1130.8 791.8 1133.3 791 1135.8 790.2 1137.6 789.6 1138.3 789.3 1140.8 788.4 1143.3 787.3 1145.2 786.5 1145.8 786.1 1148.3 784.8 1150.8 783.3 1152.7 782.1 1153.3 781.8 1155.8 780 1158.3 778.2 1160.3 776.7 1160.8 776.3 1163.3 774.4 1165.8 772.5 1167.9 771.1 1168.3 770.9 1170.8 769.5 1173.3 768.4 1173.5 768.3 1175.5 767.4 1175.6 767.3 1175.8 767.2 1177.7 766.2 1178.3 765.8 1179.8 764.7 1180.8 763.9 1181.9 762.8 1183.3 761.2 1183.6 760.9 1184 760.2 1185.8 754.7 1186.1 753.6 1188.3 744.8 1190.8 735 1191.2 733.4 1193.3 723.2 1195.8 710.6 1198.3 702.6 1198.7 701.4 1200.8 694.8 1203.3 686.3 1205.8 678.3 1206.3 676.9 1208.3 671.9 1210.8 666.5 1213.3 662 1213.8 661.2 1215.8 658.6 1218.3 655.8 1220.8 653.4 1221.4 652.9 1223.3 651.3 1225.8 649.5 1228.3 647.9 1229 647.4 1230.8 646.3 1233.3 644.7 1235.8 643.1 1236.5 642.7 1238.3 641.7 1240.8 640.6 1243.3 639.5 1244.1 639.2 1245.8 638.6 1248.3 637.8 1250.8 637.2 1251.7 637 1253.3 636.6 1255.8 635.9 1258.3 635 1259.2 634.7 1260.8 634.2 1263.3 633.5 1265.8 632.9 1266.8 632.6 1268.3 632.3 1270.8 631.8 1273.3 631.2 1274.3 631 1275.8 630.7 1278.3 630.3 1280.8 630 1281.9 629.9 1283.3 629.8 1285.8 629.6 1288.3 629.3 1289.5 629.1 1290.8 628.9 1293.3 628.5 1295.8 628.3 1297 628.2 1298.3 628.1 1300.8 627.9 1303.3 627.6 1304.6 627.4 1305.8 627.2 1308.3 626.8 1310.8 626.4 1312.1 626.2 1313.3 626 1315.8 625.7 1318.3 625.4 1319.7 625.3 1320.8 625.2 1323.3 625 1325.8 624.9 1327.3 624.8 1328.3 624.7 1330.8 624.5 1333.3 624.3 1334.8 624.2 1335.8 624.1 1338.3 623.9 1340.8 623.7 1341.4 623.6 1361.1 622.2 1380.8 620.9 1400.6 619.9 1420.3 619.1 1440 618.4 1459.8 617.7 1479.5 616.9 1499.2 616.1 1518.9 615.3 1538.6 614.6 1558.4 613.8 1578.1 613.2 1617.5 612.2 1657 611.4 1696.4 610.6 1735.9 609.9 1775.3 609.2 1814.8 608.5 1854.2 607.7 1893.7 606.9 1933.2 606.4 1972.9 606"/>
<g transform="scale(1 1.11842)">
<path stroke-width="15.2" d="M390.8 734.4h0M430.7 734.1h0M470.3 733.6h0M509.9 732.9h0M549.5 732.2h0M589.1 731.6h0M628.7 731h0M668.3 730.3h0M707.9 729.6h0M747.5 728.9h0M787.1 728h0M806.9 727.4h0M826.7 726.8h0M846.5 726.1h0M866.3 725.4h0M886.1 724.7h0M905.9 724h0M925.7 723.3h0M945.5 722.7h0M965.3 722h0M985.1 721.1h0M1004.9 719.9h0M1024.7 718.6h0M1031.3 718.2h0M1038.9 717.6h0M1046.5 717.2h0M1054.1 716.3h0M1061.7 715.3h0M1069.3 714.6h0M1076.8 713.8h0M1084.4 713h0M1092 712.1h0M1099.6 710.6h0M1107.2 708.8h0M1114.8 706.7h0M1122.4 704.8h0M1130 701.6h0M1137.6 697.4h0M1145.2 692.5h0M1152.7 685.1h0M1160.3 671h0M1167.9 649.1h0M1173.5 629h0M1175.5 620.4h0M1175.6 620.1h0M1177.7 612.5h0M1179.8 605.9h0M1181.9 599.9h0M1183.6 596.8h0M1184 596.4h0M1186.1 594.3h0M1191.2 590.8h0M1198.7 586.9h0M1206.3 581.8h0M1213.8 576.9h0M1221.4 573.1h0M1229 570.3h0M1236.5 568h0M1244.1 565.9h0M1251.7 564.1h0M1259.2 563h0M1266.8 562.2h0M1274.3 561.6h0M1281.9 561h0M1289.5 560.5h0M1297 559.9h0M1304.6 559.4h0M1312.1 558.9h0M1319.7 558.4h0M1327.3 557.8h0M1334.8 557.2h0M1341.4 556.7h0M1361.1 555.4h0M1380.8 554.3h0M1400.6 553.3h0M1420.3 552.6h0M1440 552h0M1459.8 551.4h0M1479.5 550.7h0M1499.2 550h0M1518.9 549.3h0M1538.6 548.6h0M1558.4 547.9h0M1578.1 547.3h0M1617.5 546.5h0M1657 545.7h0M1696.4 545h0M1735.9 544.4h0M1775.3 543.8h0M1814.8 543.2h0M1854.2 542.4h0M1893.7 541.7h0M1933.2 541.3h0M1972.9 540.9h0"/>
<path stroke-width="15.2" d="M390.8 735.3h0M430.7 735h0M470.3 734.5h0M509.9 733.8h0M549.5 733.1h0M589.1 732.5h0M628.7 731.9h0M668.3 731.2h0M707.9 730.5h0M747.5 729.8h0M787.1 728.9h0M806.9 728.3h0M826.7 727.7h0M846.5 727h0M866.3 726.3h0M886.1 725.6h0M905.9 724.9h0M925.7 724.2h0M945.5 723.6h0M965.3 722.9h0M985.1 722h0M1004.9 720.8h0M1024.7 719.5h0M1031.3 719.1h0M1038.9 718.5h0M1046.5 717.9h0M1054.1 717.4h0M1061.7 716.9h0M1069.3 716.3h0M1076.8 715.8h0M1084.4 715.2h0M1092 714.7h0M1099.6 714h0M1107.2 713.3h0M1114.8 712.2h0M1122.4 710.3h0M1130 708.2h0M1137.6 706h0M1145.2 703.2h0M1152.7 699.3h0M1160.3 694.4h0M1167.9 689.4h0M1173.5 687h0M1175.5 686.1h0M1175.6 686.1h0M1177.7 685h0M1179.8 683.7h0M1181.9 682h0M1183.6 680.3h0M1184 679.7h0M1186.1 673.8h0M1191.2 655.8h0M1198.7 627.1h0M1206.3 605.2h0M1213.8 591.2h0M1221.4 583.8h0M1229 578.9h0M1236.5 574.7h0M1244.1 571.5h0M1251.7 569.5h0M1259.2 567.5h0M1266.8 565.6h0M1274.3 564.2h0M1281.9 563.2h0M1289.5 562.5h0M1297 561.6h0M1304.6 561h0M1312.1 559.9h0M1319.7 559.1h0M1327.3 558.6h0M1334.8 558.1h0M1341.4 557.6h0M1361.1 556.4h0M1380.8 555.2h0M1400.6 554.2h0M1420.3 553.5h0M1440 552.9h0M1459.8 552.3h0M1479.5 551.6h0M1499.2 550.9h0M1518.9 550.2h0M1538.6 549.5h0M1558.4 548.8h0M1578.1 548.2h0M1617.5 547.4h0M1657 546.6h0M1696.4 545.9h0M1735.9 545.3h0M1775.3 544.7h0M1814.8 544.1h0M1854.2 543.3h0M1893.7 542.6h0M1933.2 542.2h0M1972.9 541.8h0"/>
</g>
<path stroke="#58a8d8" stroke-linecap="square" stroke-width="5.7" d="M386.1 817.4l.01 .01M426 817l.01 .01M465.6 816.5l.01 .01M505.2 815.7l.01 .01M544.8 814.9l.01 .01M584.4 814.2l.01 .01M624 813.5l.01 .01M663.6 812.8l.01 .01M703.2 812l.01 .01M742.8 811.2l.01 .01M782.4 810.2l.01 .01M802.2 809.6l.01 .01M822 808.8l.01 .01M841.8 808.1l.01 .01M861.6 807.3l.01 .01M881.4 806.5l.01 .01M901.2 805.7l.01 .01M921 805l.01 .01M940.8 804.3l.01 .01M960.6 803.5l.01 .01M980.4 802.5l.01 .01M1000.2 801.2l.01 .01M1020 799.8l.01 .01M1026.6 799.2l.01 .01M1034.2 798.6l.01 .01M1041.8 798.1l.01 .01M1049.4 797.2l.01 .01M1057 796l.01 .01M1064.6 795.2l.01 .01M1072.1 794.3l.01 .01M1079.7 793.5l.01 .01M1087.3 792.4l.01 .01M1094.9 790.8l.01 .01M1102.5 788.7l.01 .01M1110.1 786.4l.01 .01M1117.7 784.2l.01 .01M1125.3 780.7l.01 .01M1132.9 776l.01 .01M1140.5 770.5l.01 .01M1148 762.2l.01 .01M1155.6 746.5l.01 .01M1163.2 722l.01 .01M1168.8 699.5l.01 .01M1170.8 689.9l.01 .01M1170.9 689.5l.01 .01M1173 681l.01 .01M1175.1 673.6l.01 .01M1177.2 667l.01 .01M1178.9 663.5l.01 .01M1179.3 663l.01 .01M1181.4 660.6l.01 .01M1186.5 656.7l.01 .01M1194 652.4l.01 .01M1201.6 646.7l.01 .01M1209.1 641.3l.01 .01M1216.7 636.9l.01 .01M1224.3 633.8l.01 .01M1231.8 631.3l.01 .01M1239.4 629l.01 .01M1247 626.9l.01 .01M1254.5 625.7l.01 .01M1262.1 624.8l.01 .01M1269.6 624.1l.01 .01M1277.2 623.5l.01 .01M1284.8 622.8l.01 .01M1292.3 622.2l.01 .01M1299.9 621.7l.01 .01M1307.4 621.1l.01 .01M1315 620.5l.01 .01M1322.6 619.9l.01 .01M1330.1 619.2l.01 .01M1336.7 618.6l.01 .01M1356.4 617.2l.01 .01M1376.1 615.9l.01 .01M1395.9 614.9l.01 .01M1415.6 614.1l.01 .01M1435.3 613.4l.01 .01M1455 612.7l.01 .01M1474.8 611.9l.01 .01M1494.5 611.1l.01 .01M1514.2 610.3l.01 .01M1533.9 609.6l.01 .01M1553.7 608.8l.01 .01M1573.4 608.2l.01 .01M1612.8 607.2l.01 .01M1652.3 606.4l.01 .01M1691.7 605.6l.01 .01M1731.2 604.9l.01 .01M1770.6 604.2l.01 .01M1810.1 603.5l.01 .01M1849.5 602.7l.01 .01M1889 601.9l.01 .01M1928.5 601.4l.01 .01M1968.2 601l.01 .01"/>
<path stroke="#fff" stroke-linecap="square" stroke-width="2.1" d="M386.1 817.4l.01 .01M426 817l.01 .01M465.6 816.5l.01 .01M505.2 815.7l.01 .01M544.8 814.9l.01 .01M584.4 814.2l.01 .01M624 813.5l.01 .01M663.6 812.8l.01 .01M703.2 812l.01 .01M742.8 811.2l.01 .01M782.4 810.2l.01 .01M802.2 809.6l.01 .01M822 808.8l.01 .01M841.8 808.1l.01 .01M861.6 807.3l.01 .01M881.4 806.5l.01 .01M901.2 805.7l.01 .01M921 805l.01 .01M940.8 804.3l.01 .01M960.6 803.5l.01 .01M980.4 802.5l.01 .01M1000.2 801.2l.01 .01M1020 799.8l.01 .01M1026.6 799.2l.01 .01M1034.2 798.6l.01 .01M1041.8 798.1l.01 .01M1049.4 797.2l.01 .01M1057 796l.01 .01M1064.6 795.2l.01 .01M1072.1 794.3l.01 .01M1079.7 793.5l.01 .01M1087.3 792.4l.01 .01M1094.9 790.8l.01 .01M1102.5 788.7l.01 .01M1110.1 786.4l.01 .01M1117.7 784.2l.01 .01M1125.3 780.7l.01 .01M1132.9 776l.01 .01M1140.5 770.5l.01 .01M1148 762.2l.01 .01M1155.6 746.5l.01 .01M1163.2 722l.01 .01M1168.8 699.5l.01 .01M1170.8 689.9l.01 .01M1170.9 689.5l.01 .01M1173 681l.01 .01M1175.1 673.6l.01 .01M1177.2 667l.01 .01M1178.9 663.5l.01 .01M1179.3 663l.01 .01M1181.4 660.6l.01 .01M1186.5 656.7l.01 .01M1194 652.4l.01 .01M1201.6 646.7l.01 .01M1209.1 641.3l.01 .01M1216.7 636.9l.01 .01M1224.3 633.8l.01 .01M1231.8 631.3l.01 .01M1239.4 629l.01 .01M1247 626.9l.01 .01M1254.5 625.7l.01 .01M1262.1 624.8l.01 .01M1269.6 624.1l.01 .01M1277.2 623.5l.01 .01M1284.8 622.8l.01 .01M1292.3 622.2l.01 .01M1299.9 621.7l.01 .01M1307.4 621.1l.01 .01M1315 620.5l.01 .01M1322.6 619.9l.01 .01M1330.1 619.2l.01 .01M1336.7 618.6l.01 .01M1356.4 617.2l.01 .01M1376.1 615.9l.01 .01M1395.9 614.9l.01 .01M1415.6 614.1l.01 .01M1435.3 613.4l.01 .01M1455 612.7l.01 .01M1474.8 611.9l.01 .01M1494.5 611.1l.01 .01M1514.2 610.3l.01 .01M1533.9 609.6l.01 .01M1553.7 608.8l.01 .01M1573.4 608.2l.01 .01M1612.8 607.2l.01 .01M1652.3 606.4l.01 .01M1691.7 605.6l.01 .01M1731.2 604.9l.01 .01M1770.6 604.2l.01 .01M1810.1 603.5l.01 .01M1849.5 602.7l.01 .01M1889 601.9l.01 .01M1928.5 601.4l.01 .01M1968.2 601l.01 .01"/>
<path stroke="#58a8d8" stroke-linecap="square" stroke-width="5.7" d="M386.1 818.4l.01 .01M426 818l.01 .01M465.6 817.5l.01 .01M505.2 816.7l.01 .01M544.8 815.9l.01 .01M584.4 815.2l.01 .01M624 814.5l.01 .01M663.6 813.8l.01 .01M703.2 813l.01 .01M742.8 812.2l.01 .01M782.4 811.2l.01 .01M802.2 810.6l.01 .01M822 809.8l.01 .01M841.8 809.1l.01 .01M861.6 808.3l.01 .01M881.4 807.5l.01 .01M901.2 806.7l.01 .01M921 806l.01 .01M940.8 805.3l.01 .01M960.6 804.5l.01 .01M980.4 803.5l.01 .01M1000.2 802.2l.01 .01M1020 800.8l.01 .01M1026.6 800.2l.01 .01M1034.2 799.5l.01 .01M1041.8 798.9l.01 .01M1049.4 798.3l.01 .01M1057 797.7l.01 .01M1064.6 797.2l.01 .01M1072.1 796.6l.01 .01M1079.7 795.9l.01 .01M1087.3 795.3l.01 .01M1094.9 794.6l.01 .01M1102.5 793.7l.01 .01M1110.1 792.5l.01 .01M1117.7 790.4l.01 .01M1125.3 788.1l.01 .01M1132.9 785.6l.01 .01M1140.5 782.5l.01 .01M1148 778.1l.01 .01M1155.6 772.7l.01 .01M1163.2 767.1l.01 .01M1168.8 764.3l.01 .01M1170.8 763.4l.01 .01M1170.9 763.3l.01 .01M1173 762.2l.01 .01M1175.1 760.7l.01 .01M1177.2 758.8l.01 .01M1178.9 756.9l.01 .01M1179.3 756.2l.01 .01M1181.4 749.6l.01 .01M1186.5 729.4l.01 .01M1194 697.4l.01 .01M1201.6 672.9l.01 .01M1209.1 657.2l.01 .01M1216.7 648.9l.01 .01M1224.3 643.4l.01 .01M1231.8 638.7l.01 .01M1239.4 635.2l.01 .01M1247 633l.01 .01M1254.5 630.7l.01 .01M1262.1 628.6l.01 .01M1269.6 627l.01 .01M1277.2 625.9l.01 .01M1284.8 625.1l.01 .01M1292.3 624.2l.01 .01M1299.9 623.4l.01 .01M1307.4 622.2l.01 .01M1315 621.3l.01 .01M1322.6 620.8l.01 .01M1330.1 620.2l.01 .01M1336.7 619.6l.01 .01M1356.4 618.2l.01 .01M1376.1 616.9l.01 .01M1395.9 615.9l.01 .01M1415.6 615.1l.01 .01M1435.3 614.4l.01 .01M1455 613.7l.01 .01M1474.8 612.9l.01 .01M1494.5 612.1l.01 .01M1514.2 611.3l.01 .01M1533.9 610.6l.01 .01M1553.7 609.8l.01 .01M1573.4 609.2l.01 .01M1612.8 608.2l.01 .01M1652.3 607.4l.01 .01M1691.7 606.6l.01 .01M1731.2 605.9l.01 .01M1770.6 605.2l.01 .01M1810.1 604.5l.01 .01M1849.5 603.7l.01 .01M1889 602.9l.01 .01M1928.5 602.4l.01 .01M1968.2 602l.01 .01"/>
<path stroke="#fff" stroke-linecap="square" stroke-width="2.1" d="M386.1 818.4l.01 .01M426 818l.01 .01M465.6 817.5l.01 .01M505.2 816.7l.01 .01M544.8 815.9l.01 .01M584.4 815.2l.01 .01M624 814.5l.01 .01M663.6 813.8l.01 .01M703.2 813l.01 .01M742.8 812.2l.01 .01M782.4 811.2l.01 .01M802.2 810.6l.01 .01M822 809.8l.01 .01M841.8 809.1l.01 .01M861.6 808.3l.01 .01M881.4 807.5l.01 .01M901.2 806.7l.01 .01M921 806l.01 .01M940.8 805.3l.01 .01M960.6 804.5l.01 .01M980.4 803.5l.01 .01M1000.2 802.2l.01 .01M1020 800.8l.01 .01M1026.6 800.2l.01 .01M1034.2 799.5l.01 .01M1041.8 798.9l.01 .01M1049.4 798.3l.01 .01M1057 797.7l.01 .01M1064.6 797.2l.01 .01M1072.1 796.6l.01 .01M1079.7 795.9l.01 .01M1087.3 795.3l.01 .01M1094.9 794.6l.01 .01M1102.5 793.7l.01 .01M1110.1 792.5l.01 .01M1117.7 790.4l.01 .01M1125.3 788.1l.01 .01M1132.9 785.6l.01 .01M1140.5 782.5l.01 .01M1148 778.1l.01 .01M1155.6 772.7l.01 .01M1163.2 767.1l.01 .01M1168.8 764.3l.01 .01M1170.8 763.4l.01 .01M1170.9 763.3l.01 .01M1173 762.2l.01 .01M1175.1 760.7l.01 .01M1177.2 758.8l.01 .01M1178.9 756.9l.01 .01M1179.3 756.2l.01 .01M1181.4 749.6l.01 .01M1186.5 729.4l.01 .01M1194 697.4l.01 .01M1201.6 672.9l.01 .01M1209.1 657.2l.01 .01M1216.7 648.9l.01 .01M1224.3 643.4l.01 .01M1231.8 638.7l.01 .01M1239.4 635.2l.01 .01M1247 633l.01 .01M1254.5 630.7l.01 .01M1262.1 628.6l.01 .01M1269.6 627l.01 .01M1277.2 625.9l.01 .01M1284.8 625.1l.01 .01M1292.3 624.2l.01 .01M1299.9 623.4l.01 .01M1307.4 622.2l.01 .01M1315 621.3l.01 .01M1322.6 620.8l.01 .01M1330.1 620.2l.01 .01M1336.7 619.6l.01 .01M1356.4 618.2l.01 .01M1376.1 616.9l.01 .01M1395.9 615.9l.01 .01M1415.6 615.1l.01 .01M1435.3 614.4l.01 .01M1455 613.7l.01 .01M1474.8 612.9l.01 .01M1494.5 612.1l.01 .01M1514.2 611.3l.01 .01M1533.9 610.6l.01 .01M1553.7 609.8l.01 .01M1573.4 609.2l.01 .01M1612.8 608.2l.01 .01M1652.3 607.4l.01 .01M1691.7 606.6l.01 .01M1731.2 605.9l.01 .01M1770.6 605.2l.01 .01M1810.1 604.5l.01 .01M1849.5 603.7l.01 .01M1889 602.9l.01 .01M1928.5 602.4l.01 .01M1968.2 602l.01 .01"/>
</g>
<g fill="none" stroke="#808000" stroke-linecap="round" stroke-linejoin="round">
<path stroke-width="9.6" d="M390.8 721.2 430.7 720.8 470.3 720.5 509.9 720.1 549.5 719.8 589.1 719.5 628.7 719.3 668.3 719 707.9 718.6 747.5 718.2 787.1 717.8 806.9 717.6 826.7 717.4 846.5 717.1 866.3 716.9 886.1 716.7 905.9 716.5 925.7 716.3 945.5 716.2 965.3 716 985.1 715.9 1004.9 715.7 1024.7 715.5 1025.8 715.5 1028.3 715.5 1030.8 715.4 1031.3 715.4 1033.3 715.4 1035.8 715.4 1038.3 715.3 1038.9 715.3 1040.8 715.3 1043.3 715.2 1045.8 715.2 1046.5 715.2 1048.3 715.1 1050.8 715.1 1053.3 715 1054.1 715 1055.8 715 1058.3 714.9 1060.8 714.9 1061.7 714.9 1063.3 714.8 1065.8 714.8 1068.3 714.7 1069.3 714.7 1070.8 714.7 1073.3 714.6 1075.8 714.6 1076.8 714.5 1078.3 714.5 1080.8 714.4 1083.3 714.4 1084.4 714.4 1085.8 714.3 1088.3 714.3 1090.8 714.2 1092 714.2 1093.3 714.2 1095.8 714.1 1098.3 714.1 1099.6 714.1 1100.8 714 1103.3 714 1105.8 714 1107.2 713.9 1108.3 713.9 1110.8 713.9 1113.3 713.8 1114.8 713.8 1115.8 713.8 1118.3 713.8 1120.8 713.8 1122.4 713.7 1123.3 713.7 1125.8 713.7 1128.3 713.7 1130 713.7 1130.8 713.7 1133.3 713.6 1135.8 713.6 1137.6 713.6 1138.3 713.6 1140.8 713.6 1143.3 713.5 1145.2 713.5 1145.8 713.5 1148.3 713.5 1150.8 713.5 1152.7 713.5 1153.3 713.5 1155.8 713.5 1158.3 713.4 1160.3 713.4 1160.8 713.4 1163.3 713.4 1165.8 713.4 1167.9 713.4 1168.3 713.3 1170.8 713.3 1173.3 713.3 1175.5 713.3 1175.8 713.3 1178.3 713.3 1180.8 713.2 1183.3 713.2 1183.6 713.2 1185.8 713.2 1188.3 713.1 1190.8 713.1 1191.2 713.1 1193.3 713.1 1195.8 713.1 1198.3 713 1198.7 713 1200.8 713 1203.3 712.9 1205.8 712.9 1206.3 712.9 1208.3 712.9 1210.8 712.8 1213.3 712.8 1213.8 712.8 1215.8 712.8 1218.3 712.7 1220.8 712.7 1221.4 712.7 1223.3 712.6 1225.8 712.6 1228.3 712.6 1229 712.5 1230.8 712.5 1233.3 712.5 1235.8 712.4 1236.5 712.4 1238.3 712.4 1240.8 712.4 1243.3 712.3 1244.1 712.3 1245.8 712.3 1248.3 712.2 1250.8 712.2 1251.7 712.2 1253.3 712.1 1255.8 712.1 1258.3 712.1 1259.2 712 1260.8 712 1263.3 712 1265.8 711.9 1266.8 711.9 1268.3 711.9 1270.8 711.8 1273.3 711.8 1274.3 711.7 1275.8 711.7 1278.3 711.7 1280.8 711.6 1281.9 711.6 1283.3 711.5 1285.8 711.5 1288.3 711.4 1289.5 711.4 1290.8 711.4 1293.3 711.3 1295.8 711.3 1297 711.2 1298.3 711.2 1300.8 711.2 1303.3 711.1 1304.6 711.1 1305.8 711.1 1308.3 711 1310.8 711 1312.1 710.9 1313.3 710.9 1315.8 710.9 1318.3 710.8 1319.7 710.8 1320.8 710.8 1323.3 710.7 1325.8 710.7 1327.3 710.7 1328.3 710.7 1330.8 710.6 1333.3 710.6 1334.8 710.6 1335.8 710.6 1338.3 710.5 1340.8 710.5 1341.4 710.5 1361.1 710.3 1380.8 710.1 1400.6 710 1420.3 709.8 1440 709.7 1459.8 709.5 1479.5 709.3 1499.2 709.1 1518.9 708.9 1538.6 708.6 1558.4 708.4 1578.1 708.2 1617.5 707.8 1657 707.4 1696.4 707 1735.9 706.7 1775.3 706.5 1814.8 706.2 1854.2 705.9 1893.7 705.5 1933.2 705.2 1972.9 704.8"/>
<path stroke-width="9.6" d="M390.8 722.6 430.7 722.2 470.3 721.9 509.9 721.5 549.5 721.2 589.1 720.9 628.7 720.7 668.3 720.4 707.9 720 747.5 719.6 787.1 719.2 806.9 719 826.7 718.8 846.5 718.5 866.3 718.3 886.1 718.1 905.9 717.9 925.7 717.7 945.5 717.6 965.3 717.4 985.1 717.3 1004.9 717.1 1024.7 716.9 1025.8 716.9 1028.3 716.9 1030.8 716.8 1031.3 716.8 1033.3 716.8 1035.8 716.8 1038.3 716.7 1038.9 716.7 1040.8 716.7 1043.3 716.7 1045.8 716.6 1046.5 716.6 1048.3 716.6 1050.8 716.5 1053.3 716.5 1054.1 716.5 1055.8 716.4 1058.3 716.4 1060.8 716.3 1061.7 716.3 1063.3 716.3 1065.8 716.2 1068.3 716.2 1069.3 716.1 1070.8 716.1 1073.3 716.1 1075.8 716 1076.8 716 1078.3 716 1080.8 715.9 1083.3 715.8 1084.4 715.8 1085.8 715.8 1088.3 715.7 1090.8 715.7 1092 715.7 1093.3 715.6 1095.8 715.6 1098.3 715.5 1099.6 715.5 1100.8 715.5 1103.3 715.4 1105.8 715.4 1107.2 715.4 1108.3 715.3 1110.8 715.3 1113.3 715.3 1114.8 715.2 1115.8 715.2 1118.3 715.2 1120.8 715.1 1122.4 715.1 1123.3 715.1 1125.8 715 1128.3 715 1130 715 1130.8 715 1133.3 714.9 1135.8 714.9 1137.6 714.9 1138.3 714.8 1140.8 714.8 1143.3 714.8 1145.2 714.7 1145.8 714.7 1148.3 714.7 1150.8 714.6 1152.7 714.6 1153.3 714.6 1155.8 714.6 1158.3 714.5 1160.3 714.5 1160.8 714.5 1163.3 714.5 1165.8 714.4 1167.9 714.4 1168.3 714.4 1170.8 714.4 1173.3 714.3 1175.5 714.3 1175.8 714.3 1178.3 714.3 1180.8 714.2 1183.3 714.2 1183.6 714.2 1185.8 714.2 1188.3 714.1 1190.8 714.1 1191.2 714.1 1193.3 714.1 1195.8 714.1 1198.3 714.1 1198.7 714.1 1200.8 714 1203.3 714 1205.8 714 1206.3 714 1208.3 714 1210.8 714 1213.3 713.9 1213.8 713.9 1215.8 713.9 1218.3 713.9 1220.8 713.9 1221.4 713.9 1223.3 713.9 1225.8 713.8 1228.3 713.8 1229 713.8 1230.8 713.8 1233.3 713.8 1235.8 713.7 1236.5 713.7 1238.3 713.7 1240.8 713.7 1243.3 713.7 1244.1 713.7 1245.8 713.6 1248.3 713.6 1250.8 713.6 1251.7 713.6 1253.3 713.6 1255.8 713.5 1258.3 713.5 1259.2 713.5 1260.8 713.4 1263.3 713.4 1265.8 713.4 1266.8 713.3 1268.3 713.3 1270.8 713.3 1273.3 713.2 1274.3 713.2 1275.8 713.2 1278.3 713.1 1280.8 713.1 1281.9 713 1283.3 713 1285.8 713 1288.3 712.9 1289.5 712.9 1290.8 712.8 1293.3 712.8 1295.8 712.7 1297 712.7 1298.3 712.7 1300.8 712.6 1303.3 712.6 1304.6 712.5 1305.8 712.5 1308.3 712.5 1310.8 712.4 1312.1 712.4 1313.3 712.3 1315.8 712.3 1318.3 712.2 1319.7 712.2 1320.8 712.2 1323.3 712.2 1325.8 712.1 1327.3 712.1 1328.3 712.1 1330.8 712 1333.3 712 1334.8 712 1335.8 712 1338.3 711.9 1340.8 711.9 1341.4 711.9 1361.1 711.7 1380.8 711.5 1400.6 711.4 1420.3 711.2 1440 711.1 1459.8 710.9 1479.5 710.7 1499.2 710.5 1518.9 710.3 1538.6 710 1558.4 709.8 1578.1 709.6 1617.5 709.2 1657 708.8 1696.4 708.4 1735.9 708.1 1775.3 707.9 1814.8 707.6 1854.2 707.3 1893.7 706.9 1933.2 706.6 1972.9 706.2"/>
<g transform="scale(1 1.11842)">
<path stroke-width="15.2" d="M390.8 644.8h0M430.7 644.5h0M470.3 644.2h0M509.9 643.9h0M549.5 643.6h0M589.1 643.3h0M628.7 643.1h0M668.3 642.8h0M707.9 642.5h0M747.5 642.2h0M787.1 641.8h0M806.9 641.6h0M826.7 641.4h0M846.5 641.2h0M866.3 641h0M886.1 640.8h0M905.9 640.6h0M925.7 640.5h0M945.5 640.3h0M965.3 640.2h0M985.1 640.1h0M1004.9 639.9h0M1024.7 639.8h0M1031.3 639.7h0M1038.9 639.6h0M1046.5 639.5h0M1054.1 639.3h0M1061.7 639.2h0M1069.3 639h0M1076.8 638.9h0M1084.4 638.7h0M1092 638.6h0M1099.6 638.5h0M1107.2 638.3h0M1114.8 638.2h0M1122.4 638.2h0M1130 638.1h0M1137.6 638h0M1145.2 638h0M1152.7 637.9h0M1160.3 637.9h0M1167.9 637.8h0M1175.5 637.8h0M1183.6 637.7h0M1191.2 637.6h0M1198.7 637.5h0M1206.3 637.4h0M1213.8 637.3h0M1221.4 637.2h0M1229 637.1h0M1236.5 637h0M1244.1 636.9h0M1251.7 636.8h0M1259.2 636.6h0M1266.8 636.5h0M1274.3 636.4h0M1281.9 636.2h0M1289.5 636.1h0M1297 635.9h0M1304.6 635.8h0M1312.1 635.7h0M1319.7 635.5h0M1327.3 635.4h0M1334.8 635.3h0M1341.4 635.3h0M1361.1 635.1h0M1380.8 634.9h0M1400.6 634.8h0M1420.3 634.7h0M1440 634.5h0M1459.8 634.4h0M1479.5 634.2h0M1499.2 634h0M1518.9 633.8h0M1538.6 633.6h0M1558.4 633.4h0M1578.1 633.2h0M1617.5 632.8h0M1657 632.5h0M1696.4 632.2h0M1735.9 631.9h0M1775.3 631.7h0M1814.8 631.4h0M1854.2 631.1h0M1893.7 630.8h0M1933.2 630.5h0M1972.9 630.2h0"/>
<path stroke-width="15.2" d="M390.8 646.1h0M430.7 645.7h0M470.3 645.4h0M509.9 645.1h0M549.5 644.8h0M589.1 644.6h0M628.7 644.4h0M668.3 644.1h0M707.9 643.8h0M747.5 643.4h0M787.1 643.1h0M806.9 642.9h0M826.7 642.7h0M846.5 642.5h0M866.3 642.3h0M886.1 642.1h0M905.9 641.9h0M925.7 641.7h0M945.5 641.6h0M965.3 641.5h0M985.1 641.3h0M1004.9 641.2h0M1024.7 641h0M1031.3 640.9h0M1038.9 640.8h0M1046.5 640.7h0M1054.1 640.6h0M1061.7 640.5h0M1069.3 640.3h0M1076.8 640.2h0M1084.4 640h0M1092 639.9h0M1099.6 639.8h0M1107.2 639.6h0M1114.8 639.5h0M1122.4 639.4h0M1130 639.3h0M1137.6 639.2h0M1145.2 639.1h0M1152.7 638.9h0M1160.3 638.8h0M1167.9 638.8h0M1175.5 638.7h0M1183.6 638.6h0M1191.2 638.5h0M1198.7 638.4h0M1206.3 638.4h0M1213.8 638.3h0M1221.4 638.3h0M1229 638.2h0M1236.5 638.2h0M1244.1 638.1h0M1251.7 638h0M1259.2 637.9h0M1266.8 637.8h0M1274.3 637.7h0M1281.9 637.5h0M1289.5 637.4h0M1297 637.2h0M1304.6 637.1h0M1312.1 636.9h0M1319.7 636.8h0M1327.3 636.7h0M1334.8 636.6h0M1341.4 636.5h0M1361.1 636.3h0M1380.8 636.2h0M1400.6 636.1h0M1420.3 635.9h0M1440 635.8h0M1459.8 635.6h0M1479.5 635.5h0M1499.2 635.3h0M1518.9 635.1h0M1538.6 634.9h0M1558.4 634.7h0M1578.1 634.5h0M1617.5 634.1h0M1657 633.7h0M1696.4 633.4h0M1735.9 633.2h0M1775.3 632.9h0M1814.8 632.7h0M1854.2 632.4h0M1893.7 632.1h0M1933.2 631.8h0M1972.9 631.4h0"/>
</g>
<path stroke="#f0a080" stroke-linecap="square" stroke-width="5.7" d="M386.1 717.2l.01 .01M426 716.8l.01 .01M465.6 716.5l.01 .01M505.2 716.1l.01 .01M544.8 715.8l.01 .01M584.4 715.5l.01 .01M624 715.3l.01 .01M663.6 715l.01 .01M703.2 714.6l.01 .01M742.8 714.2l.01 .01M782.4 713.8l.01 .01M802.2 713.6l.01 .01M822 713.4l.01 .01M841.8 713.1l.01 .01M861.6 712.9l.01 .01M881.4 712.7l.01 .01M901.2 712.5l.01 .01M921 712.3l.01 .01M940.8 712.2l.01 .01M960.6 712l.01 .01M980.4 711.9l.01 .01M1000.2 711.7l.01 .01M1020 711.5l.01 .01M1026.6 711.4l.01 .01M1034.2 711.3l.01 .01M1041.8 711.2l.01 .01M1049.4 711l.01 .01M1057 710.9l.01 .01M1064.6 710.7l.01 .01M1072.1 710.5l.01 .01M1079.7 710.4l.01 .01M1087.3 710.2l.01 .01M1094.9 710.1l.01 .01M1102.5 709.9l.01 .01M1110.1 709.8l.01 .01M1117.7 709.7l.01 .01M1125.3 709.7l.01 .01M1132.9 709.6l.01 .01M1140.5 709.5l.01 .01M1148 709.5l.01 .01M1155.6 709.4l.01 .01M1163.2 709.4l.01 .01M1170.8 709.3l.01 .01M1178.9 709.2l.01 .01M1186.5 709.1l.01 .01M1194 709l.01 .01M1201.6 708.9l.01 .01M1209.1 708.8l.01 .01M1216.7 708.7l.01 .01M1224.3 708.5l.01 .01M1231.8 708.4l.01 .01M1239.4 708.3l.01 .01M1247 708.2l.01 .01M1254.5 708l.01 .01M1262.1 707.9l.01 .01M1269.6 707.7l.01 .01M1277.2 707.6l.01 .01M1284.8 707.4l.01 .01M1292.3 707.2l.01 .01M1299.9 707.1l.01 .01M1307.4 706.9l.01 .01M1315 706.8l.01 .01M1322.6 706.7l.01 .01M1330.1 706.6l.01 .01M1336.7 706.5l.01 .01M1356.4 706.3l.01 .01M1376.1 706.1l.01 .01M1395.9 706l.01 .01M1415.6 705.8l.01 .01M1435.3 705.7l.01 .01M1455 705.5l.01 .01M1474.8 705.3l.01 .01M1494.5 705.1l.01 .01M1514.2 704.9l.01 .01M1533.9 704.6l.01 .01M1553.7 704.4l.01 .01M1573.4 704.2l.01 .01M1612.8 703.8l.01 .01M1652.3 703.4l.01 .01M1691.7 703l.01 .01M1731.2 702.7l.01 .01M1770.6 702.5l.01 .01M1810.1 702.2l.01 .01M1849.5 701.9l.01 .01M1889 701.5l.01 .01M1928.5 701.2l.01 .01M1968.2 700.8l.01 .01"/>
<path stroke="#fff" stroke-linecap="square" stroke-width="2.1" d="M386.1 717.2l.01 .01M426 716.8l.01 .01M465.6 716.5l.01 .01M505.2 716.1l.01 .01M544.8 715.8l.01 .01M584.4 715.5l.01 .01M624 715.3l.01 .01M663.6 715l.01 .01M703.2 714.6l.01 .01M742.8 714.2l.01 .01M782.4 713.8l.01 .01M802.2 713.6l.01 .01M822 713.4l.01 .01M841.8 713.1l.01 .01M861.6 712.9l.01 .01M881.4 712.7l.01 .01M901.2 712.5l.01 .01M921 712.3l.01 .01M940.8 712.2l.01 .01M960.6 712l.01 .01M980.4 711.9l.01 .01M1000.2 711.7l.01 .01M1020 711.5l.01 .01M1026.6 711.4l.01 .01M1034.2 711.3l.01 .01M1041.8 711.2l.01 .01M1049.4 711l.01 .01M1057 710.9l.01 .01M1064.6 710.7l.01 .01M1072.1 710.5l.01 .01M1079.7 710.4l.01 .01M1087.3 710.2l.01 .01M1094.9 710.1l.01 .01M1102.5 709.9l.01 .01M1110.1 709.8l.01 .01M1117.7 709.7l.01 .01M1125.3 709.7l.01 .01M1132.9 709.6l.01 .01M1140.5 709.5l.01 .01M1148 709.5l.01 .01M1155.6 709.4l.01 .01M1163.2 709.4l.01 .01M1170.8 709.3l.01 .01M1178.9 709.2l.01 .01M1186.5 709.1l.01 .01M1194 709l.01 .01M1201.6 708.9l.01 .01M1209.1 708.8l.01 .01M1216.7 708.7l.01 .01M1224.3 708.5l.01 .01M1231.8 708.4l.01 .01M1239.4 708.3l.01 .01M1247 708.2l.01 .01M1254.5 708l.01 .01M1262.1 707.9l.01 .01M1269.6 707.7l.01 .01M1277.2 707.6l.01 .01M1284.8 707.4l.01 .01M1292.3 707.2l.01 .01M1299.9 707.1l.01 .01M1307.4 706.9l.01 .01M1315 706.8l.01 .01M1322.6 706.7l.01 .01M1330.1 706.6l.01 .01M1336.7 706.5l.01 .01M1356.4 706.3l.01 .01M1376.1 706.1l.01 .01M1395.9 706l.01 .01M1415.6 705.8l.01 .01M1435.3 705.7l.01 .01M1455 705.5l.01 .01M1474.8 705.3l.01 .01M1494.5 705.1l.01 .01M1514.2 704.9l.01 .01M1533.9 704.6l.01 .01M1553.7 704.4l.01 .01M1573.4 704.2l.01 .01M1612.8 703.8l.01 .01M1652.3 703.4l.01 .01M1691.7 703l.01 .01M1731.2 702.7l.01 .01M1770.6 702.5l.01 .01M1810.1 702.2l.01 .01M1849.5 701.9l.01 .01M1889 701.5l.01 .01M1928.5 701.2l.01 .01M1968.2 700.8l.01 .01"/>
<path stroke="#f0a080" stroke-linecap="square" stroke-width="5.7" d="M386.1 718.6l.01 .01M426 718.2l.01 .01M465.6 717.9l.01 .01M505.2 717.5l.01 .01M544.8 717.2l.01 .01M584.4 716.9l.01 .01M624 716.7l.01 .01M663.6 716.4l.01 .01M703.2 716l.01 .01M742.8 715.6l.01 .01M782.4 715.2l.01 .01M802.2 715l.01 .01M822 714.8l.01 .01M841.8 714.5l.01 .01M861.6 714.3l.01 .01M881.4 714.1l.01 .01M901.2 713.9l.01 .01M921 713.7l.01 .01M940.8 713.6l.01 .01M960.6 713.4l.01 .01M980.4 713.3l.01 .01M1000.2 713.1l.01 .01M1020 712.9l.01 .01M1026.6 712.8l.01 .01M1034.2 712.7l.01 .01M1041.8 712.6l.01 .01M1049.4 712.5l.01 .01M1057 712.3l.01 .01M1064.6 712.1l.01 .01M1072.1 712l.01 .01M1079.7 711.8l.01 .01M1087.3 711.7l.01 .01M1094.9 711.5l.01 .01M1102.5 711.4l.01 .01M1110.1 711.2l.01 .01M1117.7 711.1l.01 .01M1125.3 711l.01 .01M1132.9 710.9l.01 .01M1140.5 710.7l.01 .01M1148 710.6l.01 .01M1155.6 710.5l.01 .01M1163.2 710.4l.01 .01M1170.8 710.3l.01 .01M1178.9 710.2l.01 .01M1186.5 710.1l.01 .01M1194 710.1l.01 .01M1201.6 710l.01 .01M1209.1 709.9l.01 .01M1216.7 709.9l.01 .01M1224.3 709.8l.01 .01M1231.8 709.7l.01 .01M1239.4 709.7l.01 .01M1247 709.6l.01 .01M1254.5 709.5l.01 .01M1262.1 709.3l.01 .01M1269.6 709.2l.01 .01M1277.2 709l.01 .01M1284.8 708.9l.01 .01M1292.3 708.7l.01 .01M1299.9 708.5l.01 .01M1307.4 708.4l.01 .01M1315 708.2l.01 .01M1322.6 708.1l.01 .01M1330.1 708l.01 .01M1336.7 707.9l.01 .01M1356.4 707.7l.01 .01M1376.1 707.5l.01 .01M1395.9 707.4l.01 .01M1415.6 707.2l.01 .01M1435.3 707.1l.01 .01M1455 706.9l.01 .01M1474.8 706.7l.01 .01M1494.5 706.5l.01 .01M1514.2 706.3l.01 .01M1533.9 706l.01 .01M1553.7 705.8l.01 .01M1573.4 705.6l.01 .01M1612.8 705.2l.01 .01M1652.3 704.8l.01 .01M1691.7 704.4l.01 .01M1731.2 704.1l.01 .01M1770.6 703.9l.01 .01M1810.1 703.6l.01 .01M1849.5 703.3l.01 .01M1889 702.9l.01 .01M1928.5 702.6l.01 .01M1968.2 702.2l.01 .01"/>
<path stroke="#fff" stroke-linecap="square" stroke-width="2.1" d="M386.1 718.6l.01 .01M426 718.2l.01 .01M465.6 717.9l.01 .01M505.2 717.5l.01 .01M544.8 717.2l.01 .01M584.4 716.9l.01 .01M624 716.7l.01 .01M663.6 716.4l.01 .01M703.2 716l.01 .01M742.8 715.6l.01 .01M782.4 715.2l.01 .01M802.2 715l.01 .01M822 714.8l.01 .01M841.8 714.5l.01 .01M861.6 714.3l.01 .01M881.4 714.1l.01 .01M901.2 713.9l.01 .01M921 713.7l.01 .01M940.8 713.6l.01 .01M960.6 713.4l.01 .01M980.4 713.3l.01 .01M1000.2 713.1l.01 .01M1020 712.9l.01 .01M1026.6 712.8l.01 .01M1034.2 712.7l.01 .01M1041.8 712.6l.01 .01M1049.4 712.5l.01 .01M1057 712.3l.01 .01M1064.6 712.1l.01 .01M1072.1 712l.01 .01M1079.7 711.8l.01 .01M1087.3 711.7l.01 .01M1094.9 711.5l.01 .01M1102.5 711.4l.01 .01M1110.1 711.2l.01 .01M1117.7 711.1l.01 .01M1125.3 711l.01 .01M1132.9 710.9l.01 .01M1140.5 710.7l.01 .01M1148 710.6l.01 .01M1155.6 710.5l.01 .01M1163.2 710.4l.01 .01M1170.8 710.3l.01 .01M1178.9 710.2l.01 .01M1186.5 710.1l.01 .01M1194 710.1l.01 .01M1201.6 710l.01 .01M1209.1 709.9l.01 .01M1216.7 709.9l.01 .01M1224.3 709.8l.01 .01M1231.8 709.7l.01 .01M1239.4 709.7l.01 .01M1247 709.6l.01 .01M1254.5 709.5l.01 .01M1262.1 709.3l.01 .01M1269.6 709.2l.01 .01M1277.2 709l.01 .01M1284.8 708.9l.01 .01M1292.3 708.7l.01 .01M1299.9 708.5l.01 .01M1307.4 708.4l.01 .01M1315 708.2l.01 .01M1322.6 708.1l.01 .01M1330.1 708l.01 .01M1336.7 707.9l.01 .01M1356.4 707.7l.01 .01M1376.1 707.5l.01 .01M1395.9 707.4l.01 .01M1415.6 707.2l.01 .01M1435.3 707.1l.01 .01M1455 706.9l.01 .01M1474.8 706.7l.01 .01M1494.5 706.5l.01 .01M1514.2 706.3l.01 .01M1533.9 706l.01 .01M1553.7 705.8l.01 .01M1573.4 705.6l.01 .01M1612.8 705.2l.01 .01M1652.3 704.8l.01 .01M1691.7 704.4l.01 .01M1731.2 704.1l.01 .01M1770.6 703.9l.01 .01M1810.1 703.6l.01 .01M1849.5 703.3l.01 .01M1889 702.9l.01 .01M1928.5 702.6l.01 .01M1968.2 702.2l.01 .01"/>
</g>
<g stroke="#000" fill="none">
<path stroke-width="2.6" d="M1183.5 45.2 V1384"/>
<path stroke-width="2.6" d="M236.1 713.7 H2128.1"/>
</g>
<g stroke="#000" fill="none" stroke-width="6.4" stroke-linecap="round">
<path stroke-linecap="butt" stroke-width="7.4" d="M236.05 42.1V1387.5"/>
<path stroke-linecap="butt" stroke-width="5.9" d="M2128.1 42.1V1387.5"/>
<path stroke-linecap="butt" stroke-width="6.2" d="M236.1 45.2H2131.1"/>
<path stroke-linecap="butt" stroke-width="7" d="M236.1 1384H2132.3"/>
<path d="M236.1 45.2H211.5M236.1 112.1H222.5M236.1 179.1H211.5M236.1 246H222.5M236.1 313H211.5M236.1 379.9H222.5M236.1 446.9H211.5M236.1 513.8H222.5M236.1 580.7H211.5M236.1 647.7H222.5M236.1 714.6H211.5M236.1 781.6H222.5M236.1 848.5H211.5M236.1 915.5H222.5M236.1 982.4H211.5M236.1 1049.3H222.5M236.1 1116.3H211.5M236.1 1183.2H222.5M236.1 1250.2H211.5M236.1 1317.1H222.5M236.1 1384H211.5M394.3 1384V1409M591.7 1384V1397.5M789 1384V1409M986.2 1384V1397.5M1183.3 1384V1409M1380.6 1384V1397.5M1578 1384V1409M1775.2 1384V1397.5M1972.2 1384V1409M472.5 45.2V57.5M709.5 45.2V68.5M945.5 45.2V57.5M1182 45.2V68.5M1419 45.2V57.5M1655.5 45.2V68.5M1892 45.2V57.5"/>
<path stroke-linecap="butt" stroke-width="6" d="M2128.1 112.1H2113.8M2128.1 179.1H2102.5M2128.1 246H2113.8M2128.1 313H2102.5M2128.1 379.9H2113.8M2128.1 446.9H2102.5M2128.1 513.8H2113.8M2128.1 580.7H2102.5M2128.1 647.7H2113.8M2128.1 714.6H2102.5M2128.1 781.6H2113.8M2128.1 848.5H2102.5M2128.1 915.5H2113.8M2128.1 982.4H2102.5M2128.1 1049.3H2113.8M2128.1 1116.3H2102.5M2128.1 1183.2H2113.8M2128.1 1250.2H2102.5M2128.1 1317.1H2113.8"/>
</g>
<text class="ab" font-size="55" transform="translate(193.2 57.8) scale(0.942 1)" text-anchor="end">100</text>
<text class="ab" font-size="55" transform="translate(193.2 191.7) scale(0.942 1)" text-anchor="end">80</text>
<text class="ab" font-size="55" transform="translate(193.2 325.6) scale(0.942 1)" text-anchor="end">60</text>
<text class="ab" font-size="55" transform="translate(193.2 459.5) scale(0.942 1)" text-anchor="end">40</text>
<text class="ab" font-size="55" transform="translate(193.2 593.3) scale(0.942 1)" text-anchor="end">20</text>
<text class="ab" font-size="55" transform="translate(193.2 727.2) scale(0.942 1)" text-anchor="end">0</text>
<text class="ab" font-size="55" transform="translate(193.2 861.1) scale(0.942 1)" text-anchor="end">-20</text>
<text class="ab" font-size="55" transform="translate(193.2 995) scale(0.942 1)" text-anchor="end">-40</text>
<text class="ab" font-size="55" transform="translate(193.2 1128.9) scale(0.942 1)" text-anchor="end">-60</text>
<text class="ab" font-size="55" transform="translate(193.2 1262.8) scale(0.942 1)" text-anchor="end">-80</text>
<text class="ab" font-size="55" transform="translate(193.2 1396.6) scale(0.942 1)" text-anchor="end">-100</text>
<text class="ab" font-size="55" transform="translate(369.6 1467.2) scale(0.942 1)" text-anchor="middle">-12000</text>
<text class="ab" font-size="55" transform="translate(642 1467.2) scale(0.942 1)" text-anchor="middle">-8000</text>
<text class="ab" font-size="55" transform="translate(911.5 1467.2) scale(0.942 1)" text-anchor="middle">-4000</text>
<text class="ab" font-size="55" transform="translate(1181 1467.2) scale(0.942 1)" text-anchor="middle">0</text>
<text class="ab" font-size="55" transform="translate(1452.5 1467.2) scale(0.942 1)" text-anchor="middle">4000</text>
<text class="ab" font-size="55" transform="translate(1722.5 1467.2) scale(0.942 1)" text-anchor="middle">8000</text>
<text class="ab" font-size="55" transform="translate(1995 1467.2) scale(0.942 1)" text-anchor="middle">12000</text>
<text class="ar" font-size="77.5" transform="translate(1079 1569.2) scale(0.984 1)" stroke="#000" stroke-width="1">H (Oe)</text>
<text class="ar" font-size="77.5" stroke="#000" stroke-width="1.1" transform="translate(70.6 837.6) rotate(-90) scale(1.0000 1)">Ms (emu/g)</text>
<text class="ab" font-size="77" transform="translate(497.5 615.7) scale(0.96 1)" letter-spacing="0.7">CoAl<tspan font-size="49.5">x</tspan>Fe<tspan font-size="49.5">2-x</tspan>O<tspan font-size="49.5">4</tspan></text>
<text class="ab" font-size="66.5" transform="translate(1995 147) scale(0.932 1)">x=0</text>
<text class="ab" font-size="64.5" transform="translate(1945.9 775.3) scale(0.955 1)">x=1.5</text>
<g stroke="#f00" fill="#f00" stroke-linejoin="round" stroke-linecap="round">
<path stroke-width="9.6" fill="none" stroke-linecap="round" d="M2045.3 196.6V630"/>
<path stroke-width="6" d="M2031.7 628.7 H2057.7 L2045.4 678.6 Z"/>
</g>
<rect x="288.5" y="65.4" width="331.9" height="412.3" fill="#fff" stroke="#000" stroke-width="3"/>
<g stroke="#000" fill="none" stroke-linecap="round">
<path stroke-width="7.4" d="M308.1 114.9H447.3"/>
<ellipse cx="378" cy="115.5" rx="7.6" ry="8.7" fill="#000" stroke="none"/>
<path stroke="#8c8c8c" stroke-linecap="square" stroke-width="5.2" d="M372.6 110.9l.01 .01"/>
<path stroke="#fff" stroke-linecap="square" stroke-width="2.1" d="M372.6 110.9l.01 .01"/>
</g>
<text class="tb" font-size="62.5" transform="translate(463.8 135.2) scale(0.97 1)" stroke="#000" stroke-width="0.9">x=0</text>
<g stroke="#f00" fill="none" stroke-linecap="round">
<path stroke-width="7.4" d="M308.1 194.3H447.3"/>
<ellipse cx="378" cy="194.9" rx="7.6" ry="8.7" fill="#f00" stroke="none"/>
<path stroke="#ff7070" stroke-linecap="square" stroke-width="5.2" d="M372.6 190.3l.01 .01"/>
<path stroke="#fff" stroke-linecap="square" stroke-width="2.1" d="M372.6 190.3l.01 .01"/>
</g>
<text class="tb" font-size="62.5" transform="translate(463.8 213.5) scale(0.97 1)" stroke="#000" stroke-width="0.9">x=0.1</text>
<g stroke="#f0f" fill="none" stroke-linecap="round">
<path stroke-width="7.4" d="M308.1 274.2H447.3"/>
<ellipse cx="378" cy="274.8" rx="7.6" ry="8.7" fill="#f0f" stroke="none"/>
<path stroke="#ffa0b8" stroke-linecap="square" stroke-width="5.2" d="M372.6 270.2l.01 .01"/>
<path stroke="#fff" stroke-linecap="square" stroke-width="2.1" d="M372.6 270.2l.01 .01"/>
</g>
<text class="tb" font-size="62.5" transform="translate(463.8 294.5) scale(0.97 1)" stroke="#000" stroke-width="0.9">x=0.5</text>
<g stroke="#00f" fill="none" stroke-linecap="round">
<path stroke-width="7.4" d="M308.1 353.6H447.3"/>
<ellipse cx="378" cy="354.2" rx="7.6" ry="8.7" fill="#00f" stroke="none"/>
<path stroke="#58a8d8" stroke-linecap="square" stroke-width="5.2" d="M372.6 349.6l.01 .01"/>
<path stroke="#fff" stroke-linecap="square" stroke-width="2.1" d="M372.6 349.6l.01 .01"/>
</g>
<text class="tb" font-size="62.5" transform="translate(463.8 374.5) scale(0.97 1)" stroke="#000" stroke-width="0.9">x=1.0</text>
<g stroke="#808000" fill="none" stroke-linecap="round">
<path stroke-width="10.4" d="M309.6 434.2H445.8"/>
<ellipse cx="378" cy="434.8" rx="7.6" ry="8.7" fill="#808000" stroke="none"/>
<path stroke="#f0a080" stroke-linecap="square" stroke-width="5.2" d="M372.6 430.2l.01 .01"/>
<path stroke="#fff" stroke-linecap="square" stroke-width="2.1" d="M372.6 430.2l.01 .01"/>
</g>
<text class="tb" font-size="62.5" transform="translate(463.8 454.5) scale(0.97 1)" stroke="#000" stroke-width="0.9">x=1.5</text>
</svg></body></html>
